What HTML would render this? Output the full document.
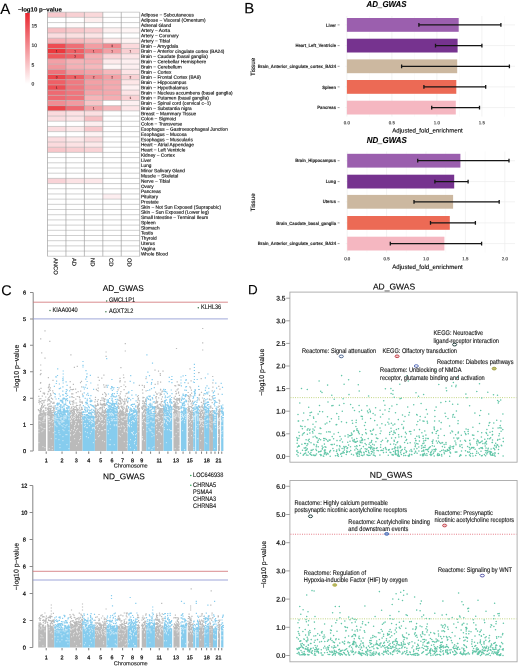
<!DOCTYPE html>
<html><head><meta charset="utf-8"><style>
html,body{margin:0;padding:0;background:#fff;width:520px;height:666px;overflow:hidden}
svg{display:block;font-family:"Liberation Sans", sans-serif;filter:blur(0.3px)}
text{stroke:#000;stroke-opacity:.45;stroke-width:.24px;text-rendering:geometricPrecision}
</style></head><body>
<svg width="520" height="666" viewBox="0 0 520 666">
<rect width="520" height="666" fill="#fff"/>
<text x="0.30" y="14.10" font-size="15" transform="rotate(0.03 0.30 14.10)">A</text>
<text x="17.90" y="11.60" font-size="6.1" font-weight="bold" transform="rotate(0.03 17.90 11.60)">−log10 p−value</text>
<defs><linearGradient id="cb" x1="0" y1="1" x2="0" y2="0"><stop offset="0" stop-color="#ffffff"/><stop offset="1" stop-color="#e8262f"/></linearGradient></defs>
<rect x="25.2" y="13" width="4.6" height="70.8" fill="url(#cb)"/>
<text x="31.60" y="27.50" font-size="5.0" fill="#111" transform="rotate(0.03 31.60 27.50)">15</text>
<text x="31.60" y="47.10" font-size="5.0" fill="#111" transform="rotate(0.03 31.60 47.10)">10</text>
<text x="31.60" y="66.70" font-size="5.0" fill="#111" transform="rotate(0.03 31.60 66.70)">5</text>
<text x="31.60" y="85.60" font-size="5.0" fill="#111" transform="rotate(0.03 31.60 85.60)">0</text>
<g>
<rect x="47.50" y="12.20" width="18.44" height="5.193" fill="#f8c8cc"/>
<rect x="65.94" y="12.20" width="18.44" height="5.193" fill="#f8d0d3"/>
<rect x="84.38" y="12.20" width="18.44" height="5.193" fill="#fad8da"/>
<rect x="102.82" y="12.20" width="18.44" height="5.193" fill="#ffffff"/>
<rect x="121.26" y="12.20" width="18.44" height="5.193" fill="#ffffff"/>
<rect x="47.50" y="17.39" width="18.44" height="5.193" fill="#ffffff"/>
<rect x="65.94" y="17.39" width="18.44" height="5.193" fill="#ffffff"/>
<rect x="84.38" y="17.39" width="18.44" height="5.193" fill="#fdeeee"/>
<rect x="102.82" y="17.39" width="18.44" height="5.193" fill="#ffffff"/>
<rect x="121.26" y="17.39" width="18.44" height="5.193" fill="#ffffff"/>
<rect x="47.50" y="22.59" width="18.44" height="5.193" fill="#ffffff"/>
<rect x="65.94" y="22.59" width="18.44" height="5.193" fill="#fefafa"/>
<rect x="84.38" y="22.59" width="18.44" height="5.193" fill="#ffffff"/>
<rect x="102.82" y="22.59" width="18.44" height="5.193" fill="#ffffff"/>
<rect x="121.26" y="22.59" width="18.44" height="5.193" fill="#ffffff"/>
<rect x="47.50" y="27.78" width="18.44" height="5.193" fill="#f7c0c4"/>
<rect x="65.94" y="27.78" width="18.44" height="5.193" fill="#f8c8cb"/>
<rect x="84.38" y="27.78" width="18.44" height="5.193" fill="#f9cfd2"/>
<rect x="102.82" y="27.78" width="18.44" height="5.193" fill="#fdf0f0"/>
<rect x="121.26" y="27.78" width="18.44" height="5.193" fill="#fef5f5"/>
<rect x="47.50" y="32.97" width="18.44" height="5.193" fill="#fbdcdf"/>
<rect x="65.94" y="32.97" width="18.44" height="5.193" fill="#fbdfe0"/>
<rect x="84.38" y="32.97" width="18.44" height="5.193" fill="#fce4e5"/>
<rect x="102.82" y="32.97" width="18.44" height="5.193" fill="#ffffff"/>
<rect x="121.26" y="32.97" width="18.44" height="5.193" fill="#ffffff"/>
<rect x="47.50" y="38.16" width="18.44" height="5.193" fill="#f5b0b5"/>
<rect x="65.94" y="38.16" width="18.44" height="5.193" fill="#f6b8bc"/>
<rect x="84.38" y="38.16" width="18.44" height="5.193" fill="#f7c0c3"/>
<rect x="102.82" y="38.16" width="18.44" height="5.193" fill="#fde8e9"/>
<rect x="121.26" y="38.16" width="18.44" height="5.193" fill="#fef3f3"/>
<rect x="47.50" y="43.36" width="18.44" height="5.193" fill="#ee4c52"/>
<rect x="65.94" y="43.36" width="18.44" height="5.193" fill="#ee6f76"/>
<rect x="84.38" y="43.36" width="18.44" height="5.193" fill="#f39da2"/>
<rect x="102.82" y="43.36" width="18.44" height="5.193" fill="#f08a90"/>
<rect x="121.26" y="43.36" width="18.44" height="5.193" fill="#fcd9dc"/>
<rect x="47.50" y="48.55" width="18.44" height="5.193" fill="#ec383d"/>
<rect x="65.94" y="48.55" width="18.44" height="5.193" fill="#ef5e63"/>
<rect x="84.38" y="48.55" width="18.44" height="5.193" fill="#f07f86"/>
<rect x="102.82" y="48.55" width="18.44" height="5.193" fill="#f4a0a5"/>
<rect x="121.26" y="48.55" width="18.44" height="5.193" fill="#f9cfd2"/>
<rect x="47.50" y="53.74" width="18.44" height="5.193" fill="#ef565b"/>
<rect x="65.94" y="53.74" width="18.44" height="5.193" fill="#ef6167"/>
<rect x="84.38" y="53.74" width="18.44" height="5.193" fill="#f5aeb3"/>
<rect x="102.82" y="53.74" width="18.44" height="5.193" fill="#fbd5d8"/>
<rect x="121.26" y="53.74" width="18.44" height="5.193" fill="#fde6e8"/>
<rect x="47.50" y="58.94" width="18.44" height="5.193" fill="#f3a0a6"/>
<rect x="65.94" y="58.94" width="18.44" height="5.193" fill="#f5b3b7"/>
<rect x="84.38" y="58.94" width="18.44" height="5.193" fill="#f5b0b5"/>
<rect x="102.82" y="58.94" width="18.44" height="5.193" fill="#fdeaeb"/>
<rect x="121.26" y="58.94" width="18.44" height="5.193" fill="#fdeff0"/>
<rect x="47.50" y="64.13" width="18.44" height="5.193" fill="#f2979d"/>
<rect x="65.94" y="64.13" width="18.44" height="5.193" fill="#f5b0b5"/>
<rect x="84.38" y="64.13" width="18.44" height="5.193" fill="#f6b8bc"/>
<rect x="102.82" y="64.13" width="18.44" height="5.193" fill="#fef6f6"/>
<rect x="121.26" y="64.13" width="18.44" height="5.193" fill="#fdeff0"/>
<rect x="47.50" y="69.32" width="18.44" height="5.193" fill="#ee727a"/>
<rect x="65.94" y="69.32" width="18.44" height="5.193" fill="#f29aa0"/>
<rect x="84.38" y="69.32" width="18.44" height="5.193" fill="#f3a3a8"/>
<rect x="102.82" y="69.32" width="18.44" height="5.193" fill="#f6b8bc"/>
<rect x="121.26" y="69.32" width="18.44" height="5.193" fill="#fde4e6"/>
<rect x="47.50" y="74.52" width="18.44" height="5.193" fill="#ec464b"/>
<rect x="65.94" y="74.52" width="18.44" height="5.193" fill="#ef5f64"/>
<rect x="84.38" y="74.52" width="18.44" height="5.193" fill="#f08a90"/>
<rect x="102.82" y="74.52" width="18.44" height="5.193" fill="#f3a0a5"/>
<rect x="121.26" y="74.52" width="18.44" height="5.193" fill="#f9d0d3"/>
<rect x="47.50" y="79.71" width="18.44" height="5.193" fill="#ef6066"/>
<rect x="65.94" y="79.71" width="18.44" height="5.193" fill="#ef7a81"/>
<rect x="84.38" y="79.71" width="18.44" height="5.193" fill="#f3a0a5"/>
<rect x="102.82" y="79.71" width="18.44" height="5.193" fill="#f4a8ad"/>
<rect x="121.26" y="79.71" width="18.44" height="5.193" fill="#fde6e7"/>
<rect x="47.50" y="84.90" width="18.44" height="5.193" fill="#ee4d53"/>
<rect x="65.94" y="84.90" width="18.44" height="5.193" fill="#ef767d"/>
<rect x="84.38" y="84.90" width="18.44" height="5.193" fill="#f29aa0"/>
<rect x="102.82" y="84.90" width="18.44" height="5.193" fill="#f4aab0"/>
<rect x="121.26" y="84.90" width="18.44" height="5.193" fill="#fef1f2"/>
<rect x="47.50" y="90.09" width="18.44" height="5.193" fill="#ee6a72"/>
<rect x="65.94" y="90.09" width="18.44" height="5.193" fill="#ef777e"/>
<rect x="84.38" y="90.09" width="18.44" height="5.193" fill="#f4a5aa"/>
<rect x="102.82" y="90.09" width="18.44" height="5.193" fill="#f4a8ad"/>
<rect x="121.26" y="90.09" width="18.44" height="5.193" fill="#fde4e6"/>
<rect x="47.50" y="95.29" width="18.44" height="5.193" fill="#ee6870"/>
<rect x="65.94" y="95.29" width="18.44" height="5.193" fill="#ef737a"/>
<rect x="84.38" y="95.29" width="18.44" height="5.193" fill="#f6b5b9"/>
<rect x="102.82" y="95.29" width="18.44" height="5.193" fill="#f5adb2"/>
<rect x="121.26" y="95.29" width="18.44" height="5.193" fill="#fad0d3"/>
<rect x="47.50" y="100.48" width="18.44" height="5.193" fill="#f08c92"/>
<rect x="65.94" y="100.48" width="18.44" height="5.193" fill="#f29aa0"/>
<rect x="84.38" y="100.48" width="18.44" height="5.193" fill="#f8c5c8"/>
<rect x="102.82" y="100.48" width="18.44" height="5.193" fill="#ffffff"/>
<rect x="121.26" y="100.48" width="18.44" height="5.193" fill="#fdf0f1"/>
<rect x="47.50" y="105.67" width="18.44" height="5.193" fill="#ec4449"/>
<rect x="65.94" y="105.67" width="18.44" height="5.193" fill="#ee6c74"/>
<rect x="84.38" y="105.67" width="18.44" height="5.193" fill="#f3a0a5"/>
<rect x="102.82" y="105.67" width="18.44" height="5.193" fill="#f6b8bc"/>
<rect x="121.26" y="105.67" width="18.44" height="5.193" fill="#fde6e8"/>
<rect x="47.50" y="110.87" width="18.44" height="5.193" fill="#fbdadd"/>
<rect x="65.94" y="110.87" width="18.44" height="5.193" fill="#fce2e4"/>
<rect x="84.38" y="110.87" width="18.44" height="5.193" fill="#fcdfe1"/>
<rect x="102.82" y="110.87" width="18.44" height="5.193" fill="#ffffff"/>
<rect x="121.26" y="110.87" width="18.44" height="5.193" fill="#ffffff"/>
<rect x="47.50" y="116.06" width="18.44" height="5.193" fill="#fbdde0"/>
<rect x="65.94" y="116.06" width="18.44" height="5.193" fill="#fce4e6"/>
<rect x="84.38" y="116.06" width="18.44" height="5.193" fill="#f7bfc3"/>
<rect x="102.82" y="116.06" width="18.44" height="5.193" fill="#ffffff"/>
<rect x="121.26" y="116.06" width="18.44" height="5.193" fill="#ffffff"/>
<rect x="47.50" y="121.25" width="18.44" height="5.193" fill="#ffffff"/>
<rect x="65.94" y="121.25" width="18.44" height="5.193" fill="#ffffff"/>
<rect x="84.38" y="121.25" width="18.44" height="5.193" fill="#fdeeef"/>
<rect x="102.82" y="121.25" width="18.44" height="5.193" fill="#ffffff"/>
<rect x="121.26" y="121.25" width="18.44" height="5.193" fill="#ffffff"/>
<rect x="47.50" y="126.45" width="18.44" height="5.193" fill="#fbdcdf"/>
<rect x="65.94" y="126.45" width="18.44" height="5.193" fill="#fde9ea"/>
<rect x="84.38" y="126.45" width="18.44" height="5.193" fill="#f8c8cc"/>
<rect x="102.82" y="126.45" width="18.44" height="5.193" fill="#ffffff"/>
<rect x="121.26" y="126.45" width="18.44" height="5.193" fill="#ffffff"/>
<rect x="47.50" y="131.64" width="18.44" height="5.193" fill="#ffffff"/>
<rect x="65.94" y="131.64" width="18.44" height="5.193" fill="#ffffff"/>
<rect x="84.38" y="131.64" width="18.44" height="5.193" fill="#fef3f4"/>
<rect x="102.82" y="131.64" width="18.44" height="5.193" fill="#ffffff"/>
<rect x="121.26" y="131.64" width="18.44" height="5.193" fill="#ffffff"/>
<rect x="47.50" y="136.83" width="18.44" height="5.193" fill="#fbdde0"/>
<rect x="65.94" y="136.83" width="18.44" height="5.193" fill="#fde9ea"/>
<rect x="84.38" y="136.83" width="18.44" height="5.193" fill="#fadadd"/>
<rect x="102.82" y="136.83" width="18.44" height="5.193" fill="#ffffff"/>
<rect x="121.26" y="136.83" width="18.44" height="5.193" fill="#ffffff"/>
<rect x="47.50" y="142.02" width="18.44" height="5.193" fill="#fbdadd"/>
<rect x="65.94" y="142.02" width="18.44" height="5.193" fill="#fce2e4"/>
<rect x="84.38" y="142.02" width="18.44" height="5.193" fill="#fde9ea"/>
<rect x="102.82" y="142.02" width="18.44" height="5.193" fill="#ffffff"/>
<rect x="121.26" y="142.02" width="18.44" height="5.193" fill="#ffffff"/>
<rect x="47.50" y="147.22" width="18.44" height="5.193" fill="#f8c6ca"/>
<rect x="65.94" y="147.22" width="18.44" height="5.193" fill="#f9ced1"/>
<rect x="84.38" y="147.22" width="18.44" height="5.193" fill="#fad3d6"/>
<rect x="102.82" y="147.22" width="18.44" height="5.193" fill="#ffffff"/>
<rect x="121.26" y="147.22" width="18.44" height="5.193" fill="#ffffff"/>
<rect x="47.50" y="152.41" width="18.44" height="5.193" fill="#ffffff"/>
<rect x="65.94" y="152.41" width="18.44" height="5.193" fill="#ffffff"/>
<rect x="84.38" y="152.41" width="18.44" height="5.193" fill="#ffffff"/>
<rect x="102.82" y="152.41" width="18.44" height="5.193" fill="#ffffff"/>
<rect x="121.26" y="152.41" width="18.44" height="5.193" fill="#ffffff"/>
<rect x="47.50" y="157.60" width="18.44" height="5.193" fill="#ffffff"/>
<rect x="65.94" y="157.60" width="18.44" height="5.193" fill="#ffffff"/>
<rect x="84.38" y="157.60" width="18.44" height="5.193" fill="#ffffff"/>
<rect x="102.82" y="157.60" width="18.44" height="5.193" fill="#ffffff"/>
<rect x="121.26" y="157.60" width="18.44" height="5.193" fill="#ffffff"/>
<rect x="47.50" y="162.80" width="18.44" height="5.193" fill="#ffffff"/>
<rect x="65.94" y="162.80" width="18.44" height="5.193" fill="#ffffff"/>
<rect x="84.38" y="162.80" width="18.44" height="5.193" fill="#ffffff"/>
<rect x="102.82" y="162.80" width="18.44" height="5.193" fill="#ffffff"/>
<rect x="121.26" y="162.80" width="18.44" height="5.193" fill="#ffffff"/>
<rect x="47.50" y="167.99" width="18.44" height="5.193" fill="#ffffff"/>
<rect x="65.94" y="167.99" width="18.44" height="5.193" fill="#ffffff"/>
<rect x="84.38" y="167.99" width="18.44" height="5.193" fill="#ffffff"/>
<rect x="102.82" y="167.99" width="18.44" height="5.193" fill="#ffffff"/>
<rect x="121.26" y="167.99" width="18.44" height="5.193" fill="#ffffff"/>
<rect x="47.50" y="173.18" width="18.44" height="5.193" fill="#ffffff"/>
<rect x="65.94" y="173.18" width="18.44" height="5.193" fill="#ffffff"/>
<rect x="84.38" y="173.18" width="18.44" height="5.193" fill="#ffffff"/>
<rect x="102.82" y="173.18" width="18.44" height="5.193" fill="#ffffff"/>
<rect x="121.26" y="173.18" width="18.44" height="5.193" fill="#ffffff"/>
<rect x="47.50" y="178.38" width="18.44" height="5.193" fill="#f9d3d7"/>
<rect x="65.94" y="178.38" width="18.44" height="5.193" fill="#fce3e5"/>
<rect x="84.38" y="178.38" width="18.44" height="5.193" fill="#fde7e9"/>
<rect x="102.82" y="178.38" width="18.44" height="5.193" fill="#ffffff"/>
<rect x="121.26" y="178.38" width="18.44" height="5.193" fill="#ffffff"/>
<rect x="47.50" y="183.57" width="18.44" height="5.193" fill="#ffffff"/>
<rect x="65.94" y="183.57" width="18.44" height="5.193" fill="#ffffff"/>
<rect x="84.38" y="183.57" width="18.44" height="5.193" fill="#ffffff"/>
<rect x="102.82" y="183.57" width="18.44" height="5.193" fill="#ffffff"/>
<rect x="121.26" y="183.57" width="18.44" height="5.193" fill="#ffffff"/>
<rect x="47.50" y="188.76" width="18.44" height="5.193" fill="#ffffff"/>
<rect x="65.94" y="188.76" width="18.44" height="5.193" fill="#ffffff"/>
<rect x="84.38" y="188.76" width="18.44" height="5.193" fill="#ffffff"/>
<rect x="102.82" y="188.76" width="18.44" height="5.193" fill="#ffffff"/>
<rect x="121.26" y="188.76" width="18.44" height="5.193" fill="#ffffff"/>
<rect x="47.50" y="193.95" width="18.44" height="5.193" fill="#ffffff"/>
<rect x="65.94" y="193.95" width="18.44" height="5.193" fill="#ffffff"/>
<rect x="84.38" y="193.95" width="18.44" height="5.193" fill="#ffffff"/>
<rect x="102.82" y="193.95" width="18.44" height="5.193" fill="#fdeef0"/>
<rect x="121.26" y="193.95" width="18.44" height="5.193" fill="#ffffff"/>
<rect x="47.50" y="199.15" width="18.44" height="5.193" fill="#ffffff"/>
<rect x="65.94" y="199.15" width="18.44" height="5.193" fill="#ffffff"/>
<rect x="84.38" y="199.15" width="18.44" height="5.193" fill="#ffffff"/>
<rect x="102.82" y="199.15" width="18.44" height="5.193" fill="#ffffff"/>
<rect x="121.26" y="199.15" width="18.44" height="5.193" fill="#ffffff"/>
<rect x="47.50" y="204.34" width="18.44" height="5.193" fill="#ffffff"/>
<rect x="65.94" y="204.34" width="18.44" height="5.193" fill="#ffffff"/>
<rect x="84.38" y="204.34" width="18.44" height="5.193" fill="#ffffff"/>
<rect x="102.82" y="204.34" width="18.44" height="5.193" fill="#ffffff"/>
<rect x="121.26" y="204.34" width="18.44" height="5.193" fill="#ffffff"/>
<rect x="47.50" y="209.53" width="18.44" height="5.193" fill="#ffffff"/>
<rect x="65.94" y="209.53" width="18.44" height="5.193" fill="#ffffff"/>
<rect x="84.38" y="209.53" width="18.44" height="5.193" fill="#ffffff"/>
<rect x="102.82" y="209.53" width="18.44" height="5.193" fill="#ffffff"/>
<rect x="121.26" y="209.53" width="18.44" height="5.193" fill="#ffffff"/>
<rect x="47.50" y="214.73" width="18.44" height="5.193" fill="#ffffff"/>
<rect x="65.94" y="214.73" width="18.44" height="5.193" fill="#ffffff"/>
<rect x="84.38" y="214.73" width="18.44" height="5.193" fill="#ffffff"/>
<rect x="102.82" y="214.73" width="18.44" height="5.193" fill="#ffffff"/>
<rect x="121.26" y="214.73" width="18.44" height="5.193" fill="#ffffff"/>
<rect x="47.50" y="219.92" width="18.44" height="5.193" fill="#ffffff"/>
<rect x="65.94" y="219.92" width="18.44" height="5.193" fill="#ffffff"/>
<rect x="84.38" y="219.92" width="18.44" height="5.193" fill="#ffffff"/>
<rect x="102.82" y="219.92" width="18.44" height="5.193" fill="#ffffff"/>
<rect x="121.26" y="219.92" width="18.44" height="5.193" fill="#ffffff"/>
<rect x="47.50" y="225.11" width="18.44" height="5.193" fill="#ffffff"/>
<rect x="65.94" y="225.11" width="18.44" height="5.193" fill="#ffffff"/>
<rect x="84.38" y="225.11" width="18.44" height="5.193" fill="#ffffff"/>
<rect x="102.82" y="225.11" width="18.44" height="5.193" fill="#ffffff"/>
<rect x="121.26" y="225.11" width="18.44" height="5.193" fill="#ffffff"/>
<rect x="47.50" y="230.31" width="18.44" height="5.193" fill="#ffffff"/>
<rect x="65.94" y="230.31" width="18.44" height="5.193" fill="#ffffff"/>
<rect x="84.38" y="230.31" width="18.44" height="5.193" fill="#ffffff"/>
<rect x="102.82" y="230.31" width="18.44" height="5.193" fill="#ffffff"/>
<rect x="121.26" y="230.31" width="18.44" height="5.193" fill="#ffffff"/>
<rect x="47.50" y="235.50" width="18.44" height="5.193" fill="#ffffff"/>
<rect x="65.94" y="235.50" width="18.44" height="5.193" fill="#ffffff"/>
<rect x="84.38" y="235.50" width="18.44" height="5.193" fill="#ffffff"/>
<rect x="102.82" y="235.50" width="18.44" height="5.193" fill="#ffffff"/>
<rect x="121.26" y="235.50" width="18.44" height="5.193" fill="#ffffff"/>
<rect x="47.50" y="240.69" width="18.44" height="5.193" fill="#ffffff"/>
<rect x="65.94" y="240.69" width="18.44" height="5.193" fill="#ffffff"/>
<rect x="84.38" y="240.69" width="18.44" height="5.193" fill="#ffffff"/>
<rect x="102.82" y="240.69" width="18.44" height="5.193" fill="#ffffff"/>
<rect x="121.26" y="240.69" width="18.44" height="5.193" fill="#ffffff"/>
<rect x="47.50" y="245.88" width="18.44" height="5.193" fill="#ffffff"/>
<rect x="65.94" y="245.88" width="18.44" height="5.193" fill="#ffffff"/>
<rect x="84.38" y="245.88" width="18.44" height="5.193" fill="#ffffff"/>
<rect x="102.82" y="245.88" width="18.44" height="5.193" fill="#ffffff"/>
<rect x="121.26" y="245.88" width="18.44" height="5.193" fill="#ffffff"/>
<rect x="47.50" y="251.08" width="18.44" height="5.193" fill="#ffffff"/>
<rect x="65.94" y="251.08" width="18.44" height="5.193" fill="#ffffff"/>
<rect x="84.38" y="251.08" width="18.44" height="5.193" fill="#ffffff"/>
<rect x="102.82" y="251.08" width="18.44" height="5.193" fill="#ffffff"/>
<rect x="121.26" y="251.08" width="18.44" height="5.193" fill="#ffffff"/>
</g>
<path d="M47.50 12.20H139.70M47.50 17.39H139.70M47.50 22.59H139.70M47.50 27.78H139.70M47.50 32.97H139.70M47.50 38.16H139.70M47.50 43.36H139.70M47.50 48.55H139.70M47.50 53.74H139.70M47.50 58.94H139.70M47.50 64.13H139.70M47.50 69.32H139.70M47.50 74.52H139.70M47.50 79.71H139.70M47.50 84.90H139.70M47.50 90.09H139.70M47.50 95.29H139.70M47.50 100.48H139.70M47.50 105.67H139.70M47.50 110.87H139.70M47.50 116.06H139.70M47.50 121.25H139.70M47.50 126.45H139.70M47.50 131.64H139.70M47.50 136.83H139.70M47.50 142.02H139.70M47.50 147.22H139.70M47.50 152.41H139.70M47.50 157.60H139.70M47.50 162.80H139.70M47.50 167.99H139.70M47.50 173.18H139.70M47.50 178.38H139.70M47.50 183.57H139.70M47.50 188.76H139.70M47.50 193.95H139.70M47.50 199.15H139.70M47.50 204.34H139.70M47.50 209.53H139.70M47.50 214.73H139.70M47.50 219.92H139.70M47.50 225.11H139.70M47.50 230.31H139.70M47.50 235.50H139.70M47.50 240.69H139.70M47.50 245.88H139.70M47.50 251.08H139.70M47.50 256.27H139.70" stroke="#b0b0b0" stroke-width="0.6" fill="none"/>
<path d="M47.50 12.20V256.27M65.94 12.20V256.27M84.38 12.20V256.27M102.82 12.20V256.27M121.26 12.20V256.27M139.70 12.20V256.27" stroke="#999999" stroke-width="0.65" fill="none"/>
<text x="112.04" y="47.11" font-size="3.2" text-anchor="middle" fill="#9a4a50" transform="rotate(0.03 112.04 47.11)">3</text>
<text x="56.72" y="52.30" font-size="3.2" text-anchor="middle" fill="#9a4a50" transform="rotate(0.03 56.72 52.30)">1</text>
<text x="75.16" y="52.30" font-size="3.2" text-anchor="middle" fill="#9a4a50" transform="rotate(0.03 75.16 52.30)">1</text>
<text x="93.60" y="52.30" font-size="3.2" text-anchor="middle" fill="#9a4a50" transform="rotate(0.03 93.60 52.30)">1</text>
<text x="112.04" y="52.30" font-size="3.2" text-anchor="middle" fill="#9a4a50" transform="rotate(0.03 112.04 52.30)">1</text>
<text x="130.48" y="52.30" font-size="3.2" text-anchor="middle" fill="#9a4a50" transform="rotate(0.03 130.48 52.30)">1</text>
<text x="75.16" y="57.49" font-size="3.2" text-anchor="middle" fill="#9a4a50" transform="rotate(0.03 75.16 57.49)">2</text>
<text x="56.72" y="78.26" font-size="3.2" text-anchor="middle" fill="#9a4a50" transform="rotate(0.03 56.72 78.26)">3</text>
<text x="75.16" y="78.26" font-size="3.2" text-anchor="middle" fill="#9a4a50" transform="rotate(0.03 75.16 78.26)">3</text>
<text x="93.60" y="78.26" font-size="3.2" text-anchor="middle" fill="#9a4a50" transform="rotate(0.03 93.60 78.26)">2</text>
<text x="112.04" y="78.26" font-size="3.2" text-anchor="middle" fill="#9a4a50" transform="rotate(0.03 112.04 78.26)">2</text>
<text x="130.48" y="78.26" font-size="3.2" text-anchor="middle" fill="#9a4a50" transform="rotate(0.03 130.48 78.26)">2</text>
<text x="56.72" y="88.65" font-size="3.2" text-anchor="middle" fill="#9a4a50" transform="rotate(0.03 56.72 88.65)">1</text>
<text x="130.48" y="99.04" font-size="3.2" text-anchor="middle" fill="#9a4a50" transform="rotate(0.03 130.48 99.04)">1</text>
<text x="93.60" y="109.42" font-size="3.2" text-anchor="middle" fill="#9a4a50" transform="rotate(0.03 93.60 109.42)">1</text>
<text x="140.90" y="16.51" font-size="4.75" transform="rotate(0.03 140.90 16.51)">Adipose − Subcutaneous</text>
<text x="140.90" y="21.70" font-size="4.75" transform="rotate(0.03 140.90 21.70)">Adipose − Visceral (Omentum)</text>
<text x="140.90" y="26.89" font-size="4.75" transform="rotate(0.03 140.90 26.89)">Adrenal Gland</text>
<text x="140.90" y="32.09" font-size="4.75" transform="rotate(0.03 140.90 32.09)">Artery − Aorta</text>
<text x="140.90" y="37.28" font-size="4.75" transform="rotate(0.03 140.90 37.28)">Artery − Coronary</text>
<text x="140.90" y="42.47" font-size="4.75" transform="rotate(0.03 140.90 42.47)">Artery − Tibial</text>
<text x="140.90" y="47.66" font-size="4.75" transform="rotate(0.03 140.90 47.66)">Brain − Amygdala</text>
<text x="140.90" y="52.86" font-size="4.75" transform="rotate(0.03 140.90 52.86)">Brain − Anterior cingulate cortex (BA24)</text>
<text x="140.90" y="58.05" font-size="4.75" transform="rotate(0.03 140.90 58.05)">Brain − Caudate (basal ganglia)</text>
<text x="140.90" y="63.24" font-size="4.75" transform="rotate(0.03 140.90 63.24)">Brain − Cerebellar Hemisphere</text>
<text x="140.90" y="68.44" font-size="4.75" transform="rotate(0.03 140.90 68.44)">Brain − Cerebellum</text>
<text x="140.90" y="73.63" font-size="4.75" transform="rotate(0.03 140.90 73.63)">Brain − Cortex</text>
<text x="140.90" y="78.82" font-size="4.75" transform="rotate(0.03 140.90 78.82)">Brain − Frontal Cortex (BA9)</text>
<text x="140.90" y="84.02" font-size="4.75" transform="rotate(0.03 140.90 84.02)">Brain − Hippocampus</text>
<text x="140.90" y="89.21" font-size="4.75" transform="rotate(0.03 140.90 89.21)">Brain − Hypothalamus</text>
<text x="140.90" y="94.40" font-size="4.75" transform="rotate(0.03 140.90 94.40)">Brain − Nucleus accumbens (basal ganglia)</text>
<text x="140.90" y="99.59" font-size="4.75" transform="rotate(0.03 140.90 99.59)">Brain − Putamen (basal ganglia)</text>
<text x="140.90" y="104.79" font-size="4.75" transform="rotate(0.03 140.90 104.79)">Brain − Spinal cord (cervical c−1)</text>
<text x="140.90" y="109.98" font-size="4.75" transform="rotate(0.03 140.90 109.98)">Brain − Substantia nigra</text>
<text x="140.90" y="115.17" font-size="4.75" transform="rotate(0.03 140.90 115.17)">Breast − Mammary Tissue</text>
<text x="140.90" y="120.37" font-size="4.75" transform="rotate(0.03 140.90 120.37)">Colon − Sigmoid</text>
<text x="140.90" y="125.56" font-size="4.75" transform="rotate(0.03 140.90 125.56)">Colon − Transverse</text>
<text x="140.90" y="130.75" font-size="4.75" transform="rotate(0.03 140.90 130.75)">Esophagus − Gastroesophageal Junction</text>
<text x="140.90" y="135.95" font-size="4.75" transform="rotate(0.03 140.90 135.95)">Esophagus − Mucosa</text>
<text x="140.90" y="141.14" font-size="4.75" transform="rotate(0.03 140.90 141.14)">Esophagus − Muscularis</text>
<text x="140.90" y="146.33" font-size="4.75" transform="rotate(0.03 140.90 146.33)">Heart − Atrial Appendage</text>
<text x="140.90" y="151.52" font-size="4.75" transform="rotate(0.03 140.90 151.52)">Heart − Left Ventricle</text>
<text x="140.90" y="156.72" font-size="4.75" transform="rotate(0.03 140.90 156.72)">Kidney − Cortex</text>
<text x="140.90" y="161.91" font-size="4.75" transform="rotate(0.03 140.90 161.91)">Liver</text>
<text x="140.90" y="167.10" font-size="4.75" transform="rotate(0.03 140.90 167.10)">Lung</text>
<text x="140.90" y="172.30" font-size="4.75" transform="rotate(0.03 140.90 172.30)">Minor Salivary Gland</text>
<text x="140.90" y="177.49" font-size="4.75" transform="rotate(0.03 140.90 177.49)">Muscle − Skeletal</text>
<text x="140.90" y="182.68" font-size="4.75" transform="rotate(0.03 140.90 182.68)">Nerve − Tibial</text>
<text x="140.90" y="187.88" font-size="4.75" transform="rotate(0.03 140.90 187.88)">Ovary</text>
<text x="140.90" y="193.07" font-size="4.75" transform="rotate(0.03 140.90 193.07)">Pancreas</text>
<text x="140.90" y="198.26" font-size="4.75" transform="rotate(0.03 140.90 198.26)">Pituitary</text>
<text x="140.90" y="203.45" font-size="4.75" transform="rotate(0.03 140.90 203.45)">Prostate</text>
<text x="140.90" y="208.65" font-size="4.75" transform="rotate(0.03 140.90 208.65)">Skin − Not Sun Exposed (Suprapubic)</text>
<text x="140.90" y="213.84" font-size="4.75" transform="rotate(0.03 140.90 213.84)">Skin − Sun Exposed (Lower leg)</text>
<text x="140.90" y="219.03" font-size="4.75" transform="rotate(0.03 140.90 219.03)">Small Intestine − Terminal Ileum</text>
<text x="140.90" y="224.23" font-size="4.75" transform="rotate(0.03 140.90 224.23)">Spleen</text>
<text x="140.90" y="229.42" font-size="4.75" transform="rotate(0.03 140.90 229.42)">Stomach</text>
<text x="140.90" y="234.61" font-size="4.75" transform="rotate(0.03 140.90 234.61)">Testis</text>
<text x="140.90" y="239.81" font-size="4.75" transform="rotate(0.03 140.90 239.81)">Thyroid</text>
<text x="140.90" y="245.00" font-size="4.75" transform="rotate(0.03 140.90 245.00)">Uterus</text>
<text x="140.90" y="250.19" font-size="4.75" transform="rotate(0.03 140.90 250.19)">Vagina</text>
<text x="140.90" y="255.38" font-size="4.75" transform="rotate(0.03 140.90 255.38)">Whole Blood</text>
<text x="53.82" y="258.00" font-size="5.8" transform="rotate(90.03 53.82 258.00)">ANCO</text>
<text x="72.26" y="258.00" font-size="5.8" transform="rotate(90.03 72.26 258.00)">AD</text>
<text x="90.70" y="258.00" font-size="5.8" transform="rotate(90.03 90.70 258.00)">ND</text>
<text x="109.14" y="258.00" font-size="5.8" transform="rotate(90.03 109.14 258.00)">CD</text>
<text x="127.58" y="258.00" font-size="5.8" transform="rotate(90.03 127.58 258.00)">OD</text>
<text x="244.30" y="13.20" font-size="15" transform="rotate(0.03 244.30 13.20)">B</text>
<text x="366.60" y="7.30" font-size="8.6" font-weight="bold" font-style="italic" transform="rotate(0.03 366.60 7.30)" textLength="40.00" lengthAdjust="spacingAndGlyphs">AD_GWAS</text>
<path d="M369.40 16.00V116.50M414.40 16.00V116.50M459.40 16.00V116.50M504.40 16.00V116.50" stroke="#f4f4f4" stroke-width="0.5" fill="none"/>
<path d="M346.90 16.00V116.50M391.90 16.00V116.50M436.90 16.00V116.50M481.90 16.00V116.50M345.40 24.90H515.00M345.40 45.60H515.00M345.40 66.30H515.00M345.40 86.90H515.00M345.40 107.60H515.00" stroke="#ececec" stroke-width="0.7" fill="none"/>
<rect x="346.90" y="18.00" width="111.80" height="13.8" fill="#9b5fae"/>
<rect x="346.90" y="38.70" width="110.70" height="13.8" fill="#76338f"/>
<rect x="346.90" y="59.40" width="110.30" height="13.8" fill="#ccb8a0"/>
<rect x="346.90" y="80.00" width="109.40" height="13.8" fill="#ec6a55"/>
<rect x="346.90" y="100.70" width="108.90" height="13.8" fill="#f5b7c1"/>
<path d="M418.90 24.90H500.90M418.90 23.00V26.80M500.90 23.00V26.80M435.50 45.60H481.90M435.50 43.70V47.50M481.90 43.70V47.50M401.60 66.30H509.40M401.60 64.40V68.20M509.40 64.40V68.20M423.90 86.90H485.70M423.90 85.00V88.80M485.70 85.00V88.80M431.70 107.60H479.50M431.70 105.70V109.50M479.50 105.70V109.50" stroke="#151515" stroke-width="1.3" fill="none"/>
<text x="336.00" y="26.56" font-size="4.6" font-weight="bold" text-anchor="end" fill="#333" transform="rotate(0.03 336.00 26.56)" textLength="10.04" lengthAdjust="spacingAndGlyphs">Liver</text>
<text x="336.00" y="47.26" font-size="4.6" font-weight="bold" text-anchor="end" fill="#333" transform="rotate(0.03 336.00 47.26)" textLength="40.62" lengthAdjust="spacingAndGlyphs">Heart_Left_Ventricle</text>
<text x="336.00" y="67.96" font-size="4.6" font-weight="bold" text-anchor="end" fill="#333" transform="rotate(0.03 336.00 67.96)" textLength="78.19" lengthAdjust="spacingAndGlyphs">Brain_Anterior_cingulate_cortex_BA24</text>
<text x="336.00" y="88.56" font-size="4.6" font-weight="bold" text-anchor="end" fill="#333" transform="rotate(0.03 336.00 88.56)" textLength="13.77" lengthAdjust="spacingAndGlyphs">Spleen</text>
<text x="336.00" y="109.26" font-size="4.6" font-weight="bold" text-anchor="end" fill="#333" transform="rotate(0.03 336.00 109.26)" textLength="18.68" lengthAdjust="spacingAndGlyphs">Pancreas</text>
<path d="M337.6 24.90H339.6M337.6 45.60H339.6M337.6 66.30H339.6M337.6 86.90H339.6M337.6 107.60H339.6" stroke="#555" stroke-width="0.6"/>
<text x="346.90" y="124.28" font-size="4.4" text-anchor="middle" fill="#333" transform="rotate(0.03 346.90 124.28)">0.0</text>
<text x="391.90" y="124.28" font-size="4.4" text-anchor="middle" fill="#333" transform="rotate(0.03 391.90 124.28)">0.5</text>
<text x="436.90" y="124.28" font-size="4.4" text-anchor="middle" fill="#333" transform="rotate(0.03 436.90 124.28)">1.0</text>
<text x="481.90" y="124.28" font-size="4.4" text-anchor="middle" fill="#333" transform="rotate(0.03 481.90 124.28)">1.5</text>
<text x="427.50" y="132.50" font-size="6.1" text-anchor="middle" transform="rotate(0.03 427.50 132.50)">Adjusted_fold_enrichment</text>
<text x="255.00" y="66.90" font-size="6.2" text-anchor="middle" transform="rotate(-89.97 255.00 66.90)">Tissue</text>
<text x="366.70" y="142.80" font-size="8.6" font-weight="bold" font-style="italic" transform="rotate(0.03 366.70 142.80)" textLength="40.00" lengthAdjust="spacingAndGlyphs">ND_GWAS</text>
<path d="M366.90 151.50V252.50M406.30 151.50V252.50M445.70 151.50V252.50M485.10 151.50V252.50" stroke="#f4f4f4" stroke-width="0.5" fill="none"/>
<path d="M347.20 151.50V252.50M386.60 151.50V252.50M426.00 151.50V252.50M465.40 151.50V252.50M504.80 151.50V252.50M345.70 160.70H515.00M345.70 181.60H515.00M345.70 201.80H515.00M345.70 222.90H515.00M345.70 243.60H515.00" stroke="#ececec" stroke-width="0.7" fill="none"/>
<rect x="347.20" y="153.80" width="113.20" height="13.8" fill="#9b5fae"/>
<rect x="347.20" y="174.70" width="107.00" height="13.8" fill="#76338f"/>
<rect x="347.20" y="194.90" width="105.90" height="13.8" fill="#ccb8a0"/>
<rect x="347.20" y="216.00" width="102.60" height="13.8" fill="#ec6a55"/>
<rect x="347.20" y="236.70" width="97.20" height="13.8" fill="#f5b7c1"/>
<path d="M417.70 160.70H509.00M417.70 158.80V162.60M509.00 158.80V162.60M434.90 181.60H468.10M434.90 179.70V183.50M468.10 179.70V183.50M414.00 201.80H499.20M414.00 199.90V203.70M499.20 199.90V203.70M430.50 222.90H475.40M430.50 221.00V224.80M475.40 221.00V224.80M390.30 243.60H481.60M390.30 241.70V245.50M481.60 241.70V245.50" stroke="#151515" stroke-width="1.3" fill="none"/>
<text x="336.00" y="162.36" font-size="4.6" font-weight="bold" text-anchor="end" fill="#333" transform="rotate(0.03 336.00 162.36)" textLength="40.84" lengthAdjust="spacingAndGlyphs">Brain_Hippocampus</text>
<text x="336.00" y="183.26" font-size="4.6" font-weight="bold" text-anchor="end" fill="#333" transform="rotate(0.03 336.00 183.26)" textLength="10.26" lengthAdjust="spacingAndGlyphs">Lung</text>
<text x="336.00" y="203.46" font-size="4.6" font-weight="bold" text-anchor="end" fill="#333" transform="rotate(0.03 336.00 203.46)" textLength="13.30" lengthAdjust="spacingAndGlyphs">Uterus</text>
<text x="336.00" y="224.56" font-size="4.6" font-weight="bold" text-anchor="end" fill="#333" transform="rotate(0.03 336.00 224.56)" textLength="59.75" lengthAdjust="spacingAndGlyphs">Brain_Caudate_basal_ganglia</text>
<text x="336.00" y="245.26" font-size="4.6" font-weight="bold" text-anchor="end" fill="#333" transform="rotate(0.03 336.00 245.26)" textLength="78.19" lengthAdjust="spacingAndGlyphs">Brain_Anterior_cingulate_cortex_BA24</text>
<path d="M337.6 160.70H339.6M337.6 181.60H339.6M337.6 201.80H339.6M337.6 222.90H339.6M337.6 243.60H339.6" stroke="#555" stroke-width="0.6"/>
<text x="347.20" y="260.28" font-size="4.4" text-anchor="middle" fill="#333" transform="rotate(0.03 347.20 260.28)">0.0</text>
<text x="386.60" y="260.28" font-size="4.4" text-anchor="middle" fill="#333" transform="rotate(0.03 386.60 260.28)">0.5</text>
<text x="426.00" y="260.28" font-size="4.4" text-anchor="middle" fill="#333" transform="rotate(0.03 426.00 260.28)">1.0</text>
<text x="465.40" y="260.28" font-size="4.4" text-anchor="middle" fill="#333" transform="rotate(0.03 465.40 260.28)">1.5</text>
<text x="504.80" y="260.28" font-size="4.4" text-anchor="middle" fill="#333" transform="rotate(0.03 504.80 260.28)">2.0</text>
<text x="427.50" y="268.90" font-size="6.1" text-anchor="middle" transform="rotate(0.03 427.50 268.90)">Adjusted_fold_enrichment</text>
<text x="255.00" y="202.40" font-size="6.2" text-anchor="middle" transform="rotate(-89.97 255.00 202.40)">Tissue</text>
<text x="1.30" y="295.30" font-size="14.4" transform="rotate(0.03 1.30 295.30)">C</text>
<text x="102.70" y="290.90" font-size="8.3" transform="rotate(0.03 102.70 290.90)">AD_GWAS</text>
<path d="M38.20 451.00V414.84H46.01V451.00ZM47.49 451.00V414.84H54.22V451.00ZM69.86 451.00V415.43H82.59V451.00ZM94.88 451.00V415.59H106.50V451.00ZM117.50 451.00V414.76H127.73V451.00ZM137.14 451.00V411.97H139.62V451.00ZM141.71 451.00V411.97H146.22V451.00ZM154.93 451.00V415.00H163.61V451.00ZM173.44 451.00V411.81H179.62V451.00ZM187.81 451.00V414.57H193.11V451.00ZM198.92 451.00V416.26H204.14V451.00ZM209.16 451.00V415.61H212.96V451.00ZM217.94 451.00V413.93H220.10V451.00Z" fill="#bababa"/>
<path d="M54.22 451.00V414.67H69.86V451.00ZM82.59 451.00V417.57H94.88V451.00ZM106.50 451.00V412.11H117.50V451.00ZM127.73 451.00V417.14H137.14V451.00ZM146.22 451.00V413.49H154.93V451.00ZM163.61 451.00V413.01H172.22V451.00ZM180.87 451.00V412.76H186.52V451.00ZM193.11 451.00V412.58H195.38V451.00ZM196.10 451.00V412.58H198.92V451.00ZM204.14 451.00V411.71H209.16V451.00ZM212.96 451.00V415.35H217.01V451.00ZM221.13 451.00V417.52H223.40V451.00Z" fill="#86ccee"/>
<path d="M44.5 447.7h0.9M42.5 446.7h0.9M38.5 442.7h0.9M38.5 432.7h0.9M41.5 431.7h0.9M42.5 430.7h0.9M38.5 429.7h0.9M43.5 428.7h0.9M44.5 428.7h0.9M41.5 427.7h0.9M40.5 426.7h0.9M39.5 423.7h0.9M42.5 422.7h0.9M44.5 422.7h0.9M40.5 421.7h0.9M38.5 420.7h0.9M39.5 420.7h0.9M42.5 420.7h0.9M43.5 420.7h0.9M43.5 419.7h0.9M43.5 418.7h0.9M44.5 418.7h0.9M43.5 417.7h0.9M44.5 417.7h0.9M39.5 416.7h0.9M40.5 416.7h0.9M44.5 416.7h0.9M41.5 415.7h0.9M42.5 415.7h0.9M44.5 415.7h0.9M51.8 449.7h0.9M48.8 448.7h0.9M51.8 446.7h0.9M50.8 438.7h0.9M52.8 432.7h0.9M48.8 430.7h0.9M48.8 427.7h0.9M49.8 426.7h0.9M51.8 426.7h0.9M48.8 424.7h0.9M51.8 422.7h0.9M48.8 421.7h0.9M49.8 421.7h0.9M52.8 421.7h0.9M50.8 420.7h0.9M47.8 419.7h0.9M48.8 419.7h0.9M52.8 419.7h0.9M51.8 418.7h0.9M52.8 418.7h0.9M47.8 417.7h0.9M48.8 417.7h0.9M52.8 417.7h0.9M47.8 416.7h0.9M48.8 416.7h0.9M52.8 416.7h0.9M47.8 415.7h0.9M51.8 415.7h0.9M68.5 448.7h0.9M59.5 447.7h0.9M59.5 444.7h0.9M66.5 444.7h0.9M62.5 440.7h0.9M58.5 439.7h0.9M55.5 438.7h0.9M62.5 436.7h0.9M55.5 434.7h0.9M59.5 434.7h0.9M65.5 434.7h0.9M66.5 434.7h0.9M58.5 432.7h0.9M54.5 431.7h0.9M58.5 430.7h0.9M63.5 430.7h0.9M68.5 430.7h0.9M62.5 429.7h0.9M64.5 427.7h0.9M56.5 426.7h0.9M62.5 426.7h0.9M68.5 426.7h0.9M55.5 425.7h0.9M61.5 425.7h0.9M65.5 425.7h0.9M54.5 424.7h0.9M59.5 424.7h0.9M63.5 424.7h0.9M66.5 424.7h0.9M54.5 423.7h0.9M58.5 423.7h0.9M59.5 423.7h0.9M58.5 422.7h0.9M61.5 422.7h0.9M57.5 421.7h0.9M59.5 421.7h0.9M61.5 421.7h0.9M62.5 421.7h0.9M63.5 421.7h0.9M55.5 420.7h0.9M57.5 420.7h0.9M61.5 420.7h0.9M62.5 420.7h0.9M54.5 419.7h0.9M60.5 419.7h0.9M63.5 419.7h0.9M68.5 419.7h0.9M55.5 418.7h0.9M56.5 418.7h0.9M57.5 418.7h0.9M59.5 418.7h0.9M60.5 418.7h0.9M63.5 418.7h0.9M65.5 418.7h0.9M68.5 418.7h0.9M54.5 417.7h0.9M55.5 417.7h0.9M60.5 417.7h0.9M61.5 417.7h0.9M63.5 417.7h0.9M64.5 417.7h0.9M65.5 417.7h0.9M55.5 416.7h0.9M58.5 416.7h0.9M63.5 416.7h0.9M65.5 416.7h0.9M68.5 416.7h0.9M54.5 415.7h0.9M55.5 415.7h0.9M57.5 415.7h0.9M58.5 415.7h0.9M61.5 415.7h0.9M63.5 415.7h0.9M64.5 415.7h0.9M65.5 415.7h0.9M67.5 415.7h0.9M57.5 414.7h0.9M58.5 414.7h0.9M59.5 414.7h0.9M60.5 414.7h0.9M61.5 414.7h0.9M62.5 414.7h0.9M66.5 414.7h0.9M67.5 414.7h0.9M68.5 414.7h0.9M76.2 445.7h0.9M78.2 442.7h0.9M70.2 441.7h0.9M79.2 439.7h0.9M74.2 438.7h0.9M80.2 438.7h0.9M80.2 436.7h0.9M70.2 435.7h0.9M70.2 434.7h0.9M73.2 434.7h0.9M74.2 433.7h0.9M80.2 432.7h0.9M70.2 431.7h0.9M75.2 431.7h0.9M79.2 431.7h0.9M73.2 430.7h0.9M71.2 429.7h0.9M76.2 429.7h0.9M74.2 428.7h0.9M77.2 428.7h0.9M74.2 427.7h0.9M74.2 425.7h0.9M75.2 424.7h0.9M78.2 424.7h0.9M71.2 423.7h0.9M75.2 423.7h0.9M78.2 423.7h0.9M81.2 423.7h0.9M70.2 421.7h0.9M71.2 421.7h0.9M75.2 421.7h0.9M76.2 421.7h0.9M71.2 420.7h0.9M81.2 420.7h0.9M70.2 419.7h0.9M74.2 419.7h0.9M70.2 418.7h0.9M72.2 418.7h0.9M75.2 418.7h0.9M77.2 418.7h0.9M79.2 418.7h0.9M81.2 418.7h0.9M71.2 417.7h0.9M73.2 417.7h0.9M74.2 417.7h0.9M81.2 417.7h0.9M71.2 416.7h0.9M73.2 416.7h0.9M75.2 416.7h0.9M79.2 416.7h0.9M72.2 415.7h0.9M73.2 415.7h0.9M74.2 415.7h0.9M92.9 442.7h0.9M87.9 437.7h0.9M85.9 436.7h0.9M89.9 433.7h0.9M86.9 432.7h0.9M84.9 431.7h0.9M90.9 431.7h0.9M91.9 428.7h0.9M93.9 428.7h0.9M85.9 427.7h0.9M86.9 427.7h0.9M91.9 427.7h0.9M92.9 427.7h0.9M93.9 427.7h0.9M83.9 426.7h0.9M84.9 425.7h0.9M88.9 425.7h0.9M83.9 423.7h0.9M84.9 423.7h0.9M86.9 423.7h0.9M90.9 423.7h0.9M91.9 422.7h0.9M92.9 422.7h0.9M88.9 421.7h0.9M90.9 421.7h0.9M91.9 421.7h0.9M82.9 420.7h0.9M89.9 420.7h0.9M93.9 420.7h0.9M84.9 419.7h0.9M87.9 419.7h0.9M88.9 419.7h0.9M90.9 419.7h0.9M91.9 419.7h0.9M93.9 419.7h0.9M84.9 418.7h0.9M86.9 418.7h0.9M90.9 418.7h0.9M91.9 418.7h0.9M93.9 418.7h0.9M82.9 417.7h0.9M83.9 417.7h0.9M84.9 417.7h0.9M87.9 417.7h0.9M88.9 417.7h0.9M90.9 417.7h0.9M104.2 441.7h0.9M102.2 440.7h0.9M95.2 439.7h0.9M98.2 436.7h0.9M99.2 435.7h0.9M97.2 433.7h0.9M98.2 430.7h0.9M101.2 430.7h0.9M102.2 430.7h0.9M95.2 429.7h0.9M104.2 429.7h0.9M105.2 429.7h0.9M99.2 428.7h0.9M97.2 426.7h0.9M95.2 425.7h0.9M102.2 425.7h0.9M96.2 424.7h0.9M97.2 424.7h0.9M103.2 424.7h0.9M98.2 423.7h0.9M101.2 423.7h0.9M102.2 423.7h0.9M104.2 423.7h0.9M98.2 422.7h0.9M99.2 422.7h0.9M95.2 420.7h0.9M100.2 420.7h0.9M104.2 420.7h0.9M95.2 419.7h0.9M99.2 419.7h0.9M101.2 419.7h0.9M102.2 419.7h0.9M95.2 418.7h0.9M96.2 418.7h0.9M99.2 418.7h0.9M102.2 418.7h0.9M105.2 418.7h0.9M97.2 417.7h0.9M99.2 417.7h0.9M101.2 417.7h0.9M102.2 417.7h0.9M100.2 416.7h0.9M101.2 416.7h0.9M105.2 416.7h0.9M96.2 415.7h0.9M97.2 415.7h0.9M98.2 415.7h0.9M99.2 415.7h0.9M102.2 415.7h0.9M103.2 415.7h0.9M104.2 415.7h0.9M108.8 444.7h0.9M109.8 444.7h0.9M113.8 444.7h0.9M109.8 439.7h0.9M107.8 433.7h0.9M107.8 430.7h0.9M109.8 428.7h0.9M113.8 425.7h0.9M115.8 425.7h0.9M106.8 424.7h0.9M109.8 424.7h0.9M113.8 424.7h0.9M115.8 424.7h0.9M106.8 423.7h0.9M108.8 422.7h0.9M106.8 421.7h0.9M108.8 421.7h0.9M110.8 420.7h0.9M111.8 420.7h0.9M113.8 420.7h0.9M114.8 420.7h0.9M115.8 420.7h0.9M107.8 419.7h0.9M111.8 419.7h0.9M110.8 418.7h0.9M112.8 418.7h0.9M113.8 418.7h0.9M115.8 418.7h0.9M106.8 416.7h0.9M115.8 416.7h0.9M108.8 415.7h0.9M110.8 415.7h0.9M112.8 415.7h0.9M109.8 414.7h0.9M111.8 414.7h0.9M112.8 414.7h0.9M106.8 413.7h0.9M108.8 413.7h0.9M109.8 413.7h0.9M110.8 413.7h0.9M111.8 413.7h0.9M114.8 413.7h0.9M115.8 413.7h0.9M108.8 412.7h0.9M110.8 412.7h0.9M111.8 412.7h0.9M114.8 412.7h0.9M125.8 447.7h0.9M126.8 444.7h0.9M123.8 441.7h0.9M126.8 441.7h0.9M119.8 436.7h0.9M118.8 435.7h0.9M121.8 433.7h0.9M126.8 432.7h0.9M123.8 431.7h0.9M125.8 431.7h0.9M123.8 430.7h0.9M119.8 429.7h0.9M123.8 429.7h0.9M124.8 428.7h0.9M117.8 426.7h0.9M118.8 426.7h0.9M120.8 426.7h0.9M123.8 426.7h0.9M126.8 426.7h0.9M120.8 425.7h0.9M122.8 425.7h0.9M126.8 424.7h0.9M118.8 423.7h0.9M126.8 422.7h0.9M121.8 421.7h0.9M122.8 421.7h0.9M117.8 420.7h0.9M120.8 420.7h0.9M123.8 419.7h0.9M124.8 419.7h0.9M125.8 419.7h0.9M118.8 418.7h0.9M125.8 418.7h0.9M117.8 417.7h0.9M120.8 417.7h0.9M121.8 417.7h0.9M125.8 417.7h0.9M120.8 416.7h0.9M121.8 416.7h0.9M122.8 416.7h0.9M123.8 416.7h0.9M125.8 416.7h0.9M126.8 416.7h0.9M117.8 415.7h0.9M120.8 415.7h0.9M123.8 415.7h0.9M126.8 415.7h0.9M134.0 449.7h0.9M130.0 447.7h0.9M136.0 445.7h0.9M129.0 444.7h0.9M134.0 443.7h0.9M134.0 441.7h0.9M135.0 440.7h0.9M130.0 439.7h0.9M135.0 437.7h0.9M133.0 434.7h0.9M135.0 434.7h0.9M132.0 433.7h0.9M136.0 433.7h0.9M131.0 432.7h0.9M132.0 432.7h0.9M133.0 431.7h0.9M129.0 426.7h0.9M131.0 426.7h0.9M128.0 425.7h0.9M129.0 425.7h0.9M128.0 424.7h0.9M129.0 423.7h0.9M131.0 423.7h0.9M129.0 422.7h0.9M131.0 421.7h0.9M133.0 421.7h0.9M134.0 421.7h0.9M132.0 420.7h0.9M133.0 420.7h0.9M135.0 419.7h0.9M129.0 418.7h0.9M129.0 417.7h0.9M132.0 417.7h0.9M134.0 417.7h0.9M136.0 417.7h0.9M138.4 431.7h0.9M137.4 426.7h0.9M138.4 423.7h0.9M137.4 420.7h0.9M137.4 419.7h0.9M137.4 417.7h0.9M137.4 416.7h0.9M137.4 414.7h0.9M138.4 414.7h0.9M138.4 413.7h0.9M137.4 412.7h0.9M144.0 440.7h0.9M142.0 439.7h0.9M142.0 438.7h0.9M142.0 436.7h0.9M143.0 429.7h0.9M142.0 425.7h0.9M145.0 422.7h0.9M142.0 421.7h0.9M144.0 421.7h0.9M142.0 419.7h0.9M143.0 418.7h0.9M143.0 417.7h0.9M144.0 417.7h0.9M143.0 414.7h0.9M145.0 414.7h0.9M143.0 413.7h0.9M144.0 413.7h0.9M142.0 412.7h0.9M144.0 412.7h0.9M151.5 449.7h0.9M148.5 448.7h0.9M148.5 447.7h0.9M152.5 447.7h0.9M153.5 446.7h0.9M151.5 436.7h0.9M153.5 435.7h0.9M152.5 433.7h0.9M151.5 432.7h0.9M146.5 431.7h0.9M149.5 430.7h0.9M150.5 430.7h0.9M149.5 429.7h0.9M148.5 428.7h0.9M151.5 427.7h0.9M153.5 427.7h0.9M146.5 426.7h0.9M151.5 426.7h0.9M146.5 423.7h0.9M147.5 423.7h0.9M146.5 422.7h0.9M148.5 422.7h0.9M152.5 422.7h0.9M150.5 421.7h0.9M152.5 421.7h0.9M153.5 421.7h0.9M147.5 420.7h0.9M150.5 420.7h0.9M147.5 418.7h0.9M148.5 417.7h0.9M152.5 417.7h0.9M146.5 416.7h0.9M150.5 416.7h0.9M151.5 416.7h0.9M152.5 416.7h0.9M147.5 415.7h0.9M148.5 415.7h0.9M146.5 414.7h0.9M150.5 414.7h0.9M151.5 414.7h0.9M152.5 414.7h0.9M153.5 414.7h0.9M147.5 413.7h0.9M148.5 413.7h0.9M149.5 413.7h0.9M150.5 413.7h0.9M157.2 447.7h0.9M160.2 443.7h0.9M157.2 439.7h0.9M156.2 434.7h0.9M161.2 434.7h0.9M161.2 433.7h0.9M160.2 432.7h0.9M158.2 431.7h0.9M159.2 431.7h0.9M156.2 429.7h0.9M159.2 429.7h0.9M156.2 426.7h0.9M162.2 426.7h0.9M160.2 425.7h0.9M155.2 424.7h0.9M161.2 424.7h0.9M156.2 423.7h0.9M161.2 423.7h0.9M162.2 423.7h0.9M156.2 422.7h0.9M158.2 421.7h0.9M159.2 421.7h0.9M162.2 421.7h0.9M160.2 420.7h0.9M158.2 419.7h0.9M155.2 418.7h0.9M156.2 418.7h0.9M157.2 418.7h0.9M155.2 417.7h0.9M156.2 417.7h0.9M158.2 417.7h0.9M159.2 417.7h0.9M157.2 416.7h0.9M158.2 416.7h0.9M162.2 416.7h0.9M156.2 415.7h0.9M158.2 415.7h0.9M165.9 442.7h0.9M170.9 438.7h0.9M169.9 430.7h0.9M170.9 430.7h0.9M163.9 429.7h0.9M166.9 429.7h0.9M168.9 429.7h0.9M163.9 427.7h0.9M166.9 424.7h0.9M165.9 423.7h0.9M163.9 422.7h0.9M165.9 422.7h0.9M163.9 421.7h0.9M168.9 421.7h0.9M163.9 420.7h0.9M166.9 420.7h0.9M167.9 420.7h0.9M169.9 420.7h0.9M166.9 419.7h0.9M169.9 419.7h0.9M164.9 418.7h0.9M165.9 418.7h0.9M169.9 418.7h0.9M170.9 418.7h0.9M163.9 417.7h0.9M164.9 417.7h0.9M168.9 417.7h0.9M163.9 416.7h0.9M164.9 416.7h0.9M165.9 416.7h0.9M166.9 416.7h0.9M167.9 416.7h0.9M169.9 415.7h0.9M164.9 414.7h0.9M168.9 414.7h0.9M163.9 413.7h0.9M165.9 413.7h0.9M168.9 413.7h0.9M174.7 448.7h0.9M178.7 448.7h0.9M178.7 445.7h0.9M173.7 436.7h0.9M178.7 436.7h0.9M175.7 433.7h0.9M177.7 431.7h0.9M177.7 428.7h0.9M175.7 424.7h0.9M176.7 422.7h0.9M177.7 422.7h0.9M178.7 422.7h0.9M175.7 421.7h0.9M178.7 421.7h0.9M174.7 418.7h0.9M173.7 417.7h0.9M174.7 417.7h0.9M178.7 417.7h0.9M174.7 416.7h0.9M175.7 416.7h0.9M177.7 416.7h0.9M173.7 415.7h0.9M175.7 415.7h0.9M177.7 415.7h0.9M173.7 414.7h0.9M175.7 414.7h0.9M177.7 414.7h0.9M174.7 413.7h0.9M177.7 413.7h0.9M176.7 412.7h0.9M177.7 412.7h0.9M184.2 449.7h0.9M182.2 430.7h0.9M184.2 422.7h0.9M181.2 420.7h0.9M184.2 420.7h0.9M182.2 419.7h0.9M185.2 418.7h0.9M181.2 417.7h0.9M183.2 417.7h0.9M182.2 416.7h0.9M183.2 416.7h0.9M185.2 416.7h0.9M181.2 415.7h0.9M182.2 415.7h0.9M184.2 415.7h0.9M182.2 414.7h0.9M185.2 414.7h0.9M181.2 413.7h0.9M182.2 413.7h0.9M184.2 413.7h0.9M189.1 444.7h0.9M188.1 441.7h0.9M188.1 437.7h0.9M191.1 435.7h0.9M188.1 431.7h0.9M192.1 430.7h0.9M188.1 427.7h0.9M191.1 427.7h0.9M189.1 426.7h0.9M191.1 423.7h0.9M189.1 422.7h0.9M190.1 421.7h0.9M189.1 419.7h0.9M191.1 419.7h0.9M192.1 419.7h0.9M188.1 418.7h0.9M192.1 418.7h0.9M189.1 417.7h0.9M188.1 416.7h0.9M192.1 416.7h0.9M189.1 415.7h0.9M192.1 415.7h0.9M188.1 414.7h0.9M191.1 414.7h0.9M193.4 449.7h0.9M193.4 447.7h0.9M193.4 437.7h0.9M194.4 434.7h0.9M193.4 431.7h0.9M193.4 421.7h0.9M193.4 419.7h0.9M193.4 418.7h0.9M193.4 417.7h0.9M193.4 416.7h0.9M194.4 416.7h0.9M194.4 415.7h0.9M194.4 413.7h0.9M194.4 412.7h0.9M197.4 438.7h0.9M197.4 428.7h0.9M196.4 426.7h0.9M197.4 424.7h0.9M197.4 420.7h0.9M197.4 419.7h0.9M197.4 418.7h0.9M197.4 417.7h0.9M197.4 416.7h0.9M196.4 415.7h0.9M196.4 414.7h0.9M197.4 414.7h0.9M196.4 413.7h0.9M200.2 449.7h0.9M200.2 440.7h0.9M201.2 433.7h0.9M202.2 431.7h0.9M202.2 430.7h0.9M200.2 426.7h0.9M202.2 426.7h0.9M203.2 426.7h0.9M201.2 425.7h0.9M199.2 424.7h0.9M203.2 424.7h0.9M200.2 423.7h0.9M202.2 423.7h0.9M200.2 422.7h0.9M200.2 421.7h0.9M201.2 421.7h0.9M202.2 421.7h0.9M199.2 420.7h0.9M200.2 420.7h0.9M201.2 420.7h0.9M202.2 420.7h0.9M203.2 420.7h0.9M199.2 419.7h0.9M202.2 419.7h0.9M199.2 418.7h0.9M200.2 418.7h0.9M201.2 418.7h0.9M201.2 416.7h0.9M206.4 443.7h0.9M205.4 442.7h0.9M204.4 437.7h0.9M206.4 427.7h0.9M206.4 426.7h0.9M205.4 424.7h0.9M206.4 424.7h0.9M207.4 423.7h0.9M205.4 422.7h0.9M204.4 420.7h0.9M206.4 419.7h0.9M207.4 419.7h0.9M207.4 418.7h0.9M204.4 417.7h0.9M204.4 415.7h0.9M205.4 415.7h0.9M204.4 414.7h0.9M206.4 414.7h0.9M207.4 414.7h0.9M205.4 413.7h0.9M206.4 413.7h0.9M207.4 413.7h0.9M204.4 412.7h0.9M207.4 412.7h0.9M211.5 431.7h0.9M211.5 430.7h0.9M210.5 429.7h0.9M210.5 428.7h0.9M209.5 427.7h0.9M210.5 424.7h0.9M209.5 423.7h0.9M211.5 422.7h0.9M210.5 420.7h0.9M209.5 419.7h0.9M209.5 418.7h0.9M209.5 416.7h0.9M210.5 416.7h0.9M211.5 415.7h0.9M214.3 448.7h0.9M213.3 437.7h0.9M215.3 427.7h0.9M214.3 424.7h0.9M215.3 424.7h0.9M213.3 422.7h0.9M214.3 422.7h0.9M215.3 422.7h0.9M213.3 421.7h0.9M214.3 421.7h0.9M214.3 420.7h0.9M215.3 420.7h0.9M214.3 419.7h0.9M215.3 419.7h0.9M214.3 417.7h0.9M215.3 417.7h0.9M214.3 415.7h0.9M215.3 415.7h0.9M218.2 444.7h0.9M218.2 436.7h0.9M218.2 434.7h0.9M218.2 428.7h0.9M219.2 428.7h0.9M219.2 427.7h0.9M218.2 426.7h0.9M219.2 425.7h0.9M218.2 420.7h0.9M219.2 420.7h0.9M218.2 419.7h0.9M218.2 418.7h0.9M219.2 418.7h0.9M219.2 417.7h0.9M222.4 437.7h0.9M221.4 433.7h0.9M221.4 431.7h0.9M222.4 430.7h0.9M221.4 425.7h0.9M222.4 425.7h0.9M221.4 421.7h0.9M221.4 420.7h0.9M222.4 419.7h0.9M222.4 418.7h0.9M222.4 417.7h0.9" stroke="#fff" stroke-opacity="0.85" stroke-width="0.9" fill="none"/>
<path d="M47.8 410.3h1.2M49.3 415.2h1.2M40.2 398.6h1.2M49.8 409.9h1.2M40.4 410.7h1.2M45.1 413.7h1.2M52.1 415.2h1.2M49.3 400.8h1.2M48.2 397.6h1.2M47.8 410.7h1.2M53.4 409.0h1.2M41.4 400.6h1.2M49.9 393.5h1.2M50.9 401.8h1.2M52.1 410.7h1.2M49.2 396.3h1.2M50.2 402.2h1.2M49.6 410.7h1.2M42.6 414.7h1.2M37.8 409.6h1.2M48.4 411.4h1.2M41.0 406.5h1.2M48.8 389.3h1.2M48.7 411.6h1.2M45.4 407.8h1.2M53.6 410.9h1.2M49.3 406.1h1.2M53.3 402.4h1.2M48.0 415.1h1.2M41.3 403.3h1.2M38.3 410.7h1.2M43.1 413.4h1.2M41.2 414.4h1.2M47.1 394.1h1.2M53.1 409.0h1.2M53.6 407.8h1.2M50.9 406.2h1.2M47.8 414.6h1.2M38.3 402.5h1.2M39.9 391.4h1.2M40.1 409.6h1.2M48.0 409.2h1.2M52.8 414.8h1.2M45.3 410.4h1.2M42.9 407.1h1.2M48.6 412.3h1.2M41.7 407.9h1.2M41.9 404.0h1.2M41.2 415.2h1.2M39.9 414.9h1.2M43.3 402.7h1.2M50.0 394.8h1.2M53.5 414.9h1.2M38.7 389.3h1.2M43.8 394.1h1.2M53.2 409.5h1.2M45.2 412.8h1.2M49.6 390.4h1.2M53.3 409.7h1.2M47.9 400.1h1.2M48.2 414.2h1.2M40.6 409.9h1.2M45.3 414.9h1.2M44.0 414.1h1.2M44.2 405.4h1.2M47.5 412.6h1.2M50.4 410.4h1.2M53.6 408.5h1.2M49.8 387.9h1.2M39.3 412.9h1.2M50.5 395.3h1.2M42.8 406.5h1.2M49.0 412.5h1.2M47.7 407.9h1.2M50.0 406.3h1.2M41.2 413.4h1.2M52.4 380.3h1.2M38.2 396.4h1.2M41.5 414.8h1.2M48.1 410.4h1.2M47.0 414.4h1.2M38.9 414.7h1.2M47.1 405.2h1.2M43.0 406.4h1.2M40.7 409.5h1.2M49.9 411.6h1.2M38.7 398.9h1.2M50.8 414.2h1.2M50.3 406.5h1.2M43.8 413.2h1.2M50.9 412.7h1.2M48.6 411.2h1.2M47.1 411.8h1.2M52.5 403.0h1.2M43.0 410.3h1.2M51.8 414.4h1.2M38.8 414.6h1.2M44.7 407.9h1.2M41.9 404.9h1.2M38.7 401.9h1.2M48.7 413.2h1.2M42.0 414.6h1.2M49.2 403.7h1.2M39.7 412.3h1.2M49.6 411.4h1.2M39.3 411.2h1.2M47.4 404.2h1.2M52.7 392.8h1.2M44.0 393.3h1.2M42.0 400.7h1.2M43.4 411.9h1.2M52.1 390.8h1.2M42.9 412.8h1.2M42.9 411.2h1.2M43.2 410.8h1.2M47.3 413.4h1.2M46.9 401.0h1.2M47.3 399.1h1.2M50.1 413.6h1.2M41.7 396.2h1.2M45.1 415.1h1.2M47.3 408.3h1.2M48.6 384.8h1.2M38.5 400.7h1.2M50.5 408.2h1.2M38.8 414.6h1.2M52.2 403.3h1.2M48.3 414.5h1.2M49.9 413.9h1.2M41.2 405.9h1.2M50.2 413.1h1.2M50.2 408.7h1.2M42.5 410.8h1.2M48.9 384.3h1.2M46.9 409.2h1.2M49.4 403.9h1.2M43.6 393.2h1.2M48.8 399.6h1.2M50.8 398.1h1.2M52.0 399.2h1.2M48.4 386.9h1.2M49.4 408.7h1.2M43.7 400.8h1.2M39.7 410.4h1.2M53.5 403.2h1.2M40.0 411.1h1.2M43.8 413.3h1.2M53.2 412.2h1.2M42.1 414.8h1.2M48.5 414.2h1.2M40.2 401.9h1.2M44.3 414.8h1.2M52.3 407.4h1.2M39.2 415.0h1.2M40.8 413.5h1.2M49.5 412.9h1.2M40.9 407.2h1.2M41.7 413.5h1.2M50.1 413.6h1.2M47.1 412.0h1.2M44.6 400.1h1.2M52.0 412.6h1.2M42.6 393.2h1.2M53.0 408.2h1.2M40.8 409.4h1.2M52.9 414.9h1.2M43.2 400.8h1.2M45.1 408.6h1.2M53.5 412.5h1.2M41.1 405.7h1.2M44.5 415.2h1.2M50.7 411.2h1.2M47.9 404.1h1.2M39.9 413.8h1.2M41.4 411.8h1.2M45.1 397.0h1.2M53.5 406.2h1.2M45.4 412.6h1.2M50.3 413.9h1.2M51.0 415.3h1.2M51.0 398.5h1.2M41.5 414.6h1.2M39.0 404.0h1.2M76.8 409.9h1.2M77.1 405.5h1.2M81.1 407.4h1.2M75.9 415.1h1.2M69.7 387.1h1.2M80.3 414.9h1.2M69.6 387.6h1.2M79.8 415.6h1.2M75.9 405.4h1.2M78.9 408.1h1.2M69.3 401.1h1.2M79.4 415.3h1.2M79.9 382.6h1.2M73.5 411.2h1.2M69.4 412.1h1.2M72.6 402.7h1.2M76.0 408.0h1.2M77.8 412.2h1.2M72.2 410.5h1.2M71.5 396.7h1.2M72.5 414.5h1.2M79.2 410.1h1.2M72.3 412.3h1.2M72.6 406.4h1.2M72.5 409.3h1.2M71.6 397.1h1.2M73.1 413.5h1.2M78.5 412.3h1.2M79.3 405.8h1.2M70.3 408.9h1.2M72.4 403.0h1.2M74.5 413.7h1.2M73.8 411.8h1.2M81.9 394.2h1.2M71.0 411.5h1.2M79.2 401.9h1.2M79.3 412.2h1.2M72.9 411.6h1.2M78.7 407.8h1.2M79.7 410.1h1.2M75.6 415.8h1.2M70.1 411.6h1.2M71.1 393.8h1.2M80.4 413.9h1.2M81.1 386.8h1.2M81.1 412.2h1.2M78.4 414.6h1.2M71.7 389.7h1.2M77.9 414.6h1.2M78.5 396.7h1.2M75.0 389.1h1.2M70.8 411.7h1.2M81.2 413.1h1.2M71.6 415.3h1.2M69.9 412.1h1.2M71.6 412.6h1.2M76.0 414.7h1.2M76.5 408.9h1.2M76.0 403.0h1.2M70.3 389.5h1.2M70.2 413.7h1.2M78.9 412.6h1.2M75.7 392.7h1.2M73.5 414.4h1.2M73.0 408.4h1.2M81.6 401.8h1.2M76.9 410.4h1.2M75.2 399.1h1.2M81.3 414.0h1.2M69.6 381.6h1.2M74.4 403.0h1.2M71.3 415.4h1.2M78.6 414.2h1.2M69.5 413.8h1.2M79.4 413.7h1.2M77.6 409.7h1.2M71.6 410.3h1.2M73.1 415.8h1.2M72.6 415.5h1.2M74.0 407.2h1.2M77.2 410.2h1.2M73.8 412.5h1.2M76.7 396.5h1.2M76.1 411.1h1.2M73.5 410.4h1.2M72.2 393.9h1.2M80.1 391.2h1.2M71.3 396.7h1.2M81.8 409.5h1.2M71.4 412.9h1.2M72.3 404.4h1.2M71.3 408.0h1.2M72.9 389.4h1.2M78.0 415.0h1.2M76.4 412.1h1.2M81.0 409.7h1.2M74.1 409.4h1.2M75.6 415.9h1.2M76.6 413.1h1.2M75.1 406.9h1.2M75.6 415.1h1.2M77.4 410.0h1.2M72.8 384.3h1.2M70.3 410.7h1.2M72.2 401.4h1.2M79.4 400.0h1.2M80.7 413.3h1.2M74.7 409.6h1.2M81.3 408.6h1.2M75.4 409.9h1.2M80.0 412.8h1.2M73.6 409.6h1.2M72.0 414.0h1.2M79.5 399.8h1.2M80.9 381.3h1.2M79.4 405.5h1.2M79.6 404.7h1.2M71.5 401.4h1.2M73.1 400.8h1.2M81.0 413.4h1.2M75.8 415.7h1.2M79.3 412.1h1.2M80.9 407.4h1.2M77.5 391.7h1.2M77.8 415.3h1.2M81.8 414.9h1.2M73.2 397.5h1.2M78.1 414.1h1.2M81.8 403.2h1.2M70.9 407.1h1.2M70.0 404.3h1.2M79.0 397.7h1.2M80.4 402.1h1.2M81.3 408.3h1.2M75.5 406.8h1.2M73.8 411.6h1.2M95.5 413.3h1.2M105.6 385.4h1.2M99.8 404.7h1.2M103.2 403.7h1.2M97.4 409.7h1.2M102.0 409.4h1.2M101.7 412.6h1.2M105.6 414.7h1.2M96.9 413.9h1.2M105.3 387.0h1.2M104.1 392.7h1.2M103.8 399.1h1.2M95.1 408.6h1.2M104.0 404.2h1.2M94.8 399.7h1.2M102.8 415.5h1.2M104.7 410.1h1.2M102.1 410.8h1.2M102.3 406.2h1.2M101.7 412.0h1.2M104.7 415.5h1.2M103.6 404.5h1.2M96.7 410.5h1.2M102.2 410.7h1.2M95.5 408.9h1.2M98.9 416.1h1.2M96.9 413.6h1.2M99.1 413.8h1.2M104.9 405.4h1.2M94.5 405.9h1.2M101.4 397.9h1.2M101.4 404.2h1.2M98.2 412.1h1.2M102.0 415.4h1.2M102.2 415.6h1.2M102.0 394.3h1.2M103.7 407.7h1.2M103.7 387.2h1.2M94.4 410.5h1.2M101.7 407.5h1.2M101.4 398.2h1.2M94.3 412.0h1.2M101.5 400.1h1.2M101.2 378.1h1.2M103.3 398.8h1.2M104.7 410.5h1.2M94.4 411.5h1.2M98.4 412.5h1.2M97.5 411.6h1.2M95.4 405.5h1.2M98.9 412.8h1.2M101.2 414.9h1.2M103.6 411.1h1.2M105.6 412.4h1.2M100.4 414.1h1.2M94.4 413.8h1.2M104.7 412.9h1.2M100.0 413.0h1.2M97.4 409.4h1.2M95.0 409.2h1.2M97.6 412.2h1.2M103.2 400.9h1.2M101.2 405.2h1.2M102.9 398.0h1.2M95.8 415.6h1.2M104.0 403.7h1.2M103.3 375.2h1.2M100.9 414.5h1.2M101.3 407.3h1.2M105.5 414.8h1.2M97.4 409.7h1.2M98.7 380.4h1.2M102.1 415.4h1.2M96.8 413.4h1.2M101.3 412.8h1.2M102.0 412.6h1.2M105.8 394.9h1.2M105.0 396.3h1.2M103.9 413.5h1.2M101.0 415.2h1.2M95.4 415.4h1.2M95.8 389.3h1.2M100.4 404.7h1.2M103.5 416.1h1.2M104.6 415.5h1.2M100.0 400.7h1.2M94.6 410.8h1.2M94.7 405.2h1.2M105.0 409.4h1.2M95.6 405.9h1.2M102.4 404.6h1.2M103.2 412.5h1.2M99.1 408.3h1.2M97.5 409.4h1.2M104.6 413.0h1.2M103.2 412.2h1.2M96.5 412.0h1.2M105.5 416.1h1.2M105.7 403.6h1.2M95.0 408.1h1.2M94.8 414.5h1.2M101.5 407.6h1.2M97.7 388.1h1.2M96.8 413.7h1.2M94.6 414.7h1.2M99.2 410.0h1.2M105.3 412.0h1.2M103.9 412.7h1.2M95.5 409.2h1.2M101.4 415.8h1.2M94.9 397.4h1.2M97.0 405.2h1.2M104.0 405.6h1.2M97.1 404.4h1.2M105.5 414.6h1.2M105.0 393.8h1.2M94.9 409.1h1.2M104.9 411.9h1.2M97.7 415.5h1.2M104.5 415.7h1.2M95.2 412.2h1.2M96.6 412.1h1.2M101.4 411.0h1.2M95.4 406.4h1.2M94.9 409.2h1.2M103.7 410.8h1.2M103.8 413.3h1.2M98.8 413.6h1.2M94.3 401.9h1.2M100.5 408.8h1.2M105.3 404.8h1.2M96.9 405.4h1.2M99.9 414.1h1.2M100.7 413.1h1.2M102.3 415.2h1.2M94.9 411.2h1.2M105.2 414.9h1.2M104.5 399.1h1.2M105.7 411.6h1.2M102.7 414.4h1.2M96.7 390.5h1.2M95.7 416.0h1.2M103.6 415.3h1.2M99.8 407.7h1.2M101.7 415.0h1.2M95.8 414.8h1.2M101.8 408.0h1.2M103.9 401.6h1.2M97.8 414.8h1.2M100.0 414.7h1.2M104.4 415.8h1.2M103.7 405.8h1.2M104.9 410.1h1.2M103.9 399.9h1.2M96.8 401.3h1.2M94.9 412.3h1.2M99.8 403.1h1.2M97.6 377.4h1.2M104.4 411.0h1.2M103.1 384.9h1.2M124.4 401.9h1.2M121.9 411.5h1.2M117.5 389.9h1.2M123.5 414.5h1.2M118.4 387.8h1.2M121.6 413.4h1.2M122.7 401.3h1.2M117.4 405.6h1.2M122.9 413.3h1.2M117.8 403.7h1.2M120.1 414.4h1.2M120.3 410.4h1.2M117.7 413.6h1.2M126.7 405.9h1.2M126.3 406.2h1.2M123.2 414.0h1.2M125.6 411.2h1.2M123.2 407.0h1.2M126.7 393.1h1.2M121.4 413.9h1.2M122.6 414.5h1.2M124.0 413.0h1.2M117.0 411.3h1.2M118.2 395.5h1.2M122.2 412.4h1.2M124.8 414.7h1.2M118.1 403.9h1.2M118.2 406.5h1.2M117.9 408.5h1.2M121.5 412.3h1.2M123.6 408.2h1.2M120.3 391.7h1.2M119.0 411.4h1.2M120.7 403.2h1.2M118.9 413.1h1.2M125.5 410.3h1.2M125.2 410.1h1.2M122.9 409.5h1.2M121.1 412.6h1.2M117.8 403.7h1.2M119.5 409.8h1.2M120.4 412.2h1.2M122.8 413.3h1.2M119.3 414.9h1.2M118.8 412.5h1.2M123.9 399.1h1.2M118.3 395.6h1.2M120.1 413.4h1.2M125.4 408.9h1.2M125.7 399.1h1.2M117.2 415.1h1.2M121.3 411.6h1.2M120.5 415.2h1.2M125.8 414.0h1.2M120.2 413.1h1.2M125.6 413.5h1.2M121.4 414.2h1.2M119.4 413.0h1.2M124.4 404.0h1.2M126.9 411.3h1.2M123.4 385.0h1.2M117.4 412.9h1.2M121.9 408.2h1.2M127.1 397.4h1.2M119.4 400.0h1.2M123.2 377.7h1.2M119.0 414.9h1.2M125.0 386.6h1.2M123.7 403.1h1.2M126.5 415.0h1.2M124.8 412.1h1.2M121.9 408.3h1.2M126.3 408.5h1.2M120.9 399.0h1.2M118.7 398.0h1.2M120.2 411.4h1.2M121.0 414.8h1.2M126.8 415.2h1.2M121.8 399.9h1.2M119.6 414.7h1.2M119.9 401.9h1.2M121.3 414.4h1.2M118.2 407.5h1.2M122.6 411.0h1.2M121.1 403.0h1.2M124.6 412.6h1.2M126.3 414.5h1.2M118.7 408.2h1.2M125.9 400.1h1.2M125.9 414.0h1.2M120.5 386.5h1.2M124.3 401.2h1.2M120.9 407.7h1.2M125.2 411.9h1.2M126.6 401.5h1.2M122.7 414.6h1.2M119.1 404.2h1.2M126.0 415.1h1.2M124.2 401.6h1.2M121.4 411.6h1.2M117.9 400.2h1.2M124.1 403.7h1.2M126.6 409.7h1.2M125.9 406.3h1.2M121.1 413.3h1.2M122.0 412.1h1.2M127.0 402.6h1.2M125.6 393.6h1.2M124.4 381.9h1.2M117.8 403.2h1.2M121.9 410.5h1.2M126.1 414.3h1.2M119.4 411.1h1.2M122.4 414.5h1.2M126.6 411.6h1.2M121.3 406.2h1.2M117.4 413.7h1.2M123.2 404.8h1.2M122.1 409.1h1.2M126.2 410.5h1.2M119.3 414.7h1.2M120.1 401.0h1.2M121.3 411.6h1.2M124.7 412.1h1.2M122.6 414.4h1.2M120.4 404.0h1.2M120.5 403.5h1.2M118.0 406.5h1.2M122.6 411.8h1.2M121.6 406.7h1.2M122.4 414.9h1.2M119.7 397.2h1.2M123.3 413.2h1.2M117.9 412.9h1.2M123.3 414.6h1.2M124.8 396.0h1.2M125.9 407.2h1.2M119.7 398.3h1.2M126.9 410.9h1.2M123.5 389.6h1.2M120.4 406.3h1.2M138.5 412.0h1.2M144.0 409.1h1.2M145.2 399.2h1.2M138.0 410.8h1.2M138.8 408.3h1.2M143.9 410.4h1.2M142.4 412.4h1.2M138.7 411.2h1.2M141.9 409.4h1.2M143.8 387.3h1.2M145.5 407.4h1.2M137.9 409.8h1.2M144.0 403.4h1.2M142.2 400.9h1.2M138.9 400.9h1.2M143.8 385.8h1.2M142.4 397.9h1.2M141.9 389.9h1.2M141.7 385.3h1.2M138.8 385.3h1.2M142.5 405.9h1.2M144.5 405.3h1.2M137.8 395.5h1.2M142.3 401.5h1.2M137.4 407.8h1.2M145.5 390.9h1.2M142.6 400.9h1.2M138.8 411.7h1.2M137.1 408.9h1.2M141.2 408.2h1.2M137.0 407.7h1.2M145.3 411.2h1.2M138.2 405.2h1.2M141.2 407.1h1.2M137.8 406.5h1.2M145.2 400.2h1.2M145.3 403.6h1.2M142.4 397.3h1.2M143.5 405.8h1.2M137.1 408.4h1.2M144.3 407.1h1.2M136.8 402.4h1.2M136.9 396.7h1.2M137.8 405.9h1.2M138.2 409.3h1.2M143.6 403.9h1.2M142.2 393.1h1.2M136.8 411.9h1.2M137.4 411.7h1.2M138.6 410.7h1.2M144.6 411.0h1.2M142.0 408.5h1.2M137.8 398.7h1.2M136.8 406.2h1.2M145.1 406.5h1.2M138.7 404.9h1.2M142.1 403.4h1.2M143.1 406.3h1.2M144.9 401.3h1.2M145.4 378.6h1.2M143.4 397.5h1.2M137.9 398.0h1.2M144.5 410.5h1.2M136.7 407.3h1.2M137.5 400.2h1.2M145.1 409.6h1.2M144.4 410.6h1.2M144.2 409.7h1.2M142.6 408.2h1.2M143.6 402.1h1.2M143.3 410.4h1.2M138.3 410.8h1.2M137.6 398.9h1.2M137.3 407.7h1.2M137.8 404.6h1.2M145.5 408.4h1.2M142.1 407.2h1.2M138.4 412.2h1.2M143.0 411.5h1.2M137.8 411.0h1.2M143.8 411.1h1.2M138.6 403.0h1.2M138.5 409.1h1.2M142.6 405.3h1.2M137.6 411.2h1.2M138.5 403.6h1.2M159.9 412.3h1.2M158.6 408.5h1.2M158.2 407.4h1.2M161.0 411.2h1.2M162.8 406.1h1.2M161.3 392.0h1.2M158.7 414.4h1.2M161.2 409.3h1.2M156.0 393.8h1.2M161.9 415.4h1.2M157.3 381.9h1.2M157.7 407.2h1.2M159.9 411.1h1.2M162.2 404.9h1.2M158.6 411.4h1.2M162.9 410.1h1.2M162.3 408.9h1.2M154.6 384.3h1.2M155.3 402.2h1.2M159.8 409.3h1.2M159.4 414.8h1.2M157.4 404.9h1.2M157.8 408.5h1.2M156.5 414.0h1.2M159.9 390.0h1.2M161.3 408.5h1.2M160.9 399.2h1.2M159.0 410.9h1.2M154.9 412.0h1.2M155.0 392.2h1.2M161.7 411.3h1.2M162.2 412.2h1.2M155.6 415.3h1.2M159.8 410.2h1.2M162.1 401.3h1.2M155.9 400.1h1.2M158.4 415.1h1.2M154.5 411.6h1.2M163.0 413.5h1.2M157.3 383.9h1.2M154.6 403.4h1.2M156.1 407.2h1.2M160.6 412.6h1.2M157.4 413.4h1.2M157.1 415.4h1.2M155.3 412.2h1.2M157.9 414.6h1.2M162.5 414.7h1.2M157.5 412.8h1.2M161.4 414.9h1.2M155.0 413.6h1.2M162.3 411.3h1.2M158.4 393.0h1.2M155.0 407.7h1.2M160.9 394.5h1.2M161.6 413.0h1.2M158.5 413.9h1.2M159.3 412.5h1.2M159.0 412.9h1.2M154.5 412.8h1.2M161.2 414.4h1.2M158.8 410.2h1.2M156.5 405.8h1.2M157.9 413.6h1.2M160.7 403.0h1.2M159.6 410.0h1.2M162.6 412.9h1.2M161.3 406.3h1.2M159.4 411.4h1.2M159.0 404.3h1.2M156.7 402.6h1.2M157.1 401.7h1.2M155.6 409.0h1.2M162.0 410.8h1.2M156.0 415.2h1.2M160.0 408.5h1.2M160.3 405.0h1.2M159.6 404.0h1.2M159.1 414.0h1.2M154.4 412.5h1.2M162.8 409.1h1.2M160.9 409.8h1.2M154.7 406.7h1.2M162.9 408.3h1.2M156.9 406.0h1.2M160.1 394.3h1.2M161.7 391.2h1.2M158.4 407.6h1.2M157.1 408.7h1.2M155.4 398.2h1.2M158.1 411.8h1.2M157.0 407.1h1.2M154.8 407.1h1.2M155.2 397.2h1.2M161.8 396.9h1.2M160.8 401.6h1.2M159.3 413.6h1.2M160.8 414.9h1.2M156.2 401.5h1.2M155.1 410.2h1.2M160.4 405.6h1.2M159.6 414.9h1.2M155.9 396.5h1.2M156.7 394.1h1.2M155.1 415.3h1.2M156.0 402.8h1.2M158.1 397.8h1.2M161.4 414.7h1.2M155.5 411.9h1.2M157.0 415.5h1.2M158.6 409.9h1.2M155.0 407.6h1.2M162.0 415.5h1.2M160.6 410.5h1.2M159.5 395.2h1.2M173.5 402.1h1.2M177.8 399.8h1.2M176.8 406.7h1.2M175.5 393.8h1.2M176.4 398.3h1.2M178.1 398.5h1.2M174.0 410.9h1.2M175.0 404.4h1.2M172.8 409.1h1.2M179.0 407.0h1.2M174.2 407.6h1.2M176.6 408.1h1.2M173.9 412.1h1.2M175.1 405.6h1.2M173.6 401.6h1.2M178.5 411.7h1.2M176.8 399.8h1.2M174.0 404.0h1.2M175.6 410.9h1.2M175.7 402.0h1.2M173.3 406.1h1.2M174.3 385.6h1.2M177.8 407.9h1.2M175.1 385.9h1.2M178.0 406.9h1.2M173.6 406.3h1.2M174.9 410.1h1.2M173.2 412.3h1.2M178.0 392.1h1.2M174.7 396.4h1.2M178.6 408.5h1.2M175.5 411.8h1.2M177.4 408.2h1.2M179.0 401.9h1.2M176.6 381.8h1.2M176.5 389.8h1.2M176.0 410.2h1.2M178.5 409.5h1.2M173.5 397.8h1.2M176.8 402.9h1.2M173.7 399.0h1.2M173.5 404.5h1.2M175.1 407.3h1.2M175.4 408.4h1.2M173.5 405.8h1.2M173.3 405.6h1.2M173.1 401.5h1.2M172.9 406.3h1.2M178.7 398.6h1.2M175.7 400.0h1.2M177.5 406.7h1.2M175.0 411.6h1.2M173.9 406.4h1.2M175.0 406.8h1.2M176.5 411.0h1.2M173.6 407.2h1.2M174.2 405.4h1.2M174.8 404.7h1.2M176.5 400.9h1.2M174.9 412.3h1.2M174.9 399.5h1.2M178.2 399.1h1.2M177.5 388.9h1.2M175.8 407.3h1.2M174.7 411.5h1.2M177.8 409.6h1.2M176.7 398.5h1.2M175.5 399.3h1.2M175.0 403.1h1.2M176.1 412.2h1.2M175.9 393.4h1.2M175.2 391.3h1.2M173.8 409.7h1.2M174.8 407.2h1.2M174.8 411.3h1.2M177.7 384.8h1.2M174.3 407.4h1.2M174.9 406.1h1.2M174.6 403.6h1.2M177.6 403.6h1.2M174.2 409.3h1.2M176.4 404.8h1.2M177.9 393.1h1.2M175.9 406.7h1.2M176.4 398.4h1.2M175.2 411.1h1.2M177.0 411.2h1.2M192.1 405.2h1.2M188.1 396.1h1.2M191.9 414.3h1.2M191.9 412.5h1.2M189.3 386.9h1.2M188.3 402.0h1.2M187.9 408.6h1.2M188.0 406.2h1.2M187.3 410.1h1.2M190.5 380.8h1.2M188.4 411.4h1.2M189.8 401.3h1.2M187.4 407.6h1.2M189.7 411.0h1.2M188.3 398.6h1.2M190.1 414.6h1.2M187.4 412.9h1.2M189.8 414.0h1.2M188.6 410.1h1.2M187.5 404.1h1.2M189.8 411.9h1.2M192.3 412.6h1.2M189.6 411.4h1.2M190.0 388.0h1.2M189.7 412.7h1.2M188.9 399.1h1.2M192.1 414.4h1.2M187.6 411.9h1.2M191.3 410.2h1.2M191.5 410.9h1.2M190.8 390.1h1.2M190.3 395.8h1.2M190.8 414.3h1.2M191.5 412.4h1.2M189.7 394.6h1.2M187.5 404.1h1.2M190.7 407.4h1.2M187.6 392.5h1.2M191.2 413.1h1.2M189.6 406.5h1.2M187.6 383.1h1.2M187.8 396.7h1.2M190.7 412.6h1.2M191.3 414.6h1.2M191.4 411.8h1.2M188.6 406.8h1.2M192.1 401.0h1.2M187.7 401.0h1.2M187.6 409.8h1.2M188.7 409.7h1.2M191.8 408.3h1.2M191.4 402.8h1.2M189.8 414.6h1.2M191.1 410.2h1.2M187.2 395.5h1.2M189.0 397.2h1.2M190.5 414.8h1.2M192.3 408.2h1.2M189.7 400.4h1.2M191.9 401.5h1.2M188.9 408.5h1.2M191.7 405.5h1.2M190.5 403.9h1.2M191.1 413.5h1.2M191.0 406.8h1.2M187.4 409.5h1.2M190.3 412.4h1.2M188.9 413.6h1.2M188.0 410.3h1.2M189.6 412.1h1.2M191.0 393.1h1.2M189.3 414.1h1.2M203.3 413.2h1.2M198.9 413.7h1.2M200.6 378.6h1.2M200.2 409.1h1.2M200.0 414.1h1.2M200.9 392.4h1.2M201.5 405.6h1.2M203.1 414.2h1.2M199.0 394.3h1.2M202.1 416.3h1.2M202.8 415.3h1.2M201.0 410.8h1.2M201.2 413.9h1.2M198.4 413.4h1.2M202.9 409.9h1.2M200.8 406.9h1.2M198.6 399.8h1.2M200.2 414.6h1.2M198.8 416.6h1.2M200.8 402.3h1.2M199.3 407.2h1.2M203.1 395.1h1.2M199.4 413.0h1.2M199.8 412.9h1.2M201.9 412.4h1.2M203.0 403.7h1.2M202.6 408.2h1.2M198.7 407.4h1.2M199.6 415.1h1.2M199.7 415.7h1.2M202.2 406.8h1.2M201.2 411.4h1.2M201.9 407.5h1.2M200.2 411.7h1.2M201.4 410.1h1.2M200.7 415.4h1.2M202.3 410.5h1.2M203.3 413.7h1.2M201.6 405.2h1.2M199.2 410.5h1.2M199.9 413.0h1.2M198.7 410.9h1.2M203.5 416.6h1.2M199.9 416.7h1.2M203.5 412.1h1.2M199.8 413.0h1.2M201.6 410.8h1.2M201.9 398.0h1.2M203.0 416.1h1.2M198.9 395.3h1.2M203.1 401.3h1.2M203.2 400.2h1.2M201.6 413.5h1.2M202.7 403.2h1.2M202.9 408.4h1.2M200.3 407.0h1.2M210.2 406.0h1.2M212.2 382.8h1.2M212.3 387.1h1.2M211.6 396.6h1.2M211.6 415.6h1.2M209.2 399.6h1.2M212.0 415.0h1.2M208.7 414.4h1.2M209.9 412.1h1.2M209.3 412.9h1.2M211.8 410.6h1.2M210.4 415.8h1.2M211.6 390.9h1.2M210.7 415.9h1.2M209.1 414.2h1.2M212.0 398.0h1.2M208.6 416.0h1.2M210.0 412.4h1.2M212.0 415.1h1.2M212.3 410.5h1.2M210.3 415.7h1.2M212.3 415.1h1.2M209.0 395.6h1.2M212.3 412.2h1.2M210.1 408.0h1.2M210.3 407.6h1.2M208.9 399.4h1.2M212.0 408.4h1.2M209.7 415.8h1.2M210.8 411.2h1.2M210.6 400.0h1.2M212.2 415.3h1.2M211.6 414.3h1.2M209.0 415.0h1.2M210.1 406.3h1.2M208.8 399.2h1.2M208.9 415.1h1.2M209.2 410.8h1.2M210.3 414.5h1.2M211.6 402.6h1.2M209.9 411.5h1.2M211.2 413.4h1.2M219.4 410.4h1.2M217.5 407.5h1.2M219.0 412.7h1.2M217.6 414.2h1.2M219.2 401.0h1.2M218.2 413.0h1.2M218.6 406.3h1.2M218.6 409.7h1.2M219.3 389.1h1.2M219.5 411.3h1.2M218.0 411.4h1.2M219.2 409.2h1.2M219.3 414.0h1.2M218.4 400.1h1.2M219.0 409.2h1.2M218.6 400.1h1.2M218.3 414.0h1.2M218.3 411.1h1.2M217.7 394.2h1.2M218.2 386.3h1.2M218.8 403.1h1.2M219.0 401.2h1.2M218.7 411.9h1.2M219.4 410.4h1.2M217.5 413.2h1.2M217.4 413.2h1.2M218.2 413.4h1.2M218.3 406.2h1.2M217.6 413.9h1.2M44.4 330.8h1.2M40.1 338.8h1.2M49.2 341.3h1.2M41.1 352.9h1.2M44.4 358.1h1.2M40.1 365.0h1.2M70.3 354.8h1.2M73.8 367.3h1.2M76.7 366.3h1.2M105.5 352.0h1.2M105.5 356.3h1.2M124.7 343.7h1.2M124.7 351.0h1.2M120.3 367.7h1.2M122.9 375.0h1.2M202.1 328.5h1.2M202.1 342.9h1.2M202.1 350.0h1.2M175.9 348.5h1.2M154.4 370.2h1.2M157.9 371.2h1.2M162.4 371.2h1.2M189.4 368.8h1.2M212.1 376.5h1.2M40.0 401.6h1.2M40.2 408.2h1.2M40.4 373.6h1.2M39.9 383.1h1.2M40.2 370.4h1.2M39.8 374.7h1.2M39.8 408.7h1.2M40.1 410.1h1.2M40.4 388.3h1.2M40.1 382.7h1.2M48.5 408.2h1.2M47.8 391.7h1.2M48.5 386.4h1.2M48.3 406.5h1.2M47.8 387.7h1.2M47.9 399.3h1.2M48.2 391.3h1.2M48.4 397.5h1.2M47.8 377.7h1.2M178.5 385.4h1.2M178.8 395.3h1.2M179.1 399.3h1.2M178.8 400.5h1.2M179.1 398.4h1.2M179.1 385.1h1.2M160.0 389.3h1.2M159.8 375.3h1.2M159.7 373.7h1.2M160.2 393.4h1.2M159.9 405.4h1.2M160.0 382.1h1.2M119.6 380.7h1.2M119.1 400.6h1.2M119.4 378.4h1.2M119.3 397.0h1.2M119.7 393.8h1.2M119.3 381.9h1.2M198.5 372.5h1.2M198.6 406.7h1.2M198.3 398.2h1.2M198.1 372.7h1.2M198.7 395.2h1.2M198.5 389.5h1.2M97.8 405.1h1.2M97.7 391.0h1.2M97.1 403.4h1.2M97.6 399.7h1.2M97.7 404.8h1.2M97.3 385.0h1.2" stroke="#bababa" stroke-width="1.2" fill="none"/>
<path d="M62.5 395.2h1.2M64.1 412.4h1.2M61.0 413.3h1.2M68.5 406.6h1.2M62.6 411.1h1.2M65.7 389.5h1.2M63.3 406.3h1.2M60.1 410.4h1.2M66.6 412.3h1.2M59.6 396.1h1.2M54.2 393.5h1.2M61.6 413.9h1.2M59.3 411.8h1.2M56.0 381.2h1.2M57.2 413.2h1.2M57.3 404.9h1.2M62.1 415.2h1.2M57.4 410.7h1.2M63.8 409.0h1.2M63.4 408.0h1.2M66.6 407.8h1.2M58.8 384.0h1.2M67.5 411.3h1.2M64.8 411.8h1.2M64.4 404.5h1.2M66.5 385.3h1.2M63.3 413.6h1.2M62.4 409.1h1.2M58.1 411.0h1.2M62.0 402.7h1.2M57.5 412.7h1.2M56.4 411.6h1.2M55.6 408.7h1.2M54.7 414.6h1.2M64.6 414.2h1.2M60.7 414.1h1.2M61.1 401.9h1.2M67.2 413.6h1.2M54.5 396.8h1.2M61.6 412.5h1.2M59.8 400.8h1.2M57.6 403.8h1.2M58.7 403.8h1.2M65.5 411.5h1.2M66.6 398.5h1.2M60.2 407.6h1.2M63.4 404.1h1.2M66.2 399.2h1.2M59.5 414.0h1.2M57.2 405.2h1.2M53.8 413.3h1.2M68.3 407.2h1.2M55.7 383.5h1.2M60.2 404.7h1.2M59.8 406.2h1.2M69.1 390.8h1.2M64.8 414.7h1.2M54.3 414.0h1.2M65.1 412.1h1.2M58.8 414.0h1.2M62.1 414.9h1.2M59.5 409.2h1.2M66.1 411.8h1.2M58.1 398.7h1.2M63.3 410.7h1.2M69.0 402.1h1.2M64.5 410.7h1.2M66.1 408.1h1.2M56.4 413.7h1.2M68.2 414.1h1.2M61.3 412.6h1.2M58.7 414.0h1.2M62.5 415.0h1.2M63.4 413.8h1.2M57.2 412.3h1.2M59.3 409.2h1.2M54.4 412.5h1.2M67.6 414.6h1.2M54.8 411.8h1.2M61.2 413.4h1.2M67.2 413.1h1.2M60.1 409.2h1.2M59.8 400.4h1.2M62.2 414.6h1.2M63.4 405.5h1.2M68.3 412.2h1.2M69.2 397.2h1.2M66.7 409.9h1.2M56.4 403.5h1.2M56.3 414.9h1.2M54.8 414.0h1.2M65.4 411.2h1.2M61.7 411.8h1.2M56.9 415.1h1.2M53.8 386.4h1.2M66.3 408.4h1.2M65.1 401.0h1.2M66.2 410.6h1.2M65.6 399.3h1.2M55.2 376.8h1.2M59.9 388.1h1.2M57.5 404.2h1.2M54.0 393.5h1.2M57.2 407.4h1.2M59.4 410.7h1.2M66.3 405.5h1.2M63.6 411.1h1.2M58.0 411.2h1.2M58.7 394.0h1.2M58.9 414.3h1.2M56.9 403.0h1.2M62.2 402.9h1.2M56.4 404.9h1.2M55.9 414.2h1.2M60.4 411.3h1.2M61.5 415.1h1.2M58.6 410.5h1.2M68.5 408.2h1.2M67.4 413.1h1.2M65.4 411.7h1.2M69.1 414.1h1.2M68.7 410.1h1.2M60.0 412.9h1.2M56.4 404.1h1.2M64.2 412.3h1.2M58.7 388.6h1.2M59.2 413.3h1.2M63.5 413.7h1.2M63.7 410.9h1.2M63.3 413.0h1.2M67.0 395.5h1.2M61.5 406.3h1.2M55.4 407.6h1.2M64.4 398.8h1.2M64.0 409.7h1.2M59.6 410.3h1.2M63.0 412.8h1.2M61.7 407.5h1.2M63.4 414.9h1.2M62.9 409.8h1.2M68.2 407.0h1.2M61.0 413.7h1.2M58.5 403.1h1.2M69.1 403.2h1.2M67.2 410.5h1.2M69.1 413.9h1.2M57.3 409.1h1.2M63.8 398.7h1.2M66.6 390.2h1.2M61.6 400.8h1.2M67.2 414.6h1.2M57.5 404.0h1.2M60.7 400.4h1.2M67.2 408.2h1.2M58.0 413.2h1.2M54.8 405.9h1.2M65.9 407.9h1.2M57.4 409.1h1.2M67.0 400.7h1.2M62.2 401.9h1.2M66.1 393.9h1.2M59.3 413.7h1.2M54.2 414.2h1.2M67.1 411.3h1.2M55.5 399.0h1.2M59.7 413.4h1.2M63.3 398.1h1.2M54.7 394.3h1.2M56.9 375.5h1.2M67.3 406.2h1.2M56.7 403.5h1.2M60.4 405.2h1.2M58.9 415.0h1.2M63.5 411.8h1.2M63.1 412.2h1.2M56.4 404.5h1.2M64.5 413.9h1.2M55.6 409.5h1.2M68.3 414.1h1.2M59.2 406.7h1.2M69.2 413.2h1.2M65.1 404.6h1.2M86.7 410.6h1.2M85.1 402.4h1.2M84.3 406.8h1.2M93.9 411.9h1.2M85.4 415.6h1.2M90.3 395.6h1.2M84.3 417.5h1.2M85.5 415.6h1.2M90.6 401.3h1.2M90.2 383.0h1.2M86.7 409.2h1.2M88.1 406.7h1.2M88.0 417.5h1.2M88.5 413.7h1.2M82.3 417.6h1.2M86.5 381.5h1.2M83.8 414.5h1.2M93.2 410.0h1.2M88.1 416.3h1.2M91.4 411.8h1.2M84.9 410.6h1.2M90.9 416.2h1.2M92.6 417.3h1.2M84.3 417.8h1.2M92.4 412.4h1.2M91.2 409.4h1.2M90.9 405.2h1.2M92.1 417.6h1.2M84.0 416.6h1.2M82.3 417.7h1.2M86.7 399.2h1.2M82.6 417.3h1.2M89.4 401.2h1.2M82.4 395.7h1.2M85.5 417.0h1.2M83.4 416.2h1.2M89.9 416.1h1.2M84.1 416.4h1.2M86.6 411.2h1.2M89.0 416.6h1.2M86.8 411.7h1.2M82.5 412.3h1.2M84.4 409.5h1.2M82.1 414.4h1.2M89.2 398.4h1.2M88.6 413.6h1.2M83.6 392.8h1.2M90.7 413.7h1.2M90.7 413.9h1.2M82.5 396.6h1.2M85.6 415.1h1.2M91.6 405.6h1.2M93.4 407.2h1.2M86.8 416.2h1.2M91.4 400.8h1.2M94.0 417.0h1.2M92.6 405.9h1.2M89.4 414.0h1.2M93.0 389.4h1.2M92.9 410.3h1.2M90.0 401.6h1.2M83.8 389.0h1.2M88.9 413.4h1.2M91.6 416.8h1.2M89.7 417.5h1.2M86.0 415.1h1.2M84.3 409.7h1.2M92.5 412.7h1.2M85.2 379.1h1.2M90.5 414.0h1.2M92.4 416.2h1.2M88.8 416.1h1.2M82.0 414.3h1.2M82.0 418.1h1.2M85.4 414.5h1.2M89.8 375.3h1.2M90.8 417.5h1.2M87.9 415.7h1.2M92.5 406.5h1.2M87.2 393.4h1.2M86.9 414.6h1.2M91.1 414.7h1.2M90.4 412.5h1.2M91.6 416.6h1.2M84.5 387.4h1.2M84.0 409.4h1.2M87.1 417.7h1.2M91.0 416.2h1.2M90.3 410.4h1.2M82.7 387.1h1.2M82.4 417.1h1.2M92.1 412.5h1.2M88.7 407.7h1.2M86.6 400.6h1.2M89.9 417.0h1.2M84.8 417.8h1.2M84.0 417.8h1.2M88.5 417.5h1.2M89.4 416.8h1.2M86.2 402.4h1.2M90.2 416.9h1.2M92.8 406.3h1.2M89.1 410.8h1.2M90.3 400.2h1.2M85.5 384.9h1.2M89.8 404.7h1.2M82.1 412.4h1.2M85.2 412.2h1.2M88.2 409.8h1.2M82.7 411.6h1.2M89.4 416.8h1.2M94.2 407.8h1.2M85.6 403.9h1.2M88.2 412.6h1.2M86.8 403.4h1.2M87.9 395.3h1.2M87.9 413.5h1.2M94.3 414.1h1.2M86.9 417.6h1.2M90.3 417.3h1.2M83.8 416.6h1.2M89.4 413.1h1.2M87.4 405.1h1.2M86.5 414.9h1.2M84.6 398.3h1.2M92.9 418.0h1.2M83.6 412.1h1.2M92.9 416.7h1.2M82.8 405.6h1.2M84.6 407.9h1.2M89.4 412.8h1.2M93.5 417.6h1.2M111.7 404.3h1.2M106.7 410.8h1.2M111.7 410.7h1.2M111.0 404.5h1.2M112.1 403.5h1.2M110.4 403.3h1.2M111.8 396.0h1.2M116.7 393.5h1.2M114.4 396.8h1.2M112.0 402.1h1.2M107.0 410.1h1.2M108.6 402.9h1.2M111.9 404.1h1.2M110.6 404.2h1.2M109.2 410.2h1.2M115.6 401.9h1.2M109.4 409.2h1.2M110.6 407.3h1.2M114.2 403.6h1.2M114.8 399.5h1.2M116.6 401.0h1.2M110.8 407.3h1.2M109.4 403.1h1.2M110.5 396.7h1.2M111.6 405.3h1.2M106.0 408.5h1.2M111.1 409.7h1.2M107.4 385.4h1.2M116.6 391.6h1.2M109.0 398.5h1.2M115.6 412.4h1.2M109.2 412.0h1.2M113.3 387.5h1.2M115.1 397.0h1.2M111.5 410.8h1.2M110.1 411.7h1.2M114.9 406.5h1.2M113.2 409.5h1.2M108.7 411.2h1.2M112.3 412.1h1.2M113.7 404.7h1.2M116.2 407.7h1.2M112.2 401.1h1.2M107.9 394.0h1.2M112.0 409.5h1.2M116.4 404.4h1.2M106.4 402.4h1.2M111.0 386.6h1.2M114.3 410.5h1.2M115.3 403.7h1.2M108.7 405.4h1.2M111.0 406.9h1.2M112.3 408.7h1.2M108.7 411.2h1.2M106.2 411.5h1.2M114.0 405.9h1.2M115.8 408.0h1.2M113.1 404.2h1.2M115.8 409.6h1.2M115.2 408.8h1.2M116.4 410.1h1.2M107.9 402.3h1.2M107.6 400.8h1.2M110.1 408.2h1.2M109.9 408.9h1.2M110.3 411.0h1.2M114.7 411.7h1.2M113.7 408.7h1.2M116.6 407.6h1.2M113.7 393.6h1.2M116.0 396.1h1.2M110.4 388.6h1.2M106.7 404.5h1.2M109.5 408.5h1.2M106.0 403.9h1.2M106.7 400.0h1.2M111.2 407.7h1.2M112.9 396.0h1.2M113.2 411.2h1.2M112.7 410.2h1.2M116.4 407.8h1.2M108.9 407.2h1.2M116.4 409.3h1.2M108.6 408.8h1.2M113.3 405.7h1.2M106.8 387.2h1.2M113.9 409.0h1.2M113.5 406.5h1.2M106.9 402.5h1.2M107.9 412.2h1.2M107.9 409.4h1.2M107.2 409.6h1.2M111.7 412.4h1.2M107.7 399.9h1.2M113.9 411.7h1.2M107.4 411.9h1.2M109.2 406.5h1.2M111.5 398.8h1.2M110.0 405.9h1.2M114.9 412.4h1.2M115.0 408.2h1.2M110.7 411.6h1.2M107.6 405.6h1.2M116.2 411.9h1.2M116.9 387.5h1.2M114.0 405.5h1.2M111.2 404.3h1.2M113.0 410.9h1.2M113.4 407.3h1.2M109.1 412.2h1.2M114.3 411.5h1.2M109.1 406.7h1.2M111.6 398.9h1.2M110.2 409.5h1.2M106.6 412.6h1.2M116.5 412.3h1.2M111.9 393.7h1.2M111.8 387.1h1.2M107.1 402.3h1.2M112.6 407.5h1.2M113.1 407.9h1.2M113.1 408.8h1.2M111.3 410.5h1.2M111.7 407.6h1.2M108.6 412.1h1.2M107.7 401.3h1.2M116.8 406.8h1.2M114.0 404.1h1.2M116.6 399.4h1.2M110.3 408.2h1.2M106.2 400.0h1.2M108.9 406.9h1.2M114.0 405.3h1.2M111.5 394.8h1.2M106.8 402.0h1.2M116.1 402.9h1.2M111.3 404.0h1.2M110.4 406.2h1.2M108.1 410.8h1.2M111.6 398.4h1.2M112.7 412.3h1.2M113.1 396.6h1.2M116.4 410.8h1.2M111.5 410.8h1.2M107.7 407.1h1.2M108.0 409.8h1.2M106.4 411.0h1.2M113.2 403.3h1.2M116.4 410.0h1.2M110.9 407.7h1.2M113.0 389.0h1.2M129.8 415.0h1.2M135.3 410.1h1.2M133.2 408.4h1.2M130.8 404.7h1.2M133.3 412.6h1.2M134.2 415.6h1.2M135.4 394.8h1.2M135.7 417.0h1.2M128.4 415.4h1.2M130.4 409.0h1.2M132.9 415.9h1.2M132.2 410.7h1.2M132.9 411.2h1.2M133.9 404.1h1.2M134.9 406.6h1.2M133.2 411.9h1.2M127.9 416.6h1.2M133.5 412.2h1.2M136.2 415.2h1.2M131.8 414.6h1.2M136.3 411.9h1.2M129.5 416.1h1.2M130.5 408.6h1.2M128.4 413.9h1.2M131.3 395.2h1.2M129.4 409.9h1.2M128.1 392.9h1.2M127.8 406.9h1.2M130.2 410.8h1.2M131.3 390.5h1.2M127.4 401.2h1.2M136.4 415.2h1.2M127.5 413.5h1.2M130.5 414.9h1.2M130.7 410.9h1.2M131.6 414.4h1.2M128.9 411.9h1.2M132.6 411.1h1.2M134.1 410.0h1.2M129.1 412.2h1.2M128.2 391.9h1.2M131.1 414.4h1.2M129.1 412.8h1.2M130.0 399.9h1.2M132.9 410.5h1.2M131.2 416.4h1.2M132.2 416.4h1.2M135.2 405.8h1.2M128.2 392.4h1.2M133.4 412.1h1.2M136.0 413.4h1.2M135.3 411.5h1.2M130.8 417.0h1.2M135.0 406.9h1.2M135.2 411.5h1.2M131.0 404.8h1.2M132.0 406.5h1.2M135.6 416.6h1.2M135.5 400.9h1.2M134.4 415.2h1.2M131.8 417.3h1.2M131.9 414.4h1.2M132.3 413.3h1.2M134.3 412.5h1.2M129.7 408.0h1.2M129.4 415.6h1.2M131.1 414.1h1.2M134.3 411.3h1.2M129.6 381.3h1.2M132.0 414.5h1.2M133.1 417.6h1.2M132.7 417.3h1.2M130.7 409.7h1.2M130.1 375.6h1.2M128.1 417.5h1.2M134.1 415.2h1.2M130.5 405.5h1.2M128.7 398.3h1.2M132.5 415.3h1.2M134.6 410.8h1.2M135.6 414.3h1.2M133.6 408.6h1.2M129.1 409.9h1.2M136.0 410.2h1.2M130.2 417.5h1.2M129.5 414.3h1.2M133.2 404.4h1.2M133.8 416.3h1.2M127.7 398.7h1.2M132.8 417.5h1.2M132.3 398.5h1.2M131.0 411.3h1.2M135.7 410.1h1.2M134.2 409.4h1.2M135.4 412.0h1.2M131.9 404.4h1.2M130.0 414.4h1.2M133.2 382.9h1.2M132.0 417.0h1.2M132.8 412.6h1.2M135.6 414.6h1.2M134.9 411.7h1.2M135.5 414.9h1.2M132.3 410.5h1.2M136.0 412.5h1.2M132.2 410.2h1.2M131.4 413.6h1.2M131.3 414.8h1.2M127.9 414.9h1.2M127.4 413.5h1.2M128.0 407.8h1.2M145.7 376.9h1.2M146.0 400.2h1.2M149.9 410.9h1.2M151.8 408.5h1.2M151.7 406.4h1.2M148.2 413.4h1.2M149.8 411.1h1.2M146.6 409.1h1.2M146.2 412.8h1.2M151.3 413.5h1.2M150.8 384.1h1.2M150.9 412.0h1.2M148.1 407.8h1.2M147.9 399.3h1.2M146.0 410.7h1.2M153.7 411.5h1.2M152.0 408.1h1.2M147.9 407.9h1.2M150.1 410.0h1.2M150.1 410.7h1.2M149.0 413.8h1.2M149.8 412.9h1.2M153.6 407.2h1.2M153.4 395.4h1.2M148.2 408.7h1.2M146.7 397.1h1.2M146.2 409.7h1.2M152.1 398.9h1.2M147.2 390.5h1.2M151.7 397.7h1.2M149.5 406.9h1.2M149.7 399.3h1.2M153.7 387.7h1.2M150.3 409.9h1.2M153.5 408.9h1.2M149.1 396.7h1.2M148.4 409.9h1.2M151.4 404.2h1.2M150.2 405.3h1.2M145.7 404.0h1.2M151.7 408.1h1.2M152.7 402.2h1.2M153.7 411.7h1.2M151.0 382.7h1.2M147.3 398.5h1.2M147.5 412.1h1.2M153.4 407.1h1.2M153.8 410.1h1.2M146.0 398.0h1.2M154.3 413.7h1.2M152.4 407.8h1.2M148.3 396.2h1.2M153.2 413.9h1.2M149.1 389.9h1.2M145.7 404.3h1.2M150.9 388.7h1.2M151.6 379.7h1.2M147.2 410.0h1.2M153.2 407.5h1.2M150.3 407.1h1.2M146.9 411.8h1.2M148.3 411.5h1.2M153.8 408.2h1.2M147.6 411.1h1.2M153.8 401.8h1.2M148.2 411.6h1.2M146.2 409.2h1.2M150.4 413.1h1.2M147.7 411.4h1.2M149.8 399.3h1.2M151.3 406.5h1.2M153.6 401.8h1.2M146.6 382.4h1.2M145.8 401.9h1.2M147.9 412.8h1.2M146.9 412.7h1.2M152.7 411.6h1.2M150.0 400.1h1.2M152.1 406.8h1.2M146.3 405.9h1.2M147.4 408.4h1.2M154.1 408.3h1.2M148.4 412.0h1.2M151.4 406.1h1.2M149.1 410.7h1.2M153.7 407.8h1.2M153.4 413.5h1.2M153.6 406.7h1.2M151.3 409.5h1.2M147.6 413.8h1.2M148.5 404.6h1.2M154.2 407.4h1.2M151.4 406.6h1.2M147.8 406.5h1.2M148.9 375.6h1.2M149.3 413.8h1.2M147.4 409.2h1.2M165.9 410.1h1.2M166.9 405.6h1.2M167.9 407.8h1.2M164.2 400.7h1.2M164.1 411.4h1.2M164.8 406.9h1.2M164.8 389.5h1.2M169.6 408.2h1.2M163.7 410.5h1.2M169.1 411.1h1.2M171.1 409.6h1.2M165.6 412.0h1.2M165.9 407.4h1.2M163.9 410.4h1.2M169.5 407.2h1.2M171.5 409.4h1.2M166.1 404.8h1.2M165.4 409.4h1.2M167.1 412.6h1.2M169.9 406.6h1.2M163.3 412.8h1.2M166.1 392.1h1.2M170.6 401.9h1.2M164.5 410.6h1.2M165.6 399.9h1.2M163.0 407.2h1.2M166.8 405.6h1.2M164.7 411.4h1.2M170.7 390.0h1.2M165.7 410.2h1.2M166.0 409.8h1.2M171.3 409.2h1.2M166.1 413.4h1.2M168.3 406.4h1.2M169.2 409.9h1.2M164.3 408.5h1.2M164.8 391.7h1.2M171.0 402.5h1.2M169.5 411.8h1.2M166.0 400.0h1.2M164.2 391.2h1.2M171.4 406.9h1.2M170.5 406.8h1.2M168.6 408.9h1.2M169.1 407.5h1.2M169.2 401.6h1.2M164.8 400.7h1.2M169.8 404.0h1.2M164.5 401.2h1.2M163.1 406.3h1.2M168.6 381.7h1.2M168.2 411.0h1.2M167.8 410.1h1.2M170.4 399.6h1.2M168.7 377.3h1.2M167.4 406.6h1.2M163.3 412.0h1.2M171.4 393.7h1.2M164.6 397.6h1.2M164.7 404.7h1.2M169.8 410.0h1.2M163.1 389.4h1.2M169.1 399.9h1.2M164.3 402.7h1.2M169.4 409.6h1.2M164.5 411.5h1.2M164.5 407.7h1.2M164.4 410.8h1.2M163.9 411.4h1.2M165.9 408.7h1.2M164.5 412.2h1.2M163.6 408.9h1.2M163.4 410.3h1.2M164.1 401.4h1.2M164.2 407.8h1.2M171.4 403.2h1.2M163.7 402.5h1.2M164.4 411.6h1.2M163.7 394.0h1.2M169.6 400.6h1.2M166.7 397.4h1.2M166.0 408.6h1.2M167.2 404.0h1.2M166.8 402.5h1.2M168.2 396.9h1.2M166.6 410.7h1.2M170.9 411.1h1.2M166.5 413.1h1.2M168.2 408.5h1.2M168.8 412.5h1.2M165.4 412.2h1.2M163.6 410.1h1.2M170.8 412.9h1.2M171.0 403.1h1.2M167.7 405.4h1.2M167.7 408.2h1.2M164.5 409.9h1.2M169.8 405.6h1.2M170.8 379.5h1.2M164.8 405.2h1.2M164.4 406.1h1.2M169.5 395.8h1.2M165.8 409.3h1.2M166.8 393.7h1.2M168.8 412.8h1.2M164.0 408.6h1.2M164.8 396.1h1.2M167.6 411.6h1.2M165.9 410.9h1.2M171.0 408.1h1.2M166.7 405.5h1.2M171.0 397.5h1.2M163.2 391.1h1.2M169.7 398.8h1.2M169.3 402.3h1.2M164.8 403.8h1.2M182.8 403.6h1.2M182.9 407.9h1.2M180.8 400.5h1.2M183.1 410.4h1.2M183.7 408.4h1.2M185.7 408.8h1.2M185.5 411.1h1.2M184.9 413.1h1.2M181.9 412.3h1.2M185.4 408.3h1.2M183.2 412.0h1.2M183.0 399.2h1.2M185.9 401.7h1.2M181.7 398.7h1.2M183.4 409.7h1.2M185.8 400.8h1.2M184.7 396.3h1.2M184.3 404.8h1.2M184.8 394.8h1.2M181.6 411.6h1.2M185.7 408.6h1.2M184.9 409.9h1.2M184.3 410.1h1.2M185.9 394.8h1.2M183.6 405.6h1.2M185.1 411.6h1.2M181.0 411.1h1.2M183.2 395.5h1.2M181.4 407.7h1.2M184.2 390.2h1.2M182.5 395.3h1.2M183.2 407.4h1.2M180.4 412.4h1.2M182.3 405.1h1.2M184.6 396.7h1.2M183.5 403.3h1.2M183.6 410.8h1.2M181.7 403.4h1.2M180.7 407.6h1.2M182.7 403.2h1.2M184.3 411.0h1.2M181.5 398.8h1.2M183.6 413.2h1.2M180.8 385.9h1.2M183.7 398.7h1.2M180.3 402.3h1.2M180.5 408.7h1.2M185.9 386.7h1.2M183.6 402.1h1.2M181.0 399.9h1.2M182.5 375.8h1.2M180.3 408.2h1.2M185.5 412.5h1.2M183.1 411.3h1.2M184.4 401.6h1.2M184.2 408.0h1.2M181.4 397.1h1.2M183.5 408.9h1.2M183.5 402.7h1.2M181.7 413.0h1.2M185.2 409.3h1.2M181.8 404.6h1.2M181.9 405.7h1.2M184.2 382.6h1.2M182.5 394.2h1.2M184.7 412.0h1.2M185.1 411.5h1.2M185.2 400.1h1.2M183.9 405.6h1.2M181.9 413.0h1.2M180.6 412.1h1.2M180.6 406.4h1.2M198.2 405.6h1.2M193.1 408.9h1.2M195.5 412.7h1.2M198.0 386.3h1.2M193.7 402.4h1.2M193.6 408.8h1.2M197.2 407.9h1.2M195.9 412.8h1.2M196.4 410.9h1.2M197.1 399.1h1.2M197.8 409.2h1.2M194.0 413.0h1.2M196.7 411.6h1.2M196.3 407.1h1.2M193.0 412.6h1.2M196.5 400.6h1.2M194.7 390.4h1.2M194.7 404.9h1.2M194.0 394.2h1.2M197.2 407.0h1.2M194.7 408.9h1.2M198.1 412.1h1.2M195.6 406.8h1.2M194.6 411.5h1.2M193.5 409.2h1.2M194.3 409.0h1.2M192.9 403.8h1.2M192.6 396.4h1.2M197.0 407.6h1.2M197.8 412.7h1.2M192.9 382.0h1.2M198.2 409.6h1.2M197.0 410.1h1.2M192.5 398.5h1.2M194.2 407.2h1.2M192.9 397.4h1.2M192.6 403.1h1.2M195.6 404.7h1.2M198.3 389.5h1.2M196.8 397.5h1.2M196.2 408.8h1.2M197.0 408.1h1.2M196.6 379.5h1.2M196.0 411.6h1.2M197.8 406.3h1.2M194.5 409.6h1.2M196.3 402.4h1.2M196.3 407.0h1.2M193.0 410.7h1.2M195.9 407.9h1.2M194.5 401.3h1.2M198.1 409.4h1.2M193.6 391.6h1.2M194.2 395.7h1.2M197.3 412.6h1.2M198.0 406.3h1.2M192.7 407.9h1.2M196.8 408.6h1.2M196.6 410.7h1.2M206.3 407.4h1.2M206.1 392.8h1.2M205.2 411.2h1.2M208.0 410.7h1.2M203.9 409.8h1.2M205.2 406.8h1.2M203.7 398.5h1.2M205.1 409.9h1.2M206.1 411.2h1.2M208.2 392.0h1.2M203.6 404.3h1.2M204.3 403.1h1.2M206.7 405.3h1.2M206.4 385.9h1.2M204.0 409.6h1.2M205.3 399.7h1.2M206.3 408.8h1.2M206.6 402.2h1.2M207.7 412.1h1.2M207.9 402.5h1.2M206.8 402.3h1.2M205.3 409.4h1.2M205.1 387.8h1.2M204.8 390.4h1.2M208.4 406.7h1.2M206.2 403.0h1.2M205.5 412.1h1.2M206.4 410.9h1.2M204.8 377.8h1.2M208.2 388.3h1.2M208.0 410.5h1.2M204.4 401.0h1.2M206.6 410.8h1.2M205.1 393.8h1.2M206.8 399.0h1.2M207.1 411.0h1.2M204.4 409.1h1.2M203.7 406.7h1.2M203.7 393.6h1.2M206.5 392.3h1.2M205.4 411.8h1.2M204.4 406.4h1.2M207.6 401.8h1.2M203.8 406.9h1.2M207.8 408.6h1.2M203.6 407.8h1.2M207.1 393.9h1.2M206.1 411.8h1.2M208.5 408.1h1.2M208.2 404.6h1.2M205.3 407.3h1.2M204.0 405.4h1.2M205.1 407.5h1.2M207.7 410.5h1.2M207.2 404.5h1.2M204.7 403.8h1.2M204.5 409.3h1.2M205.1 403.3h1.2M207.7 411.0h1.2M208.4 411.0h1.2M206.9 408.6h1.2M208.0 409.7h1.2M216.0 388.1h1.2M215.4 408.3h1.2M214.2 412.6h1.2M214.8 413.7h1.2M214.6 402.1h1.2M213.3 398.3h1.2M215.2 401.8h1.2M214.6 397.8h1.2M213.9 412.6h1.2M213.5 404.4h1.2M215.2 383.1h1.2M214.4 411.0h1.2M216.3 402.5h1.2M215.9 414.9h1.2M213.9 391.2h1.2M212.8 411.8h1.2M214.1 405.8h1.2M213.2 411.7h1.2M212.5 399.2h1.2M212.9 392.4h1.2M213.4 410.6h1.2M212.6 415.3h1.2M212.4 414.8h1.2M213.6 413.3h1.2M216.0 408.5h1.2M215.9 409.4h1.2M215.8 411.1h1.2M213.9 413.4h1.2M213.9 413.5h1.2M216.3 409.8h1.2M214.0 403.2h1.2M215.3 412.9h1.2M216.3 406.8h1.2M212.7 392.9h1.2M212.7 395.7h1.2M213.6 412.4h1.2M213.9 413.4h1.2M214.3 413.7h1.2M214.5 413.0h1.2M212.6 380.1h1.2M213.0 414.9h1.2M216.3 413.7h1.2M214.3 400.6h1.2M212.5 415.4h1.2M215.6 414.1h1.2M213.7 400.6h1.2M214.0 395.5h1.2M221.6 394.4h1.2M222.6 412.3h1.2M220.6 383.3h1.2M220.7 408.2h1.2M221.4 410.4h1.2M222.2 405.0h1.2M222.4 408.6h1.2M221.2 412.7h1.2M221.5 417.4h1.2M220.6 405.9h1.2M222.8 415.0h1.2M222.7 414.0h1.2M221.0 406.8h1.2M222.4 415.3h1.2M221.2 407.2h1.2M222.1 411.6h1.2M222.4 408.1h1.2M222.6 413.3h1.2M221.8 409.0h1.2M221.9 387.4h1.2M220.6 411.4h1.2M222.6 417.5h1.2M221.4 411.5h1.2M220.9 416.4h1.2M221.6 413.6h1.2M220.8 408.5h1.2M82.4 361.5h1.2M82.4 365.4h1.2M82.4 367.0h1.2M85.4 370.6h1.2M57.1 368.8h1.2M62.6 371.0h1.2M62.6 374.0h1.2M62.6 377.0h1.2M62.6 380.0h1.2M62.6 383.0h1.2M55.9 377.0h1.2M106.1 358.7h1.2M146.3 354.8h1.2M151.9 363.1h1.2M147.3 372.1h1.2M193.8 364.4h1.2M193.8 367.5h1.2M193.8 370.5h1.2M193.8 373.5h1.2M193.8 376.5h1.2M193.8 379.5h1.2M193.8 382.5h1.2M207.3 374.0h1.2M171.3 376.5h1.2M171.3 379.5h1.2M171.3 382.7h1.2M180.4 377.0h1.2M180.4 380.0h1.2M180.4 383.0h1.2M62.2 391.2h1.2M62.3 386.8h1.2M62.3 380.7h1.2M62.6 398.4h1.2M62.3 394.7h1.2M62.3 378.7h1.2M62.3 398.9h1.2M62.4 399.7h1.2M65.1 403.1h1.2M65.5 381.9h1.2M65.7 391.6h1.2M65.2 400.3h1.2M65.6 396.4h1.2M65.0 393.3h1.2M111.0 394.8h1.2M111.3 400.3h1.2M111.3 379.5h1.2M111.4 387.7h1.2M111.7 390.3h1.2M194.1 393.8h1.2M194.3 392.8h1.2M194.2 391.4h1.2M194.5 393.4h1.2M194.5 389.6h1.2M194.3 393.9h1.2M194.7 393.5h1.2M194.2 391.7h1.2M149.5 407.7h1.2M149.5 403.4h1.2M149.5 399.9h1.2M149.7 396.1h1.2M149.7 404.2h1.2M149.4 405.9h1.2M86.3 407.6h1.2M86.4 373.8h1.2M86.2 394.9h1.2M86.0 377.1h1.2M86.2 376.6h1.2M86.7 388.3h1.2M185.6 379.7h1.2M185.2 394.7h1.2M185.0 387.0h1.2M185.3 380.4h1.2M185.7 390.3h1.2M185.1 396.2h1.2M185.0 375.5h1.2" stroke="#86ccee" stroke-width="1.2" fill="none"/>
<path d="M33.2 292.5V451M30 451H33.2M30 424.58H33.2M30 398.16H33.2M30 371.74H33.2M30 345.32H33.2M30 318.90H33.2M30 292.48H33.2" stroke="#8a8a8a" stroke-width="1.05" fill="none"/>
<text x="24.50" y="453.02" font-size="5.6" text-anchor="middle" transform="rotate(0.03 24.50 453.02)" style="stroke-opacity:.7;stroke-width:.3px">0</text>
<text x="24.50" y="426.60" font-size="5.6" text-anchor="middle" transform="rotate(0.03 24.50 426.60)" style="stroke-opacity:.7;stroke-width:.3px">1</text>
<text x="24.50" y="400.18" font-size="5.6" text-anchor="middle" transform="rotate(0.03 24.50 400.18)" style="stroke-opacity:.7;stroke-width:.3px">2</text>
<text x="24.50" y="373.76" font-size="5.6" text-anchor="middle" transform="rotate(0.03 24.50 373.76)" style="stroke-opacity:.7;stroke-width:.3px">3</text>
<text x="24.50" y="347.34" font-size="5.6" text-anchor="middle" transform="rotate(0.03 24.50 347.34)" style="stroke-opacity:.7;stroke-width:.3px">4</text>
<text x="24.50" y="320.92" font-size="5.6" text-anchor="middle" transform="rotate(0.03 24.50 320.92)" style="stroke-opacity:.7;stroke-width:.3px">5</text>
<text x="24.50" y="294.50" font-size="5.6" text-anchor="middle" transform="rotate(0.03 24.50 294.50)" style="stroke-opacity:.7;stroke-width:.3px">6</text>
<text x="18.80" y="368.30" font-size="6.9" text-anchor="middle" transform="rotate(-89.97 18.80 368.30)">−log10 p−value</text>
<path d="M33.2 302.2H227.9" stroke="#cf6f72" stroke-width="0.8"/>
<path d="M33.2 318.9H227.9" stroke="#8790cf" stroke-width="0.8"/>
<circle cx="50.0" cy="310.5" r="0.7" fill="#2f6a3e"/>
<text x="52.50" y="311.68" font-size="6.6" fill="#111" transform="rotate(0.03 52.50 311.68)" textLength="25.22" lengthAdjust="spacingAndGlyphs">KIAA0040</text>
<circle cx="106.7" cy="301.0" r="0.7" fill="#2f6a3e"/>
<text x="108.90" y="301.78" font-size="6.6" fill="#111" transform="rotate(0.03 108.90 301.78)" textLength="26.14" lengthAdjust="spacingAndGlyphs">GMCL1P1</text>
<circle cx="105.9" cy="311.8" r="0.7" fill="#2f6a3e"/>
<text x="108.90" y="312.58" font-size="6.6" fill="#111" transform="rotate(0.03 108.90 312.58)" textLength="24.59" lengthAdjust="spacingAndGlyphs">AGXT2L2</text>
<circle cx="198.3" cy="307.7" r="0.7" fill="#2f6a3e"/>
<text x="201.00" y="309.38" font-size="6.6" fill="#111" transform="rotate(0.03 201.00 309.38)" textLength="20.24" lengthAdjust="spacingAndGlyphs">KLHL36</text>
<text x="46.21" y="462.34" font-size="5.4" text-anchor="middle" transform="rotate(0.03 46.21 462.34)" style="stroke-opacity:.7;stroke-width:.3px">1</text>
<text x="62.04" y="462.34" font-size="5.4" text-anchor="middle" transform="rotate(0.03 62.04 462.34)" style="stroke-opacity:.7;stroke-width:.3px">2</text>
<text x="76.22" y="462.34" font-size="5.4" text-anchor="middle" transform="rotate(0.03 76.22 462.34)" style="stroke-opacity:.7;stroke-width:.3px">3</text>
<text x="88.73" y="462.34" font-size="5.4" text-anchor="middle" transform="rotate(0.03 88.73 462.34)" style="stroke-opacity:.7;stroke-width:.3px">4</text>
<text x="100.69" y="462.34" font-size="5.4" text-anchor="middle" transform="rotate(0.03 100.69 462.34)" style="stroke-opacity:.7;stroke-width:.3px">5</text>
<text x="112.00" y="462.34" font-size="5.4" text-anchor="middle" transform="rotate(0.03 112.00 462.34)" style="stroke-opacity:.7;stroke-width:.3px">6</text>
<text x="122.62" y="462.34" font-size="5.4" text-anchor="middle" transform="rotate(0.03 122.62 462.34)" style="stroke-opacity:.7;stroke-width:.3px">7</text>
<text x="132.44" y="462.34" font-size="5.4" text-anchor="middle" transform="rotate(0.03 132.44 462.34)" style="stroke-opacity:.7;stroke-width:.3px">8</text>
<text x="141.68" y="462.34" font-size="5.4" text-anchor="middle" transform="rotate(0.03 141.68 462.34)" style="stroke-opacity:.7;stroke-width:.3px">9</text>
<text x="159.27" y="462.34" font-size="5.4" text-anchor="middle" transform="rotate(0.03 159.27 462.34)" style="stroke-opacity:.7;stroke-width:.3px">11</text>
<text x="175.92" y="462.34" font-size="5.4" text-anchor="middle" transform="rotate(0.03 175.92 462.34)" style="stroke-opacity:.7;stroke-width:.3px">13</text>
<text x="189.82" y="462.34" font-size="5.4" text-anchor="middle" transform="rotate(0.03 189.82 462.34)" style="stroke-opacity:.7;stroke-width:.3px">15</text>
<text x="206.65" y="462.34" font-size="5.4" text-anchor="middle" transform="rotate(0.03 206.65 462.34)" style="stroke-opacity:.7;stroke-width:.3px">18</text>
<text x="218.56" y="462.34" font-size="5.4" text-anchor="middle" transform="rotate(0.03 218.56 462.34)" style="stroke-opacity:.7;stroke-width:.3px">21</text>
<path d="M46.21 451.50v2.3M62.04 451.50v2.3M76.22 451.50v2.3M88.73 451.50v2.3M100.69 451.50v2.3M112.00 451.50v2.3M122.62 451.50v2.3M132.44 451.50v2.3M141.68 451.50v2.3M150.58 451.50v2.3M159.27 451.50v2.3M167.91 451.50v2.3M175.92 451.50v2.3M183.07 451.50v2.3M189.82 451.50v2.3M196.02 451.50v2.3M201.53 451.50v2.3M206.65 451.50v2.3M211.06 451.50v2.3M214.98 451.50v2.3M218.56 451.50v2.3M221.75 451.50v2.3" stroke="#444" stroke-width="0.7"/>
<text x="130.80" y="467.43" font-size="5.65" text-anchor="middle" fill="#222" transform="rotate(0.03 130.80 467.43)">Chromosome</text>
<text x="103.10" y="479.20" font-size="8.3" transform="rotate(0.03 103.10 479.20)">ND_GWAS</text>
<path d="M38.20 647.50V626.55H46.01V647.50ZM47.49 647.50V626.55H54.22V647.50ZM69.86 647.50V626.38H82.59V647.50ZM94.88 647.50V629.45H106.50V647.50ZM117.50 647.50V628.08H127.73V647.50ZM137.14 647.50V628.08H139.62V647.50ZM141.71 647.50V628.08H146.22V647.50ZM154.93 647.50V626.65H163.61V647.50ZM173.44 647.50V628.19H179.62V647.50ZM187.81 647.50V627.05H193.11V647.50ZM198.92 647.50V628.95H204.14V647.50ZM209.16 647.50V628.24H212.96V647.50ZM217.94 647.50V627.39H220.10V647.50Z" fill="#bababa"/>
<path d="M54.22 647.50V629.38H69.86V647.50ZM82.59 647.50V627.19H94.88V647.50ZM106.50 647.50V629.13H117.50V647.50ZM127.73 647.50V626.70H137.14V647.50ZM146.22 647.50V626.44H154.93V647.50ZM163.61 647.50V628.39H172.22V647.50ZM180.87 647.50V626.54H186.52V647.50ZM193.11 647.50V629.39H195.38V647.50ZM196.10 647.50V629.39H198.92V647.50ZM204.14 647.50V627.49H209.16V647.50ZM212.96 647.50V628.85H217.01V647.50ZM221.13 647.50V628.88H223.40V647.50Z" fill="#86ccee"/>
<path d="M42.5 645.8h0.9M39.5 640.8h0.9M40.5 637.8h0.9M42.5 637.8h0.9M41.5 635.8h0.9M40.5 634.8h0.9M44.5 631.8h0.9M44.5 630.8h0.9M40.5 629.8h0.9M38.5 628.8h0.9M41.5 628.8h0.9M43.5 628.8h0.9M38.5 627.8h0.9M41.5 627.8h0.9M41.5 626.8h0.9M43.5 626.8h0.9M51.8 638.8h0.9M51.8 633.8h0.9M49.8 632.8h0.9M50.8 631.8h0.9M48.8 629.8h0.9M48.8 627.8h0.9M52.8 627.8h0.9M47.8 626.8h0.9M48.8 626.8h0.9M67.5 643.8h0.9M56.5 641.8h0.9M59.5 641.8h0.9M65.5 640.8h0.9M66.5 640.8h0.9M68.5 640.8h0.9M57.5 639.8h0.9M61.5 639.8h0.9M67.5 638.8h0.9M66.5 637.8h0.9M54.5 636.8h0.9M57.5 636.8h0.9M61.5 636.8h0.9M61.5 635.8h0.9M63.5 634.8h0.9M60.5 633.8h0.9M66.5 633.8h0.9M67.5 633.8h0.9M56.5 632.8h0.9M58.5 632.8h0.9M67.5 632.8h0.9M54.5 631.8h0.9M58.5 631.8h0.9M64.5 631.8h0.9M56.5 630.8h0.9M57.5 630.8h0.9M58.5 630.8h0.9M60.5 630.8h0.9M62.5 630.8h0.9M63.5 630.8h0.9M65.5 630.8h0.9M54.5 629.8h0.9M58.5 629.8h0.9M59.5 629.8h0.9M63.5 629.8h0.9M65.5 629.8h0.9M66.5 629.8h0.9M67.5 629.8h0.9M76.2 645.8h0.9M80.2 643.8h0.9M74.2 641.8h0.9M79.2 638.8h0.9M71.2 636.8h0.9M73.2 635.8h0.9M76.2 635.8h0.9M78.2 635.8h0.9M79.2 634.8h0.9M73.2 633.8h0.9M70.2 632.8h0.9M74.2 632.8h0.9M77.2 632.8h0.9M76.2 631.8h0.9M77.2 631.8h0.9M79.2 631.8h0.9M76.2 630.8h0.9M81.2 630.8h0.9M70.2 629.8h0.9M71.2 629.8h0.9M80.2 629.8h0.9M70.2 628.8h0.9M72.2 628.8h0.9M73.2 628.8h0.9M76.2 628.8h0.9M80.2 628.8h0.9M74.2 627.8h0.9M76.2 627.8h0.9M77.2 627.8h0.9M70.2 626.8h0.9M73.2 626.8h0.9M74.2 626.8h0.9M75.2 626.8h0.9M76.2 626.8h0.9M77.2 626.8h0.9M88.9 645.8h0.9M83.9 644.8h0.9M84.9 642.8h0.9M90.9 642.8h0.9M89.9 639.8h0.9M92.9 637.8h0.9M83.9 636.8h0.9M88.9 635.8h0.9M83.9 634.8h0.9M86.9 633.8h0.9M89.9 633.8h0.9M88.9 631.8h0.9M91.9 631.8h0.9M84.9 630.8h0.9M89.9 630.8h0.9M85.9 629.8h0.9M91.9 629.8h0.9M93.9 629.8h0.9M83.9 628.8h0.9M84.9 628.8h0.9M88.9 628.8h0.9M90.9 628.8h0.9M82.9 627.8h0.9M83.9 627.8h0.9M84.9 627.8h0.9M87.9 627.8h0.9M103.2 643.8h0.9M103.2 641.8h0.9M99.2 638.8h0.9M95.2 637.8h0.9M101.2 636.8h0.9M105.2 635.8h0.9M95.2 634.8h0.9M97.2 634.8h0.9M102.2 634.8h0.9M104.2 634.8h0.9M99.2 633.8h0.9M101.2 633.8h0.9M105.2 633.8h0.9M96.2 632.8h0.9M98.2 632.8h0.9M101.2 632.8h0.9M104.2 632.8h0.9M105.2 632.8h0.9M98.2 631.8h0.9M101.2 631.8h0.9M103.2 631.8h0.9M95.2 630.8h0.9M96.2 630.8h0.9M97.2 630.8h0.9M100.2 630.8h0.9M104.2 630.8h0.9M105.2 630.8h0.9M95.2 629.8h0.9M98.2 629.8h0.9M101.2 629.8h0.9M104.2 629.8h0.9M105.2 629.8h0.9M106.8 645.8h0.9M115.8 644.8h0.9M114.8 643.8h0.9M107.8 639.8h0.9M114.8 639.8h0.9M107.8 638.8h0.9M109.8 634.8h0.9M110.8 633.8h0.9M112.8 633.8h0.9M113.8 633.8h0.9M115.8 633.8h0.9M106.8 632.8h0.9M108.8 632.8h0.9M111.8 632.8h0.9M114.8 632.8h0.9M115.8 632.8h0.9M110.8 631.8h0.9M112.8 631.8h0.9M109.8 630.8h0.9M109.8 629.8h0.9M110.8 629.8h0.9M122.8 646.8h0.9M124.8 644.8h0.9M125.8 643.8h0.9M118.8 641.8h0.9M120.8 640.8h0.9M124.8 640.8h0.9M126.8 640.8h0.9M121.8 638.8h0.9M125.8 638.8h0.9M118.8 636.8h0.9M122.8 635.8h0.9M118.8 633.8h0.9M119.8 633.8h0.9M121.8 633.8h0.9M123.8 633.8h0.9M117.8 632.8h0.9M124.8 632.8h0.9M118.8 630.8h0.9M123.8 630.8h0.9M124.8 630.8h0.9M117.8 629.8h0.9M121.8 629.8h0.9M122.8 629.8h0.9M118.8 628.8h0.9M119.8 628.8h0.9M120.8 628.8h0.9M124.8 628.8h0.9M125.8 628.8h0.9M126.8 628.8h0.9M134.0 645.8h0.9M135.0 645.8h0.9M128.0 643.8h0.9M133.0 643.8h0.9M129.0 639.8h0.9M131.0 638.8h0.9M131.0 637.8h0.9M131.0 635.8h0.9M135.0 635.8h0.9M136.0 635.8h0.9M129.0 634.8h0.9M130.0 634.8h0.9M133.0 634.8h0.9M133.0 633.8h0.9M130.0 632.8h0.9M131.0 632.8h0.9M129.0 631.8h0.9M130.0 631.8h0.9M134.0 631.8h0.9M130.0 630.8h0.9M135.0 630.8h0.9M132.0 629.8h0.9M134.0 629.8h0.9M136.0 629.8h0.9M132.0 628.8h0.9M128.0 627.8h0.9M136.0 627.8h0.9M128.0 626.8h0.9M129.0 626.8h0.9M131.0 626.8h0.9M133.0 626.8h0.9M134.0 626.8h0.9M137.4 638.8h0.9M138.4 638.8h0.9M137.4 633.8h0.9M138.4 632.8h0.9M138.4 630.8h0.9M138.4 629.8h0.9M144.0 637.8h0.9M144.0 632.8h0.9M144.0 631.8h0.9M142.0 629.8h0.9M145.0 629.8h0.9M145.0 628.8h0.9M149.5 642.8h0.9M148.5 637.8h0.9M147.5 632.8h0.9M150.5 632.8h0.9M150.5 631.8h0.9M149.5 630.8h0.9M146.5 629.8h0.9M147.5 629.8h0.9M149.5 629.8h0.9M153.5 629.8h0.9M147.5 628.8h0.9M149.5 628.8h0.9M147.5 627.8h0.9M146.5 626.8h0.9M153.5 626.8h0.9M158.2 638.8h0.9M157.2 637.8h0.9M155.2 636.8h0.9M161.2 635.8h0.9M156.2 634.8h0.9M159.2 634.8h0.9M160.2 634.8h0.9M159.2 633.8h0.9M155.2 632.8h0.9M157.2 631.8h0.9M160.2 631.8h0.9M160.2 630.8h0.9M160.2 629.8h0.9M162.2 629.8h0.9M157.2 628.8h0.9M159.2 628.8h0.9M161.2 628.8h0.9M162.2 628.8h0.9M159.2 627.8h0.9M160.2 627.8h0.9M155.2 626.8h0.9M158.2 626.8h0.9M159.2 626.8h0.9M162.2 626.8h0.9M169.9 644.8h0.9M163.9 640.8h0.9M165.9 640.8h0.9M167.9 634.8h0.9M165.9 633.8h0.9M163.9 632.8h0.9M165.9 632.8h0.9M164.9 631.8h0.9M164.9 630.8h0.9M166.9 630.8h0.9M169.9 630.8h0.9M163.9 629.8h0.9M166.9 629.8h0.9M163.9 628.8h0.9M164.9 628.8h0.9M167.9 628.8h0.9M169.9 628.8h0.9M175.7 646.8h0.9M173.7 636.8h0.9M177.7 635.8h0.9M176.7 632.8h0.9M177.7 631.8h0.9M175.7 630.8h0.9M177.7 630.8h0.9M178.7 630.8h0.9M173.7 629.8h0.9M176.7 629.8h0.9M173.7 628.8h0.9M174.7 628.8h0.9M175.7 628.8h0.9M176.7 628.8h0.9M177.7 628.8h0.9M185.2 643.8h0.9M182.2 638.8h0.9M181.2 635.8h0.9M181.2 634.8h0.9M183.2 632.8h0.9M181.2 631.8h0.9M183.2 631.8h0.9M181.2 629.8h0.9M183.2 629.8h0.9M182.2 628.8h0.9M184.2 628.8h0.9M185.2 628.8h0.9M181.2 627.8h0.9M182.2 627.8h0.9M183.2 627.8h0.9M181.2 626.8h0.9M183.2 626.8h0.9M185.2 626.8h0.9M188.1 642.8h0.9M192.1 642.8h0.9M188.1 641.8h0.9M190.1 633.8h0.9M192.1 633.8h0.9M188.1 631.8h0.9M189.1 631.8h0.9M191.1 631.8h0.9M188.1 630.8h0.9M190.1 630.8h0.9M191.1 630.8h0.9M192.1 629.8h0.9M192.1 628.8h0.9M188.1 627.8h0.9M190.1 627.8h0.9M193.4 634.8h0.9M194.4 632.8h0.9M193.4 631.8h0.9M196.4 636.8h0.9M197.4 636.8h0.9M196.4 634.8h0.9M197.4 633.8h0.9M196.4 632.8h0.9M197.4 632.8h0.9M196.4 630.8h0.9M197.4 629.8h0.9M200.2 639.8h0.9M202.2 634.8h0.9M203.2 633.8h0.9M199.2 630.8h0.9M202.2 630.8h0.9M199.2 629.8h0.9M202.2 629.8h0.9M206.4 646.8h0.9M205.4 643.8h0.9M204.4 636.8h0.9M204.4 633.8h0.9M206.4 633.8h0.9M204.4 632.8h0.9M207.4 632.8h0.9M204.4 630.8h0.9M204.4 628.8h0.9M205.4 628.8h0.9M206.4 628.8h0.9M206.4 627.8h0.9M207.4 627.8h0.9M209.5 645.8h0.9M209.5 643.8h0.9M210.5 633.8h0.9M211.5 631.8h0.9M209.5 629.8h0.9M211.5 629.8h0.9M210.5 628.8h0.9M214.3 639.8h0.9M215.3 639.8h0.9M213.3 638.8h0.9M215.3 634.8h0.9M213.3 633.8h0.9M214.3 629.8h0.9M215.3 629.8h0.9M218.2 638.8h0.9M219.2 632.8h0.9M219.2 631.8h0.9M218.2 630.8h0.9M218.2 628.8h0.9M218.2 627.8h0.9M221.4 639.8h0.9M221.4 635.8h0.9M222.4 635.8h0.9M221.4 630.8h0.9M222.4 630.8h0.9" stroke="#fff" stroke-opacity="0.85" stroke-width="0.9" fill="none"/>
<path d="M47.8 625.8h1.2M47.6 626.6h1.2M47.0 622.4h1.2M38.6 626.2h1.2M39.7 622.9h1.2M42.1 620.4h1.2M50.0 620.7h1.2M45.3 621.0h1.2M42.6 625.6h1.2M41.7 625.0h1.2M47.0 622.6h1.2M41.9 616.9h1.2M50.6 626.9h1.2M52.2 621.6h1.2M49.1 626.0h1.2M39.2 619.9h1.2M51.1 626.3h1.2M38.8 626.5h1.2M49.5 616.7h1.2M45.0 620.6h1.2M47.4 625.0h1.2M51.8 620.3h1.2M49.8 625.6h1.2M38.6 618.5h1.2M40.2 615.9h1.2M38.5 625.5h1.2M39.7 620.0h1.2M50.9 627.0h1.2M47.4 617.8h1.2M50.7 621.5h1.2M39.6 620.5h1.2M42.7 616.7h1.2M45.1 621.4h1.2M51.5 623.6h1.2M42.3 626.5h1.2M48.0 619.8h1.2M40.6 615.4h1.2M50.7 616.4h1.2M39.6 626.0h1.2M53.3 621.4h1.2M43.8 620.9h1.2M50.9 622.5h1.2M45.4 622.2h1.2M52.6 621.2h1.2M51.3 616.6h1.2M47.8 625.0h1.2M49.5 615.8h1.2M45.0 626.2h1.2M40.6 624.2h1.2M53.4 622.5h1.2M39.0 617.5h1.2M43.0 625.2h1.2M44.3 613.0h1.2M47.1 625.9h1.2M38.2 625.2h1.2M53.5 621.2h1.2M49.8 617.3h1.2M47.2 626.0h1.2M50.1 620.5h1.2M38.4 623.2h1.2M49.8 625.0h1.2M50.4 623.0h1.2M38.9 624.4h1.2M44.6 623.4h1.2M43.5 616.8h1.2M43.1 619.9h1.2M40.1 618.5h1.2M52.8 613.3h1.2M51.6 626.9h1.2M49.2 617.3h1.2M49.7 626.3h1.2M48.2 617.4h1.2M52.5 620.5h1.2M41.9 626.0h1.2M45.2 622.1h1.2M48.1 620.5h1.2M52.8 620.7h1.2M49.8 623.7h1.2M43.5 621.1h1.2M39.8 624.4h1.2M42.5 627.0h1.2M38.8 624.7h1.2M42.7 622.7h1.2M48.8 617.2h1.2M41.6 614.8h1.2M47.9 626.2h1.2M53.4 625.4h1.2M52.0 623.5h1.2M39.0 625.2h1.2M49.2 620.6h1.2M52.6 625.1h1.2M53.4 619.5h1.2M49.7 626.0h1.2M49.7 618.1h1.2M47.0 624.4h1.2M51.4 621.3h1.2M81.6 615.6h1.2M75.6 618.9h1.2M73.0 626.5h1.2M81.5 625.5h1.2M70.9 618.4h1.2M74.6 624.2h1.2M81.7 620.4h1.2M78.2 624.2h1.2M80.8 623.4h1.2M79.0 622.4h1.2M78.4 621.2h1.2M74.2 617.7h1.2M77.2 623.0h1.2M76.8 618.7h1.2M75.5 624.0h1.2M74.1 622.2h1.2M70.1 624.4h1.2M71.2 626.4h1.2M74.0 626.3h1.2M80.9 623.6h1.2M81.1 619.3h1.2M81.4 620.0h1.2M70.3 616.3h1.2M81.5 626.9h1.2M77.6 624.2h1.2M73.4 622.0h1.2M78.1 621.1h1.2M79.5 626.2h1.2M74.2 626.9h1.2M80.6 614.8h1.2M80.3 614.0h1.2M74.7 622.9h1.2M75.8 622.6h1.2M74.0 625.3h1.2M69.5 622.6h1.2M70.1 621.4h1.2M70.0 621.6h1.2M75.1 625.5h1.2M81.8 617.6h1.2M79.7 617.4h1.2M75.8 623.2h1.2M81.6 621.7h1.2M69.4 614.6h1.2M78.4 619.3h1.2M74.5 623.6h1.2M71.7 625.1h1.2M78.7 613.2h1.2M73.4 615.4h1.2M69.5 617.5h1.2M73.2 622.4h1.2M81.8 624.6h1.2M81.4 626.9h1.2M81.9 619.7h1.2M80.7 623.5h1.2M76.6 621.7h1.2M72.6 620.5h1.2M71.5 620.8h1.2M78.4 626.7h1.2M81.0 626.7h1.2M80.9 625.2h1.2M78.4 624.5h1.2M78.1 624.2h1.2M72.2 625.6h1.2M81.8 624.9h1.2M81.4 623.7h1.2M77.1 625.9h1.2M73.6 625.3h1.2M72.1 624.5h1.2M72.0 621.1h1.2M71.1 624.3h1.2M79.1 624.9h1.2M81.6 624.7h1.2M69.6 626.1h1.2M75.8 625.0h1.2M74.4 624.5h1.2M77.7 617.9h1.2M80.5 625.1h1.2M76.5 624.0h1.2M78.9 624.0h1.2M75.6 621.3h1.2M70.2 625.6h1.2M80.1 624.9h1.2M70.2 623.5h1.2M81.2 625.4h1.2M74.6 626.0h1.2M75.6 626.4h1.2M81.8 624.1h1.2M79.9 622.3h1.2M75.1 619.6h1.2M69.7 617.3h1.2M79.8 625.7h1.2M78.0 622.1h1.2M80.0 620.8h1.2M71.5 625.0h1.2M80.3 624.7h1.2M79.0 622.3h1.2M73.6 617.3h1.2M79.3 618.2h1.2M76.0 622.2h1.2M75.0 622.7h1.2M76.6 625.3h1.2M72.5 614.3h1.2M74.0 623.4h1.2M81.0 624.6h1.2M94.6 627.7h1.2M102.2 629.8h1.2M96.3 622.5h1.2M98.4 614.5h1.2M97.1 628.1h1.2M103.2 623.1h1.2M95.1 617.3h1.2M98.0 623.5h1.2M101.9 629.4h1.2M95.3 628.7h1.2M99.9 629.6h1.2M96.3 626.7h1.2M95.0 629.5h1.2M101.1 627.4h1.2M102.5 624.6h1.2M99.7 624.4h1.2M99.7 629.2h1.2M105.7 627.4h1.2M100.1 625.5h1.2M105.8 619.9h1.2M94.7 622.8h1.2M95.8 628.9h1.2M94.7 629.6h1.2M103.0 626.5h1.2M96.7 628.0h1.2M104.3 629.4h1.2M99.8 629.6h1.2M100.9 626.2h1.2M95.7 623.9h1.2M96.6 616.8h1.2M94.9 628.0h1.2M101.1 628.3h1.2M105.4 625.8h1.2M98.4 618.8h1.2M100.1 627.5h1.2M98.4 627.9h1.2M96.9 623.1h1.2M102.1 616.0h1.2M105.9 621.7h1.2M99.1 625.7h1.2M103.3 623.1h1.2M96.8 626.2h1.2M102.1 621.8h1.2M99.0 629.4h1.2M104.4 623.7h1.2M95.3 627.6h1.2M104.3 621.6h1.2M102.6 624.8h1.2M98.0 627.3h1.2M95.5 629.1h1.2M103.8 619.7h1.2M100.6 624.4h1.2M103.6 625.2h1.2M96.8 629.4h1.2M105.7 628.9h1.2M102.5 625.5h1.2M103.7 627.6h1.2M98.9 620.1h1.2M98.2 620.7h1.2M98.5 624.5h1.2M98.0 623.6h1.2M97.8 629.1h1.2M99.9 626.8h1.2M105.1 624.9h1.2M99.5 623.2h1.2M103.5 625.6h1.2M99.1 623.4h1.2M102.9 626.9h1.2M98.3 623.1h1.2M96.2 628.9h1.2M102.6 629.8h1.2M100.9 618.0h1.2M98.4 629.8h1.2M95.4 628.3h1.2M104.2 623.8h1.2M103.7 618.0h1.2M102.8 628.1h1.2M98.3 627.7h1.2M94.5 620.4h1.2M98.0 623.7h1.2M96.9 625.8h1.2M105.5 628.5h1.2M96.7 625.9h1.2M104.5 623.2h1.2M101.1 625.5h1.2M104.6 618.8h1.2M100.8 625.9h1.2M96.1 628.9h1.2M100.6 628.2h1.2M95.5 628.4h1.2M99.2 627.9h1.2M105.0 628.1h1.2M104.9 627.7h1.2M104.8 623.0h1.2M94.5 625.9h1.2M95.2 628.9h1.2M121.5 623.6h1.2M121.3 624.1h1.2M118.3 615.9h1.2M117.5 626.3h1.2M120.2 615.2h1.2M117.2 619.3h1.2M118.0 619.6h1.2M120.7 625.9h1.2M125.2 623.5h1.2M123.6 619.8h1.2M120.5 625.5h1.2M122.1 628.1h1.2M117.6 618.2h1.2M123.8 623.7h1.2M119.5 624.7h1.2M117.4 618.9h1.2M121.9 626.5h1.2M123.7 625.2h1.2M119.4 626.0h1.2M121.1 627.0h1.2M122.3 615.9h1.2M121.7 627.0h1.2M119.0 627.4h1.2M126.0 623.3h1.2M126.5 617.0h1.2M117.2 626.4h1.2M126.1 614.0h1.2M119.0 627.9h1.2M125.1 626.5h1.2M118.3 626.6h1.2M125.2 627.5h1.2M120.6 625.2h1.2M120.8 627.9h1.2M119.3 619.3h1.2M124.0 627.7h1.2M119.1 618.6h1.2M121.2 620.7h1.2M120.6 625.1h1.2M126.9 626.9h1.2M123.5 622.4h1.2M123.7 613.0h1.2M119.2 628.2h1.2M117.3 627.9h1.2M123.8 627.9h1.2M120.4 621.9h1.2M122.0 628.3h1.2M125.6 613.0h1.2M123.9 621.3h1.2M117.9 616.3h1.2M121.1 624.6h1.2M126.8 613.0h1.2M119.1 619.4h1.2M122.6 627.0h1.2M117.2 628.4h1.2M122.1 626.4h1.2M124.3 627.3h1.2M124.1 623.3h1.2M125.2 619.0h1.2M119.4 620.3h1.2M121.4 627.4h1.2M120.4 615.2h1.2M118.6 627.3h1.2M125.7 615.9h1.2M124.7 625.7h1.2M122.4 624.4h1.2M123.6 627.8h1.2M126.2 626.8h1.2M124.7 626.5h1.2M124.9 628.5h1.2M126.1 622.2h1.2M121.9 624.5h1.2M117.9 627.3h1.2M118.8 618.2h1.2M141.8 625.9h1.2M142.2 625.8h1.2M143.7 622.3h1.2M138.1 617.6h1.2M142.1 628.4h1.2M137.7 624.8h1.2M141.7 624.2h1.2M138.9 622.7h1.2M136.9 625.4h1.2M142.2 627.6h1.2M145.3 627.5h1.2M145.5 627.6h1.2M141.8 617.8h1.2M141.9 624.6h1.2M138.3 625.9h1.2M141.1 625.6h1.2M143.2 618.0h1.2M145.5 613.8h1.2M142.4 626.4h1.2M137.4 625.6h1.2M136.9 617.6h1.2M144.7 626.4h1.2M145.1 625.0h1.2M144.8 621.5h1.2M144.0 623.9h1.2M142.9 619.3h1.2M141.9 627.0h1.2M136.7 627.6h1.2M143.8 624.3h1.2M142.9 622.6h1.2M144.1 618.2h1.2M137.1 627.8h1.2M138.8 627.4h1.2M141.4 620.2h1.2M137.3 621.6h1.2M137.9 625.0h1.2M138.0 620.7h1.2M144.7 622.8h1.2M145.4 626.1h1.2M145.2 615.2h1.2M144.4 621.2h1.2M143.2 625.3h1.2M137.9 627.2h1.2M145.2 627.0h1.2M137.4 615.9h1.2M142.4 616.0h1.2M141.2 625.4h1.2M143.9 627.9h1.2M137.1 614.9h1.2M160.4 626.0h1.2M159.6 625.8h1.2M161.0 616.7h1.2M158.6 619.3h1.2M158.9 621.2h1.2M159.4 615.6h1.2M156.9 617.9h1.2M157.0 623.4h1.2M159.7 624.2h1.2M158.9 626.3h1.2M157.0 615.5h1.2M161.9 626.2h1.2M155.6 619.8h1.2M162.1 626.4h1.2M156.5 624.0h1.2M156.4 622.7h1.2M157.6 626.7h1.2M159.9 625.9h1.2M156.1 614.1h1.2M161.5 622.4h1.2M157.1 625.1h1.2M158.2 621.4h1.2M162.6 620.1h1.2M162.3 620.7h1.2M155.4 624.4h1.2M155.9 617.1h1.2M161.7 613.9h1.2M158.3 619.9h1.2M161.4 623.4h1.2M159.9 625.8h1.2M155.3 618.8h1.2M157.8 623.6h1.2M157.2 627.1h1.2M156.6 625.0h1.2M159.9 622.0h1.2M158.9 622.2h1.2M162.4 618.4h1.2M161.4 619.1h1.2M158.1 620.2h1.2M158.9 613.1h1.2M158.6 621.2h1.2M158.2 626.2h1.2M156.0 615.7h1.2M155.7 623.2h1.2M159.3 614.9h1.2M159.1 625.0h1.2M157.0 626.7h1.2M156.1 623.9h1.2M154.8 623.8h1.2M159.9 625.8h1.2M156.6 620.5h1.2M156.8 619.5h1.2M156.2 622.6h1.2M160.1 625.5h1.2M154.7 619.6h1.2M156.1 616.5h1.2M155.8 626.6h1.2M158.0 619.9h1.2M176.5 626.5h1.2M176.7 620.2h1.2M174.0 623.8h1.2M178.0 622.4h1.2M177.7 621.8h1.2M175.4 622.1h1.2M176.4 627.9h1.2M177.0 621.4h1.2M177.6 619.0h1.2M178.0 622.9h1.2M176.2 623.7h1.2M177.6 619.3h1.2M176.7 620.5h1.2M176.9 627.7h1.2M174.8 627.3h1.2M176.8 624.4h1.2M176.7 625.5h1.2M174.2 624.9h1.2M174.1 627.9h1.2M176.5 625.7h1.2M175.4 626.3h1.2M175.1 617.8h1.2M175.6 627.5h1.2M173.3 617.9h1.2M178.6 627.1h1.2M177.1 624.7h1.2M175.6 627.6h1.2M178.2 626.4h1.2M176.5 617.7h1.2M178.1 626.3h1.2M177.8 625.1h1.2M173.8 624.1h1.2M174.6 617.5h1.2M173.5 627.7h1.2M174.6 624.6h1.2M174.0 628.4h1.2M176.1 628.5h1.2M178.4 626.3h1.2M174.8 615.2h1.2M178.1 628.5h1.2M175.2 628.5h1.2M176.0 628.2h1.2M175.9 625.0h1.2M177.9 618.2h1.2M175.0 625.3h1.2M178.6 624.2h1.2M175.1 626.8h1.2M173.1 626.4h1.2M176.7 624.1h1.2M189.4 619.6h1.2M192.5 623.9h1.2M190.4 622.7h1.2M189.8 625.1h1.2M189.4 624.3h1.2M188.5 614.2h1.2M191.3 616.4h1.2M187.4 621.3h1.2M190.8 624.7h1.2M190.3 618.1h1.2M188.7 627.4h1.2M190.2 619.4h1.2M192.2 624.0h1.2M188.0 616.5h1.2M188.1 625.8h1.2M189.1 622.9h1.2M191.4 626.1h1.2M187.9 623.4h1.2M188.8 626.6h1.2M187.7 618.5h1.2M188.9 616.8h1.2M188.8 618.2h1.2M189.1 624.1h1.2M189.7 626.3h1.2M189.6 622.9h1.2M190.4 620.1h1.2M188.4 623.8h1.2M187.7 625.8h1.2M189.1 623.2h1.2M189.8 620.6h1.2M188.0 626.7h1.2M188.3 623.2h1.2M192.0 624.6h1.2M189.0 622.0h1.2M190.8 620.8h1.2M187.3 624.2h1.2M200.1 628.7h1.2M202.8 625.4h1.2M199.1 624.2h1.2M199.4 626.3h1.2M202.4 620.6h1.2M202.6 628.6h1.2M199.0 628.7h1.2M198.9 620.2h1.2M201.8 613.9h1.2M199.9 622.8h1.2M199.2 629.4h1.2M201.7 623.6h1.2M199.8 622.0h1.2M201.4 628.0h1.2M203.2 628.4h1.2M203.1 628.4h1.2M200.5 621.0h1.2M202.7 622.1h1.2M203.2 618.7h1.2M201.2 615.9h1.2M201.0 620.0h1.2M199.1 628.6h1.2M203.3 628.6h1.2M203.4 616.5h1.2M199.5 627.4h1.2M200.1 624.4h1.2M202.9 622.1h1.2M199.2 627.1h1.2M201.4 625.2h1.2M198.6 629.4h1.2M200.9 614.0h1.2M203.4 625.8h1.2M200.9 628.3h1.2M198.7 621.6h1.2M201.5 627.9h1.2M202.8 629.3h1.2M200.4 624.7h1.2M202.1 624.9h1.2M201.2 626.9h1.2M202.2 621.7h1.2M200.2 628.7h1.2M202.4 626.6h1.2M199.5 623.3h1.2M199.5 616.4h1.2M211.7 627.6h1.2M211.5 613.1h1.2M211.1 620.3h1.2M210.4 619.0h1.2M209.6 628.3h1.2M209.1 626.1h1.2M211.3 626.8h1.2M211.4 615.0h1.2M208.8 627.9h1.2M211.9 618.0h1.2M211.8 626.6h1.2M211.2 626.7h1.2M208.7 616.0h1.2M209.2 622.2h1.2M211.5 626.0h1.2M209.7 623.4h1.2M209.9 623.5h1.2M209.8 623.4h1.2M209.7 624.1h1.2M210.4 627.3h1.2M212.3 617.6h1.2M210.2 626.4h1.2M209.0 628.4h1.2M209.3 618.4h1.2M211.6 628.5h1.2M218.2 620.4h1.2M219.4 620.1h1.2M219.4 625.7h1.2M219.1 624.6h1.2M217.7 624.1h1.2M217.3 625.5h1.2M218.9 627.1h1.2M217.6 617.0h1.2M217.8 616.3h1.2M217.8 622.5h1.2M218.8 621.6h1.2M218.5 626.2h1.2M217.6 615.8h1.2M217.7 627.3h1.2M218.1 624.2h1.2M81.9 604.0h1.2M81.9 607.0h1.2M81.9 610.0h1.2M50.7 605.0h1.2M50.7 608.0h1.2M50.7 611.0h1.2M50.7 614.0h1.2M105.5 609.0h1.2M70.9 610.0h1.2M190.6 588.8h1.2M210.6 590.8h1.2M210.2 605.2h1.2M161.1 603.3h1.2M190.0 606.0h1.2M190.0 608.0h1.2M190.0 610.0h1.2M45.8 616.1h1.2M45.4 618.2h1.2M45.8 618.7h1.2M45.3 619.6h1.2M45.4 620.2h1.2" stroke="#bababa" stroke-width="1.2" fill="none"/>
<path d="M53.9 627.0h1.2M63.4 621.9h1.2M68.5 629.3h1.2M66.2 620.9h1.2M54.0 622.0h1.2M57.3 627.8h1.2M63.6 629.7h1.2M59.3 624.1h1.2M57.3 620.9h1.2M55.4 627.7h1.2M66.9 628.1h1.2M65.1 625.5h1.2M64.0 616.7h1.2M68.7 627.0h1.2M60.1 629.3h1.2M64.3 615.8h1.2M66.6 627.0h1.2M64.9 620.7h1.2M64.3 627.9h1.2M66.8 622.9h1.2M68.2 625.2h1.2M56.9 621.6h1.2M56.7 624.3h1.2M58.7 623.6h1.2M66.0 627.2h1.2M59.5 618.1h1.2M57.3 624.1h1.2M60.5 626.8h1.2M61.6 621.8h1.2M63.8 628.7h1.2M61.8 625.2h1.2M67.2 626.0h1.2M64.0 623.0h1.2M59.9 625.4h1.2M64.2 626.3h1.2M54.7 626.1h1.2M54.5 628.3h1.2M59.2 629.6h1.2M60.8 626.8h1.2M57.3 628.4h1.2M58.2 626.0h1.2M61.3 627.9h1.2M54.6 620.5h1.2M60.6 629.8h1.2M63.5 615.3h1.2M68.8 626.9h1.2M66.5 622.5h1.2M54.2 617.9h1.2M66.0 628.5h1.2M67.7 626.7h1.2M68.3 629.4h1.2M60.1 623.6h1.2M62.0 618.4h1.2M56.5 625.9h1.2M55.9 619.9h1.2M55.0 627.6h1.2M58.3 629.8h1.2M61.0 629.6h1.2M53.9 627.1h1.2M58.1 625.8h1.2M62.1 628.2h1.2M54.5 627.2h1.2M63.9 628.1h1.2M57.5 624.2h1.2M57.8 624.9h1.2M60.7 627.8h1.2M57.2 629.6h1.2M58.8 620.3h1.2M66.9 627.3h1.2M67.6 627.3h1.2M67.3 626.0h1.2M59.8 628.9h1.2M65.8 627.1h1.2M55.7 616.8h1.2M56.3 626.4h1.2M55.7 629.4h1.2M58.3 629.4h1.2M67.8 626.2h1.2M65.5 623.0h1.2M58.7 627.3h1.2M57.3 626.4h1.2M57.9 629.7h1.2M61.5 629.5h1.2M65.5 628.2h1.2M61.6 629.6h1.2M60.9 621.5h1.2M67.5 628.9h1.2M68.1 629.8h1.2M67.4 618.8h1.2M59.4 616.8h1.2M61.0 623.5h1.2M59.6 624.2h1.2M58.4 617.3h1.2M54.7 624.5h1.2M67.5 629.5h1.2M59.5 627.0h1.2M56.1 621.5h1.2M61.2 624.8h1.2M57.9 623.8h1.2M68.4 627.8h1.2M62.2 624.0h1.2M65.4 622.2h1.2M65.9 628.6h1.2M56.0 625.6h1.2M69.1 627.4h1.2M67.7 617.8h1.2M63.6 625.4h1.2M65.1 626.6h1.2M59.2 624.9h1.2M92.3 626.4h1.2M90.1 622.3h1.2M86.4 624.0h1.2M91.6 622.0h1.2M87.6 625.8h1.2M91.2 623.9h1.2M93.9 614.3h1.2M89.4 620.5h1.2M82.7 626.9h1.2M89.6 627.5h1.2M82.5 622.1h1.2M90.5 613.7h1.2M85.0 620.1h1.2M88.8 625.3h1.2M88.6 625.0h1.2M89.4 620.8h1.2M94.2 625.1h1.2M88.9 625.8h1.2M82.4 624.6h1.2M90.0 624.9h1.2M86.9 614.4h1.2M89.8 626.6h1.2M88.3 627.4h1.2M90.6 626.9h1.2M91.5 618.4h1.2M91.7 625.0h1.2M84.9 623.0h1.2M84.7 619.7h1.2M82.1 616.6h1.2M87.5 620.1h1.2M87.8 627.3h1.2M82.3 621.8h1.2M91.4 626.6h1.2M92.6 625.7h1.2M90.1 624.4h1.2M82.2 624.7h1.2M85.6 620.5h1.2M90.6 622.4h1.2M84.3 622.5h1.2M92.2 626.5h1.2M89.6 625.0h1.2M88.2 626.6h1.2M90.0 617.7h1.2M91.7 622.2h1.2M84.7 624.7h1.2M85.9 625.2h1.2M83.5 623.9h1.2M89.9 615.7h1.2M90.1 619.8h1.2M87.5 618.2h1.2M84.7 625.7h1.2M93.9 626.9h1.2M89.8 620.3h1.2M87.3 621.6h1.2M82.5 622.9h1.2M87.2 620.1h1.2M93.6 627.1h1.2M82.2 623.0h1.2M85.9 625.9h1.2M82.0 623.2h1.2M90.1 624.3h1.2M86.2 620.6h1.2M83.8 619.4h1.2M82.2 627.4h1.2M92.1 626.5h1.2M93.1 625.2h1.2M91.8 619.2h1.2M90.3 620.9h1.2M90.1 616.8h1.2M90.4 624.1h1.2M91.7 627.1h1.2M93.6 627.3h1.2M93.5 620.4h1.2M86.9 621.1h1.2M87.5 623.1h1.2M92.2 627.0h1.2M84.7 626.5h1.2M90.5 625.1h1.2M85.8 624.3h1.2M85.8 622.0h1.2M91.8 626.4h1.2M90.5 623.8h1.2M110.0 629.1h1.2M115.0 628.5h1.2M113.3 627.6h1.2M111.0 621.2h1.2M110.0 615.8h1.2M116.3 625.6h1.2M113.5 628.2h1.2M108.6 629.4h1.2M116.1 625.3h1.2M114.6 616.3h1.2M112.3 628.7h1.2M106.9 627.5h1.2M114.9 620.9h1.2M112.3 625.9h1.2M109.6 626.9h1.2M114.1 629.1h1.2M109.1 621.3h1.2M116.8 627.4h1.2M111.5 628.0h1.2M116.1 629.1h1.2M111.8 620.4h1.2M107.6 626.6h1.2M113.1 628.5h1.2M109.9 625.6h1.2M108.2 624.6h1.2M112.6 618.2h1.2M109.8 628.7h1.2M111.4 628.8h1.2M108.2 625.8h1.2M110.0 621.7h1.2M113.0 623.4h1.2M111.6 629.0h1.2M109.2 623.8h1.2M113.1 626.5h1.2M115.8 622.9h1.2M109.9 628.2h1.2M106.9 616.2h1.2M106.6 629.1h1.2M107.7 627.5h1.2M111.3 626.6h1.2M112.3 627.8h1.2M109.4 621.8h1.2M116.7 628.6h1.2M106.8 625.9h1.2M113.9 628.9h1.2M116.2 625.9h1.2M106.8 620.7h1.2M116.5 620.5h1.2M112.8 617.3h1.2M114.7 613.1h1.2M109.1 626.1h1.2M106.9 629.5h1.2M106.8 626.3h1.2M110.9 628.7h1.2M116.5 627.7h1.2M112.0 628.3h1.2M110.4 624.9h1.2M116.4 619.5h1.2M106.6 617.9h1.2M110.5 626.8h1.2M113.5 613.8h1.2M113.8 626.6h1.2M116.6 629.0h1.2M106.0 628.9h1.2M115.4 629.3h1.2M115.5 627.2h1.2M106.5 623.4h1.2M116.3 628.5h1.2M111.9 615.3h1.2M106.8 629.1h1.2M108.1 627.9h1.2M108.2 620.6h1.2M106.9 625.9h1.2M109.6 617.6h1.2M113.9 629.5h1.2M111.4 622.1h1.2M109.5 620.4h1.2M114.8 618.9h1.2M114.2 625.5h1.2M111.9 627.3h1.2M106.5 623.3h1.2M114.8 623.7h1.2M112.4 626.2h1.2M116.7 628.9h1.2M113.0 629.3h1.2M128.7 623.0h1.2M132.3 626.7h1.2M130.8 619.7h1.2M130.3 624.2h1.2M132.9 626.0h1.2M136.0 622.6h1.2M133.0 620.4h1.2M128.5 625.8h1.2M128.2 623.1h1.2M131.0 627.1h1.2M134.6 627.0h1.2M132.9 617.3h1.2M134.0 625.8h1.2M130.8 622.8h1.2M133.5 622.9h1.2M128.4 620.7h1.2M135.8 624.8h1.2M130.7 620.1h1.2M132.0 626.2h1.2M128.2 619.8h1.2M129.6 613.1h1.2M130.7 613.1h1.2M129.3 619.1h1.2M132.9 624.7h1.2M133.0 623.5h1.2M128.4 613.8h1.2M129.6 624.0h1.2M129.5 622.4h1.2M128.3 614.9h1.2M134.4 622.3h1.2M130.7 620.9h1.2M136.3 619.1h1.2M131.2 624.2h1.2M134.5 621.9h1.2M135.0 620.8h1.2M132.0 615.5h1.2M129.0 622.9h1.2M127.6 624.4h1.2M130.5 624.2h1.2M130.2 617.1h1.2M131.0 621.4h1.2M128.8 620.4h1.2M128.1 627.0h1.2M135.4 625.2h1.2M135.2 621.9h1.2M136.3 613.0h1.2M131.2 625.8h1.2M134.4 625.6h1.2M134.5 627.0h1.2M131.9 626.9h1.2M133.6 626.5h1.2M132.0 622.9h1.2M127.7 626.8h1.2M129.8 626.2h1.2M130.0 625.1h1.2M136.4 622.0h1.2M132.0 622.1h1.2M134.3 623.2h1.2M134.9 619.2h1.2M134.7 624.0h1.2M129.5 627.0h1.2M130.4 620.8h1.2M134.3 626.8h1.2M134.5 623.4h1.2M130.9 620.3h1.2M130.3 613.3h1.2M136.4 619.4h1.2M129.7 617.0h1.2M135.0 624.5h1.2M149.2 625.8h1.2M148.8 614.8h1.2M146.2 626.7h1.2M145.9 617.6h1.2M153.7 624.2h1.2M153.8 625.1h1.2M147.2 619.5h1.2M152.9 625.4h1.2M147.5 625.1h1.2M149.6 623.8h1.2M146.7 626.3h1.2M150.4 626.3h1.2M153.8 626.3h1.2M149.3 622.3h1.2M152.7 614.3h1.2M153.7 622.0h1.2M146.4 621.1h1.2M148.1 624.2h1.2M150.7 620.5h1.2M150.2 623.0h1.2M149.4 623.1h1.2M147.7 623.4h1.2M153.6 620.1h1.2M149.5 626.6h1.2M151.1 622.6h1.2M149.0 620.6h1.2M149.8 626.3h1.2M147.2 621.2h1.2M146.0 625.5h1.2M149.0 624.7h1.2M148.5 624.8h1.2M150.6 616.8h1.2M152.8 623.9h1.2M151.4 619.2h1.2M151.7 613.0h1.2M153.5 620.2h1.2M151.1 625.9h1.2M154.2 624.3h1.2M151.7 617.8h1.2M149.3 619.5h1.2M145.9 623.3h1.2M151.6 620.8h1.2M145.9 623.5h1.2M151.9 626.4h1.2M149.0 624.4h1.2M149.1 615.8h1.2M146.9 624.2h1.2M153.8 623.5h1.2M146.4 626.9h1.2M148.6 626.1h1.2M152.8 624.6h1.2M153.8 622.1h1.2M152.1 623.4h1.2M151.3 618.7h1.2M148.9 622.8h1.2M152.4 625.8h1.2M163.8 625.4h1.2M163.5 628.6h1.2M169.1 623.2h1.2M170.0 626.1h1.2M164.2 613.7h1.2M164.8 613.5h1.2M170.9 625.2h1.2M164.7 616.9h1.2M164.0 624.5h1.2M165.7 624.8h1.2M171.0 620.6h1.2M169.8 623.4h1.2M163.9 627.8h1.2M166.0 626.5h1.2M163.1 614.5h1.2M167.0 615.6h1.2M169.6 615.4h1.2M164.8 624.7h1.2M166.9 626.5h1.2M168.7 619.7h1.2M166.6 622.7h1.2M166.1 627.9h1.2M165.0 625.2h1.2M168.5 622.9h1.2M163.7 622.8h1.2M170.3 628.5h1.2M171.4 624.6h1.2M169.4 622.3h1.2M164.2 628.5h1.2M164.8 621.5h1.2M164.5 620.6h1.2M165.3 628.6h1.2M166.1 625.6h1.2M163.6 628.1h1.2M164.7 618.7h1.2M167.1 618.4h1.2M169.6 613.3h1.2M164.6 623.0h1.2M168.1 625.3h1.2M163.3 628.2h1.2M167.6 627.8h1.2M163.7 626.7h1.2M169.9 622.1h1.2M168.3 622.0h1.2M169.5 621.6h1.2M164.1 618.4h1.2M164.0 627.1h1.2M167.2 623.9h1.2M165.7 621.3h1.2M170.8 621.8h1.2M166.0 626.0h1.2M163.4 628.6h1.2M169.6 628.2h1.2M163.8 628.7h1.2M168.7 626.4h1.2M164.5 626.0h1.2M165.2 627.5h1.2M168.4 620.3h1.2M168.4 626.9h1.2M168.8 622.2h1.2M164.3 623.3h1.2M167.2 613.7h1.2M167.1 619.3h1.2M164.0 625.7h1.2M167.7 617.9h1.2M164.4 626.0h1.2M182.3 622.1h1.2M183.5 618.9h1.2M180.5 617.8h1.2M181.4 621.7h1.2M182.3 619.2h1.2M182.2 613.6h1.2M184.6 625.3h1.2M183.6 626.8h1.2M185.8 623.9h1.2M181.4 618.0h1.2M184.6 619.5h1.2M180.3 622.9h1.2M185.3 623.9h1.2M182.8 625.2h1.2M183.2 626.1h1.2M184.4 621.0h1.2M180.6 625.2h1.2M182.1 626.7h1.2M184.2 621.9h1.2M182.4 616.1h1.2M184.3 620.6h1.2M181.6 614.7h1.2M185.2 626.8h1.2M184.1 619.1h1.2M182.1 625.5h1.2M185.6 625.0h1.2M180.9 626.5h1.2M181.5 625.3h1.2M180.3 626.3h1.2M183.0 626.7h1.2M181.2 618.1h1.2M182.3 626.8h1.2M180.7 615.4h1.2M185.9 623.4h1.2M185.4 620.6h1.2M182.7 627.0h1.2M185.8 625.6h1.2M180.9 626.5h1.2M184.7 624.4h1.2M195.8 613.3h1.2M197.7 623.6h1.2M197.2 629.8h1.2M194.1 628.6h1.2M194.7 629.3h1.2M193.0 628.3h1.2M196.0 629.2h1.2M197.8 622.8h1.2M194.0 624.7h1.2M192.7 629.3h1.2M196.2 628.2h1.2M197.9 617.4h1.2M196.7 629.5h1.2M196.9 621.6h1.2M197.5 624.7h1.2M198.1 628.0h1.2M193.5 621.0h1.2M197.5 621.7h1.2M198.2 628.5h1.2M196.8 628.5h1.2M195.6 627.8h1.2M197.4 627.5h1.2M196.2 624.2h1.2M192.8 629.6h1.2M198.1 626.4h1.2M193.5 621.2h1.2M197.0 620.4h1.2M197.9 625.3h1.2M197.1 616.2h1.2M193.3 621.4h1.2M197.9 627.8h1.2M193.1 621.8h1.2M195.9 624.4h1.2M198.3 628.6h1.2M196.6 627.3h1.2M195.7 628.0h1.2M197.6 628.9h1.2M197.1 628.6h1.2M194.8 625.8h1.2M192.9 628.0h1.2M192.6 626.8h1.2M192.7 625.5h1.2M204.4 622.3h1.2M207.5 624.3h1.2M204.9 618.1h1.2M207.0 624.6h1.2M207.7 616.3h1.2M208.0 626.1h1.2M203.7 616.1h1.2M207.3 627.0h1.2M204.7 621.7h1.2M205.4 625.6h1.2M207.6 617.8h1.2M206.4 618.7h1.2M205.0 625.4h1.2M204.9 619.3h1.2M206.0 621.6h1.2M204.2 618.4h1.2M204.3 620.0h1.2M206.4 621.0h1.2M206.3 626.7h1.2M207.6 626.7h1.2M206.2 621.5h1.2M203.8 626.5h1.2M205.4 617.7h1.2M207.6 618.9h1.2M205.9 621.5h1.2M205.2 627.9h1.2M207.8 627.3h1.2M207.0 626.3h1.2M203.8 628.0h1.2M208.0 615.9h1.2M207.3 620.2h1.2M205.7 613.2h1.2M207.1 618.5h1.2M208.0 627.9h1.2M205.1 623.3h1.2M208.2 619.8h1.2M208.3 623.6h1.2M213.6 616.3h1.2M215.4 624.1h1.2M212.9 624.3h1.2M215.2 629.2h1.2M212.4 621.8h1.2M214.4 619.7h1.2M213.9 624.0h1.2M215.0 620.9h1.2M213.4 629.1h1.2M216.3 626.2h1.2M214.6 620.5h1.2M213.4 624.3h1.2M213.6 628.8h1.2M215.7 628.3h1.2M215.0 618.5h1.2M216.4 629.2h1.2M214.5 627.0h1.2M214.8 627.2h1.2M214.6 621.9h1.2M216.3 620.6h1.2M214.9 628.3h1.2M215.0 627.8h1.2M212.7 625.1h1.2M214.9 628.6h1.2M213.1 614.8h1.2M214.9 627.4h1.2M220.8 628.0h1.2M221.4 620.0h1.2M222.0 627.0h1.2M220.7 628.6h1.2M221.0 629.0h1.2M222.4 625.3h1.2M221.9 617.3h1.2M222.4 616.1h1.2M222.0 622.9h1.2M220.7 624.5h1.2M221.2 626.5h1.2M222.8 625.5h1.2M221.9 625.8h1.2M221.4 623.2h1.2M222.7 627.4h1.2M221.5 628.6h1.2M222.6 615.2h1.2M220.9 628.2h1.2M220.8 627.1h1.2M110.9 595.6h1.2M110.9 598.5h1.2M111.9 605.8h1.2M129.6 597.5h1.2M180.9 601.3h1.2M183.6 603.3h1.2M195.7 601.3h1.2M195.7 603.3h1.2M214.0 601.3h1.2M207.3 605.2h1.2M135.2 603.3h1.2M152.1 607.0h1.2M152.1 610.0h1.2M152.1 613.0h1.2M152.1 616.0h1.2M83.3 618.4h1.2M83.6 615.3h1.2M83.3 621.8h1.2M83.4 613.8h1.2M83.6 620.6h1.2" stroke="#86ccee" stroke-width="1.2" fill="none"/>
<path d="M32.8 485.5V647.5M29.6 647.50H32.8M29.6 620.50H32.8M29.6 593.50H32.8M29.6 566.50H32.8M29.6 539.50H32.8M29.6 512.50H32.8M29.6 485.50H32.8" stroke="#8a8a8a" stroke-width="1.05" fill="none"/>
<text x="24.30" y="649.52" font-size="5.6" text-anchor="middle" transform="rotate(0.03 24.30 649.52)" style="stroke-opacity:.7;stroke-width:.3px">0</text>
<text x="24.30" y="622.52" font-size="5.6" text-anchor="middle" transform="rotate(0.03 24.30 622.52)" style="stroke-opacity:.7;stroke-width:.3px">2</text>
<text x="24.30" y="595.52" font-size="5.6" text-anchor="middle" transform="rotate(0.03 24.30 595.52)" style="stroke-opacity:.7;stroke-width:.3px">4</text>
<text x="24.30" y="568.52" font-size="5.6" text-anchor="middle" transform="rotate(0.03 24.30 568.52)" style="stroke-opacity:.7;stroke-width:.3px">6</text>
<text x="24.30" y="541.52" font-size="5.6" text-anchor="middle" transform="rotate(0.03 24.30 541.52)" style="stroke-opacity:.7;stroke-width:.3px">8</text>
<text x="24.30" y="514.52" font-size="5.6" text-anchor="middle" transform="rotate(0.03 24.30 514.52)" style="stroke-opacity:.7;stroke-width:.3px">10</text>
<text x="24.30" y="487.52" font-size="5.6" text-anchor="middle" transform="rotate(0.03 24.30 487.52)" style="stroke-opacity:.7;stroke-width:.3px">12</text>
<text x="18.60" y="566.60" font-size="6.9" text-anchor="middle" transform="rotate(-89.97 18.60 566.60)">−log10 p−value</text>
<path d="M32.8 571.3H228" stroke="#cf6f72" stroke-width="0.8"/>
<path d="M32.8 580.0H228" stroke="#8790cf" stroke-width="0.8"/>
<circle cx="190.8" cy="475.5" r="0.8" fill="#2fa85a"/><circle cx="190.8" cy="485.3" r="0.8" fill="#2fa85a"/>
<text x="193.10" y="477.38" font-size="6.6" fill="#111" transform="rotate(0.03 193.10 477.38)" textLength="30.20" lengthAdjust="spacingAndGlyphs">LOC646938</text>
<text x="193.10" y="487.08" font-size="6.6" fill="#111" transform="rotate(0.03 193.10 487.08)" textLength="23.03" lengthAdjust="spacingAndGlyphs">CHRNA5</text>
<text x="193.10" y="493.78" font-size="6.6" fill="#111" transform="rotate(0.03 193.10 493.78)" textLength="18.98" lengthAdjust="spacingAndGlyphs">PSMA4</text>
<text x="193.10" y="500.58" font-size="6.6" fill="#111" transform="rotate(0.03 193.10 500.58)" textLength="23.03" lengthAdjust="spacingAndGlyphs">CHRNA3</text>
<text x="193.10" y="507.58" font-size="6.6" fill="#111" transform="rotate(0.03 193.10 507.58)" textLength="23.03" lengthAdjust="spacingAndGlyphs">CHRNB4</text>
<text x="46.21" y="659.34" font-size="5.4" text-anchor="middle" transform="rotate(0.03 46.21 659.34)" style="stroke-opacity:.7;stroke-width:.3px">1</text>
<text x="62.04" y="659.34" font-size="5.4" text-anchor="middle" transform="rotate(0.03 62.04 659.34)" style="stroke-opacity:.7;stroke-width:.3px">2</text>
<text x="76.22" y="659.34" font-size="5.4" text-anchor="middle" transform="rotate(0.03 76.22 659.34)" style="stroke-opacity:.7;stroke-width:.3px">3</text>
<text x="88.73" y="659.34" font-size="5.4" text-anchor="middle" transform="rotate(0.03 88.73 659.34)" style="stroke-opacity:.7;stroke-width:.3px">4</text>
<text x="100.69" y="659.34" font-size="5.4" text-anchor="middle" transform="rotate(0.03 100.69 659.34)" style="stroke-opacity:.7;stroke-width:.3px">5</text>
<text x="112.00" y="659.34" font-size="5.4" text-anchor="middle" transform="rotate(0.03 112.00 659.34)" style="stroke-opacity:.7;stroke-width:.3px">6</text>
<text x="122.62" y="659.34" font-size="5.4" text-anchor="middle" transform="rotate(0.03 122.62 659.34)" style="stroke-opacity:.7;stroke-width:.3px">7</text>
<text x="132.44" y="659.34" font-size="5.4" text-anchor="middle" transform="rotate(0.03 132.44 659.34)" style="stroke-opacity:.7;stroke-width:.3px">8</text>
<text x="141.68" y="659.34" font-size="5.4" text-anchor="middle" transform="rotate(0.03 141.68 659.34)" style="stroke-opacity:.7;stroke-width:.3px">9</text>
<text x="159.27" y="659.34" font-size="5.4" text-anchor="middle" transform="rotate(0.03 159.27 659.34)" style="stroke-opacity:.7;stroke-width:.3px">11</text>
<text x="175.92" y="659.34" font-size="5.4" text-anchor="middle" transform="rotate(0.03 175.92 659.34)" style="stroke-opacity:.7;stroke-width:.3px">13</text>
<text x="189.82" y="659.34" font-size="5.4" text-anchor="middle" transform="rotate(0.03 189.82 659.34)" style="stroke-opacity:.7;stroke-width:.3px">15</text>
<text x="206.65" y="659.34" font-size="5.4" text-anchor="middle" transform="rotate(0.03 206.65 659.34)" style="stroke-opacity:.7;stroke-width:.3px">18</text>
<text x="218.56" y="659.34" font-size="5.4" text-anchor="middle" transform="rotate(0.03 218.56 659.34)" style="stroke-opacity:.7;stroke-width:.3px">21</text>
<path d="M46.21 648.00v2.3M62.04 648.00v2.3M76.22 648.00v2.3M88.73 648.00v2.3M100.69 648.00v2.3M112.00 648.00v2.3M122.62 648.00v2.3M132.44 648.00v2.3M141.68 648.00v2.3M150.58 648.00v2.3M159.27 648.00v2.3M167.91 648.00v2.3M175.92 648.00v2.3M183.07 648.00v2.3M189.82 648.00v2.3M196.02 648.00v2.3M201.53 648.00v2.3M206.65 648.00v2.3M211.06 648.00v2.3M214.98 648.00v2.3M218.56 648.00v2.3M221.75 648.00v2.3" stroke="#444" stroke-width="0.7"/>
<text x="130.80" y="665.33" font-size="5.65" text-anchor="middle" fill="#222" transform="rotate(0.03 130.80 665.33)">Chromosome</text>
<text x="248.00" y="294.20" font-size="13.4" transform="rotate(0.03 248.00 294.20)">D</text>
<text x="372.90" y="289.50" font-size="8.5" transform="rotate(0.03 372.90 289.50)">AD_GWAS</text>
<rect x="289.9" y="292.1" width="227.2" height="170.09999999999997" fill="none" stroke="#a8a8a8" stroke-width="0.9"/>
<text x="285.50" y="458.78" font-size="6.6" text-anchor="end" transform="rotate(0.03 285.50 458.78)" style="stroke-opacity:.6;stroke-width:.3px">0.0</text>
<text x="285.50" y="436.18" font-size="6.6" text-anchor="end" transform="rotate(0.03 285.50 436.18)" style="stroke-opacity:.6;stroke-width:.3px">0.5</text>
<text x="285.50" y="413.58" font-size="6.6" text-anchor="end" transform="rotate(0.03 285.50 413.58)" style="stroke-opacity:.6;stroke-width:.3px">1.0</text>
<text x="285.50" y="390.98" font-size="6.6" text-anchor="end" transform="rotate(0.03 285.50 390.98)" style="stroke-opacity:.6;stroke-width:.3px">1.5</text>
<text x="285.50" y="368.38" font-size="6.6" text-anchor="end" transform="rotate(0.03 285.50 368.38)" style="stroke-opacity:.6;stroke-width:.3px">2.0</text>
<text x="285.50" y="345.78" font-size="6.6" text-anchor="end" transform="rotate(0.03 285.50 345.78)" style="stroke-opacity:.6;stroke-width:.3px">2.5</text>
<text x="285.50" y="323.18" font-size="6.6" text-anchor="end" transform="rotate(0.03 285.50 323.18)" style="stroke-opacity:.6;stroke-width:.3px">3.0</text>
<text x="285.50" y="300.58" font-size="6.6" text-anchor="end" transform="rotate(0.03 285.50 300.58)" style="stroke-opacity:.6;stroke-width:.3px">3.5</text>
<path d="M286.2 456.40H289.8M286.2 433.80H289.8M286.2 411.20H289.8M286.2 388.60H289.8M286.2 366.00H289.8M286.2 343.40H289.8M286.2 320.80H289.8M286.2 298.20H289.8" stroke="#777" stroke-width="0.7"/>
<text x="263.90" y="372.30" font-size="6.9" text-anchor="middle" transform="rotate(-89.97 263.90 372.30)">−log10 p−value</text>
<path d="M290.5 397.64H516.3" stroke="#b5cc66" stroke-width="0.9" stroke-dasharray="0.9 1.4"/>
<path d="M450.1 447.6h0.01M491.5 452.1h0.01M487.4 450.8h0.01M393.0 390.4h0.01M430.9 455.3h0.01M320.2 454.5h0.01M347.7 442.3h0.01M415.4 445.0h0.01M341.6 375.6h0.01M486.1 432.6h0.01M329.8 451.4h0.01M325.5 452.2h0.01M323.0 447.4h0.01M476.8 391.5h0.01M499.8 427.8h0.01M356.6 453.9h0.01M408.2 455.7h0.01M339.1 449.1h0.01M439.5 455.3h0.01M481.4 455.8h0.01M371.4 433.9h0.01M326.9 422.9h0.01M359.1 405.5h0.01M297.5 447.0h0.01M366.6 449.2h0.01M465.9 434.6h0.01M362.0 442.7h0.01M442.4 442.8h0.01M498.3 403.0h0.01M451.7 385.9h0.01M300.5 453.3h0.01M372.5 452.0h0.01M298.7 446.2h0.01M334.2 399.3h0.01M337.4 455.5h0.01M488.9 451.2h0.01M367.9 455.3h0.01M405.2 437.1h0.01M319.1 451.7h0.01M461.5 451.0h0.01M304.4 453.6h0.01M315.6 455.4h0.01M423.0 436.3h0.01M367.0 454.8h0.01M409.4 454.9h0.01M362.3 434.7h0.01M313.0 424.2h0.01M439.2 420.9h0.01M330.2 456.3h0.01M500.7 400.0h0.01M380.7 444.7h0.01M419.5 429.6h0.01M390.9 452.8h0.01M308.3 440.3h0.01M303.6 454.8h0.01M470.0 443.2h0.01M448.0 418.4h0.01M427.0 455.4h0.01M318.8 452.0h0.01M327.6 440.9h0.01M357.7 453.3h0.01M503.3 441.6h0.01M498.4 453.4h0.01M397.7 441.7h0.01M395.8 450.5h0.01M380.2 433.4h0.01M374.7 420.6h0.01M495.1 456.2h0.01M400.0 447.7h0.01M315.2 436.2h0.01M458.4 432.1h0.01M371.4 453.7h0.01M456.9 451.9h0.01M434.0 449.6h0.01M371.9 451.3h0.01M354.8 449.9h0.01M455.8 442.9h0.01M357.5 449.5h0.01M431.0 455.4h0.01M299.2 446.3h0.01M348.6 445.1h0.01M392.4 449.0h0.01M430.6 452.6h0.01M368.7 452.2h0.01M449.2 448.2h0.01M369.1 452.9h0.01M476.5 453.2h0.01M498.5 449.4h0.01M403.8 455.6h0.01M331.1 444.5h0.01M490.5 453.1h0.01M439.6 442.6h0.01M447.7 450.3h0.01M458.0 423.6h0.01M434.3 446.3h0.01M425.7 440.3h0.01M428.4 451.6h0.01M302.5 450.3h0.01M387.9 422.2h0.01M342.1 448.4h0.01M427.1 449.4h0.01M394.2 397.2h0.01M308.0 428.7h0.01M362.4 418.9h0.01M336.7 424.6h0.01M392.9 394.2h0.01M423.2 438.4h0.01M345.9 446.6h0.01M296.9 454.5h0.01M354.3 439.6h0.01M320.6 439.8h0.01M374.0 453.0h0.01M423.6 394.4h0.01M409.4 412.5h0.01M416.8 436.2h0.01M465.9 455.6h0.01M464.8 440.2h0.01M373.1 448.1h0.01M419.9 420.0h0.01M494.6 445.7h0.01M422.5 455.8h0.01M481.4 436.9h0.01M319.1 381.0h0.01M325.9 447.3h0.01M480.9 447.8h0.01M386.0 438.2h0.01M357.0 428.7h0.01M375.3 455.9h0.01M485.6 455.7h0.01M350.5 446.7h0.01M399.3 456.0h0.01M362.7 440.0h0.01M398.4 456.1h0.01M395.3 433.1h0.01M425.2 417.2h0.01M357.4 441.2h0.01M467.6 451.8h0.01M406.8 375.7h0.01M490.0 432.2h0.01M347.6 451.8h0.01M328.8 431.8h0.01M357.4 456.2h0.01M394.9 447.1h0.01M421.6 448.2h0.01M321.2 450.9h0.01M358.9 451.3h0.01M366.2 444.7h0.01M406.3 433.7h0.01M371.4 442.1h0.01M418.9 450.9h0.01M349.0 394.6h0.01M486.2 441.7h0.01M409.5 454.2h0.01M457.6 377.5h0.01M415.7 440.6h0.01M427.4 450.0h0.01M485.2 442.8h0.01M377.8 438.6h0.01M337.4 453.4h0.01M468.3 433.7h0.01M469.6 405.7h0.01M386.2 449.6h0.01M458.1 433.1h0.01M326.3 454.7h0.01M410.2 442.7h0.01M365.1 443.4h0.01M417.8 421.5h0.01M310.9 452.5h0.01M466.1 429.0h0.01M433.9 452.0h0.01M446.1 388.0h0.01M503.1 456.0h0.01M306.9 449.8h0.01M342.1 453.2h0.01M493.5 448.2h0.01M324.6 450.1h0.01M486.5 433.5h0.01M423.0 421.0h0.01M330.1 440.0h0.01M305.8 447.6h0.01M375.1 414.9h0.01M308.7 407.3h0.01M450.2 446.1h0.01M324.6 454.0h0.01M361.8 440.7h0.01M397.9 446.9h0.01M374.1 455.2h0.01M440.9 402.6h0.01M427.2 421.2h0.01M484.9 443.7h0.01M425.1 445.4h0.01M410.8 431.5h0.01M451.9 430.9h0.01M324.4 444.1h0.01M373.5 429.3h0.01M333.8 450.7h0.01M432.1 450.1h0.01M434.8 410.5h0.01M322.6 411.7h0.01M346.1 446.7h0.01M396.1 454.0h0.01M461.3 435.3h0.01M446.6 390.7h0.01M328.0 401.9h0.01M437.5 455.5h0.01M320.8 428.4h0.01M434.2 455.9h0.01M325.7 452.7h0.01M370.0 447.6h0.01M365.7 429.4h0.01M368.8 447.3h0.01M325.0 438.6h0.01M430.7 452.9h0.01M386.3 452.3h0.01M403.7 453.4h0.01M415.2 446.6h0.01M378.5 450.8h0.01M303.7 412.9h0.01M305.0 426.6h0.01M396.2 454.2h0.01M296.9 451.3h0.01M480.6 442.3h0.01M385.4 447.5h0.01M317.4 442.1h0.01M329.7 421.6h0.01M376.5 438.1h0.01M328.2 454.0h0.01M354.1 430.8h0.01M356.1 422.4h0.01M396.4 429.4h0.01M487.8 392.3h0.01M490.6 437.8h0.01M436.0 449.4h0.01M492.1 442.4h0.01M434.9 416.5h0.01M436.1 433.4h0.01M330.5 450.5h0.01M302.0 426.5h0.01M313.0 429.0h0.01M497.9 439.4h0.01M361.2 437.6h0.01M355.3 442.2h0.01M445.1 450.6h0.01M346.5 422.6h0.01M491.1 449.0h0.01M385.8 448.2h0.01M298.1 455.9h0.01M457.8 404.2h0.01M306.1 439.8h0.01M501.3 445.2h0.01M369.1 444.2h0.01M311.5 412.3h0.01M398.3 454.4h0.01M307.9 455.2h0.01M307.2 430.1h0.01M309.2 439.2h0.01M381.0 430.9h0.01M307.4 434.3h0.01M497.5 395.2h0.01M401.9 424.4h0.01M406.6 439.4h0.01M361.6 410.3h0.01M408.8 414.9h0.01M420.4 454.9h0.01M341.1 453.5h0.01M408.3 380.9h0.01M414.9 443.0h0.01M425.9 438.2h0.01M485.4 450.4h0.01M389.6 434.4h0.01M343.1 452.8h0.01M361.2 416.2h0.01M456.4 411.0h0.01M361.4 452.7h0.01M313.7 418.3h0.01M314.2 430.2h0.01M416.0 440.6h0.01M309.5 430.2h0.01M306.7 449.8h0.01M355.9 426.4h0.01M317.2 438.0h0.01M361.7 440.2h0.01M411.7 451.1h0.01M431.9 454.4h0.01M415.5 451.3h0.01M465.6 441.2h0.01M494.1 448.5h0.01M441.7 450.5h0.01M464.6 431.8h0.01M323.7 438.5h0.01M331.8 405.7h0.01M436.4 431.5h0.01M309.9 433.0h0.01M411.9 451.4h0.01M307.3 389.4h0.01M370.6 418.4h0.01M492.9 453.6h0.01M344.5 447.2h0.01M371.7 440.6h0.01M299.4 435.7h0.01M467.6 446.4h0.01M316.5 450.5h0.01M332.2 444.6h0.01M389.0 450.0h0.01M461.0 455.2h0.01M362.3 416.6h0.01M392.0 454.7h0.01M388.0 440.8h0.01M490.2 451.5h0.01M497.1 444.7h0.01M318.2 446.7h0.01M383.5 452.6h0.01M498.9 401.4h0.01M416.0 392.7h0.01M479.0 442.8h0.01M341.3 439.0h0.01M338.4 432.5h0.01M370.6 445.7h0.01M346.7 451.1h0.01M348.1 436.9h0.01M470.4 456.1h0.01M424.5 453.4h0.01M326.4 439.4h0.01M398.1 453.0h0.01M331.8 395.3h0.01M445.1 413.2h0.01M338.0 454.4h0.01M363.8 452.2h0.01M475.1 449.3h0.01M462.2 447.6h0.01M298.9 438.2h0.01M418.0 443.9h0.01M377.2 424.9h0.01M302.4 435.0h0.01M375.9 434.7h0.01M442.1 442.6h0.01M499.8 439.3h0.01M487.7 452.6h0.01M435.3 449.6h0.01M461.8 444.8h0.01M419.4 437.5h0.01M404.7 449.2h0.01M312.9 432.9h0.01M370.3 410.9h0.01M453.7 446.3h0.01M360.2 450.1h0.01M353.5 455.0h0.01M311.7 450.2h0.01M435.2 451.1h0.01M482.2 455.6h0.01M470.0 449.4h0.01M423.0 450.7h0.01M403.5 427.2h0.01M346.2 454.4h0.01M409.2 455.9h0.01M297.4 439.0h0.01M333.6 438.8h0.01M482.6 448.5h0.01M423.6 454.6h0.01M319.3 438.7h0.01M411.1 449.4h0.01M374.1 450.2h0.01M340.7 454.2h0.01M352.1 434.3h0.01M482.2 447.6h0.01M427.5 423.1h0.01M343.2 451.4h0.01M413.7 404.8h0.01M478.3 452.9h0.01M382.9 450.5h0.01M406.0 440.5h0.01M359.3 454.5h0.01M421.9 432.7h0.01M335.5 455.8h0.01M320.7 391.3h0.01M421.5 445.7h0.01M336.1 424.8h0.01M430.3 446.7h0.01M447.4 449.5h0.01M396.9 404.4h0.01M494.6 453.0h0.01M472.5 435.1h0.01M488.3 448.2h0.01M440.8 428.9h0.01M395.3 453.2h0.01M336.8 413.6h0.01M316.0 421.8h0.01M424.0 421.3h0.01M453.4 414.4h0.01M465.5 450.7h0.01M444.1 452.3h0.01M494.5 454.9h0.01M496.2 447.6h0.01M318.1 414.1h0.01M339.4 405.3h0.01M391.6 438.1h0.01M450.3 449.2h0.01M380.1 410.2h0.01M374.3 445.0h0.01M420.2 416.5h0.01M438.1 438.1h0.01M495.7 443.3h0.01M311.7 455.3h0.01M445.8 451.3h0.01M320.9 433.7h0.01M370.0 442.7h0.01M486.5 450.7h0.01M356.8 438.5h0.01M440.8 443.4h0.01M415.7 452.0h0.01M366.4 433.7h0.01M404.1 453.3h0.01M383.7 400.7h0.01M434.4 429.6h0.01M352.8 407.7h0.01M395.5 412.7h0.01M408.6 456.1h0.01M489.7 438.7h0.01M370.3 411.9h0.01M297.9 452.5h0.01M371.4 451.4h0.01M348.6 379.8h0.01M375.9 441.8h0.01M307.8 444.1h0.01M498.1 428.0h0.01M394.3 441.2h0.01M354.5 410.5h0.01M438.7 455.5h0.01M307.7 443.8h0.01M457.6 439.0h0.01M419.4 440.9h0.01M430.1 454.5h0.01M304.2 448.0h0.01M455.8 386.7h0.01M477.4 439.9h0.01M485.9 452.8h0.01M503.2 438.3h0.01M481.0 451.2h0.01M458.1 420.8h0.01M497.6 440.3h0.01M341.6 456.3h0.01M352.8 440.3h0.01M356.0 442.3h0.01M322.3 448.8h0.01M391.4 423.3h0.01M375.6 407.8h0.01M479.7 454.4h0.01M300.6 426.1h0.01M495.3 452.9h0.01M325.0 446.8h0.01M486.9 429.5h0.01M303.2 455.2h0.01M385.4 424.9h0.01M452.6 431.8h0.01M457.0 438.0h0.01M403.9 421.3h0.01M441.8 455.9h0.01M319.7 411.5h0.01M374.3 448.2h0.01M395.5 437.8h0.01M496.3 446.3h0.01M414.3 429.9h0.01M409.5 431.5h0.01M324.4 450.6h0.01M442.6 442.8h0.01M456.1 385.3h0.01M422.9 443.6h0.01M308.4 452.1h0.01M304.7 443.5h0.01M368.2 438.6h0.01M358.3 384.7h0.01M432.1 441.5h0.01M373.3 454.9h0.01M444.1 444.6h0.01M493.0 455.2h0.01M359.1 456.2h0.01M489.3 423.0h0.01M389.5 408.7h0.01M406.0 450.7h0.01M487.8 438.8h0.01M410.8 433.9h0.01M325.3 452.9h0.01M398.9 436.9h0.01M339.6 445.8h0.01M309.2 441.7h0.01M367.5 411.1h0.01M496.7 420.2h0.01M353.8 431.5h0.01M449.9 451.9h0.01M468.1 431.4h0.01M377.1 447.7h0.01M347.6 447.7h0.01M477.9 431.5h0.01M482.2 441.0h0.01M325.2 424.1h0.01M449.6 401.2h0.01M298.8 445.6h0.01M467.0 397.8h0.01M476.8 443.3h0.01M418.5 396.3h0.01M445.8 416.5h0.01M423.2 447.2h0.01M492.9 428.3h0.01M310.0 415.4h0.01M316.0 449.3h0.01M391.9 405.9h0.01M481.1 448.3h0.01M311.1 450.3h0.01M471.1 448.2h0.01M452.7 416.9h0.01M358.5 431.2h0.01M453.4 382.5h0.01M393.0 454.5h0.01M341.5 421.7h0.01M492.4 431.5h0.01M315.0 426.9h0.01M313.1 437.0h0.01M425.2 440.5h0.01M332.9 448.4h0.01M398.3 419.6h0.01M389.2 449.4h0.01M485.2 446.0h0.01M352.1 420.4h0.01M407.6 443.2h0.01M411.5 454.4h0.01M383.5 448.7h0.01M469.5 451.9h0.01M319.1 433.5h0.01M370.7 431.2h0.01M351.5 454.2h0.01M429.2 447.8h0.01M320.9 455.6h0.01M366.3 451.5h0.01M427.4 414.0h0.01M417.1 453.2h0.01M497.6 400.5h0.01M428.3 438.6h0.01M350.7 450.4h0.01M364.8 439.7h0.01M310.1 412.7h0.01M381.6 450.2h0.01M309.8 453.8h0.01M334.0 434.0h0.01M460.1 455.3h0.01M401.4 454.4h0.01M382.8 414.2h0.01M302.4 428.7h0.01M356.7 445.8h0.01M402.5 414.9h0.01M492.2 455.1h0.01M318.0 442.2h0.01M320.5 451.5h0.01M314.1 444.8h0.01M408.9 456.2h0.01M353.0 441.0h0.01M497.8 445.3h0.01M340.0 440.6h0.01M486.5 444.0h0.01M427.8 438.4h0.01M364.1 454.8h0.01M406.1 452.5h0.01M307.9 419.7h0.01M393.1 455.2h0.01M486.4 441.2h0.01M400.1 446.0h0.01M450.5 432.9h0.01M394.0 431.0h0.01M421.8 451.2h0.01M338.7 418.9h0.01M447.4 449.6h0.01M502.9 413.9h0.01M331.4 418.8h0.01M389.0 411.4h0.01M473.9 447.5h0.01M441.2 422.6h0.01M416.7 414.4h0.01M370.4 430.7h0.01M445.7 401.4h0.01M454.7 417.2h0.01M419.0 436.1h0.01M397.8 448.1h0.01M486.8 453.9h0.01M365.8 432.8h0.01M324.2 454.0h0.01M382.5 440.2h0.01M323.3 456.0h0.01M453.2 448.5h0.01M297.0 450.5h0.01M361.4 455.3h0.01M433.4 453.4h0.01M469.9 440.3h0.01M367.0 449.1h0.01M401.2 450.6h0.01M423.7 450.1h0.01M329.7 452.1h0.01M297.1 443.3h0.01M456.2 452.0h0.01M305.7 453.1h0.01M395.7 444.7h0.01M338.7 416.8h0.01M473.0 455.9h0.01M468.1 429.6h0.01M376.3 448.4h0.01M344.1 448.2h0.01M298.9 432.2h0.01M416.9 448.6h0.01M400.9 450.9h0.01M360.1 440.9h0.01M373.8 450.7h0.01M453.3 446.8h0.01M438.6 441.3h0.01M350.6 404.4h0.01M327.3 453.2h0.01M299.8 402.9h0.01M318.8 451.4h0.01M387.4 441.8h0.01M395.3 452.3h0.01M301.9 444.3h0.01M455.3 452.1h0.01M469.3 447.6h0.01M444.7 447.3h0.01M424.3 453.4h0.01M479.5 383.7h0.01M338.4 456.2h0.01M367.0 405.7h0.01M373.1 413.5h0.01M342.3 411.3h0.01M385.4 388.8h0.01M377.1 450.5h0.01M493.8 422.9h0.01M439.2 454.3h0.01M380.0 427.9h0.01M381.2 441.6h0.01M390.9 388.6h0.01M440.1 451.5h0.01M437.9 453.6h0.01M476.7 451.3h0.01M460.6 454.8h0.01M433.1 440.0h0.01M479.2 448.6h0.01M388.4 450.1h0.01M364.5 425.5h0.01M437.7 430.6h0.01M336.5 451.5h0.01M470.4 444.7h0.01M316.4 437.6h0.01M371.7 447.0h0.01M356.3 420.2h0.01M327.6 385.1h0.01M298.0 414.4h0.01M494.7 445.3h0.01M364.2 453.0h0.01M313.3 454.9h0.01M298.2 421.1h0.01M421.1 403.5h0.01M395.5 451.2h0.01M390.0 452.3h0.01M422.4 454.8h0.01M332.1 444.8h0.01M387.8 440.5h0.01M344.2 452.8h0.01M465.5 433.6h0.01M407.7 407.0h0.01M434.2 428.1h0.01M316.3 446.7h0.01M380.9 450.5h0.01M473.8 435.2h0.01M360.8 451.7h0.01M322.3 449.1h0.01M313.8 444.2h0.01M486.0 448.1h0.01M305.2 448.0h0.01M393.8 444.0h0.01M328.0 441.2h0.01M389.7 432.5h0.01M436.1 407.1h0.01M356.8 430.1h0.01M359.3 411.7h0.01M357.1 455.1h0.01M368.2 412.7h0.01M315.0 455.3h0.01M340.0 436.4h0.01M392.2 449.3h0.01M474.9 413.1h0.01M438.5 435.6h0.01M476.9 441.6h0.01M343.9 403.4h0.01M351.4 433.0h0.01M400.6 452.7h0.01M401.5 436.6h0.01M414.5 453.3h0.01M432.5 441.6h0.01M380.6 447.3h0.01M324.0 440.5h0.01M478.4 441.1h0.01M372.3 434.3h0.01M418.8 447.0h0.01M388.9 423.9h0.01M305.4 450.6h0.01M452.9 415.0h0.01M310.7 454.5h0.01M426.3 409.6h0.01M432.4 433.0h0.01M391.1 393.5h0.01M365.4 422.4h0.01M402.2 449.6h0.01M470.7 453.4h0.01M471.9 447.5h0.01M394.8 424.1h0.01M425.9 435.1h0.01M479.7 415.5h0.01M458.7 437.9h0.01M491.0 455.3h0.01M473.8 438.8h0.01M323.7 456.3h0.01M447.0 451.0h0.01M354.2 441.8h0.01M381.9 423.7h0.01M379.9 455.1h0.01M424.8 430.9h0.01M423.6 441.0h0.01M356.0 441.7h0.01M465.9 394.1h0.01M347.1 448.6h0.01M416.8 443.4h0.01M482.9 443.6h0.01M360.1 451.7h0.01M423.2 436.2h0.01M489.8 422.5h0.01M400.0 398.7h0.01M405.5 432.2h0.01M343.1 398.8h0.01M459.6 456.2h0.01M391.0 428.3h0.01M322.0 392.5h0.01M500.2 425.6h0.01M348.0 434.7h0.01M319.5 405.5h0.01M449.7 456.3h0.01M469.5 454.9h0.01M349.5 451.8h0.01M352.6 423.3h0.01M333.0 405.5h0.01M398.2 450.3h0.01M359.8 371.4h0.01M472.6 453.4h0.01M447.9 450.5h0.01M411.9 454.7h0.01M415.2 438.5h0.01M304.3 432.8h0.01M391.3 431.3h0.01M313.5 416.9h0.01M372.9 430.3h0.01M397.4 455.6h0.01M450.6 453.1h0.01M363.4 446.6h0.01M362.3 439.0h0.01M473.5 447.9h0.01M357.8 452.0h0.01M298.6 421.0h0.01M343.9 446.4h0.01M359.2 390.9h0.01M434.1 426.9h0.01M355.0 446.4h0.01M339.5 450.5h0.01M321.4 454.9h0.01M442.4 446.6h0.01M397.5 450.6h0.01M426.8 453.8h0.01M313.1 449.5h0.01M393.0 425.1h0.01M316.5 445.1h0.01M368.4 450.8h0.01M404.6 442.5h0.01M359.2 453.1h0.01M421.9 445.6h0.01M361.3 448.5h0.01M394.0 432.6h0.01M430.0 446.9h0.01M389.0 418.9h0.01M337.0 445.6h0.01M488.7 413.9h0.01M399.8 384.2h0.01M303.2 433.6h0.01M330.2 432.0h0.01M484.8 439.3h0.01M369.5 409.2h0.01M425.9 449.6h0.01M344.1 384.2h0.01M481.7 432.7h0.01M350.0 441.2h0.01M397.0 442.7h0.01M434.6 421.0h0.01M395.4 450.3h0.01M456.0 444.8h0.01M423.4 455.6h0.01M401.2 398.3h0.01M365.2 448.7h0.01M372.8 449.3h0.01M423.7 447.4h0.01M488.0 448.9h0.01M443.4 450.0h0.01M344.4 449.9h0.01M425.0 447.3h0.01M452.6 404.2h0.01M398.5 428.7h0.01M446.0 444.3h0.01M393.5 451.4h0.01M388.3 455.2h0.01M501.7 445.8h0.01M444.3 435.4h0.01M314.2 455.6h0.01M431.5 451.7h0.01M459.9 444.9h0.01M327.1 453.6h0.01M424.0 443.0h0.01M494.8 449.7h0.01M468.0 452.3h0.01M384.9 405.3h0.01M492.3 454.7h0.01M365.7 451.2h0.01M406.6 451.5h0.01M428.5 448.9h0.01M444.4 453.7h0.01M398.8 455.8h0.01M432.6 443.2h0.01M306.9 445.6h0.01M362.7 455.6h0.01M305.6 443.5h0.01M488.7 425.5h0.01M358.5 432.5h0.01M346.7 452.5h0.01M414.2 448.9h0.01M395.3 454.4h0.01M350.3 435.6h0.01M296.8 437.5h0.01M327.5 416.8h0.01M455.6 434.8h0.01M370.0 455.3h0.01M357.4 430.5h0.01M395.7 447.8h0.01M405.0 416.5h0.01M326.6 431.9h0.01M318.5 451.9h0.01M455.0 441.1h0.01M477.3 445.0h0.01M492.3 435.0h0.01M481.7 398.0h0.01M297.4 440.4h0.01M501.1 431.2h0.01M449.1 450.2h0.01M298.1 452.5h0.01M393.0 434.4h0.01M484.4 454.6h0.01M500.8 421.0h0.01M359.7 445.4h0.01M385.0 409.9h0.01M390.5 444.2h0.01M492.6 434.6h0.01M360.4 442.5h0.01M347.3 451.7h0.01M318.3 440.3h0.01M502.8 429.6h0.01M405.0 447.5h0.01M435.7 449.0h0.01M372.6 444.3h0.01M302.9 420.7h0.01M380.5 417.0h0.01M436.2 370.9h0.01M345.1 436.1h0.01M398.6 434.8h0.01M472.9 427.3h0.01M311.0 442.8h0.01M480.7 410.5h0.01M357.0 446.2h0.01M306.3 450.1h0.01M490.3 454.2h0.01M307.2 448.8h0.01M469.7 440.5h0.01M340.0 446.7h0.01M310.0 429.3h0.01M334.3 444.3h0.01M481.8 441.3h0.01M398.4 454.5h0.01M324.5 451.9h0.01M475.6 455.4h0.01M479.9 442.8h0.01M499.4 433.8h0.01M487.8 435.3h0.01M489.9 453.1h0.01M311.9 450.5h0.01M432.3 432.6h0.01M437.5 454.6h0.01M368.6 395.9h0.01M332.2 436.6h0.01M403.4 428.6h0.01M352.0 438.0h0.01M492.5 439.9h0.01M452.1 446.8h0.01M303.2 455.1h0.01M316.5 454.0h0.01M449.6 426.0h0.01M423.8 451.1h0.01M446.0 442.6h0.01M337.0 440.6h0.01M320.1 428.1h0.01M493.5 394.8h0.01M368.8 455.4h0.01M354.4 439.9h0.01M398.5 451.8h0.01M479.5 423.4h0.01M306.4 455.0h0.01M342.5 441.9h0.01M370.9 448.1h0.01M359.3 433.8h0.01M400.8 447.1h0.01M437.4 443.0h0.01M492.4 442.4h0.01M460.4 441.0h0.01M425.2 455.1h0.01M460.0 446.5h0.01M336.8 450.1h0.01M329.2 440.1h0.01M438.8 384.4h0.01M349.4 435.7h0.01M301.5 388.4h0.01M370.7 449.0h0.01M436.4 440.9h0.01M441.6 454.6h0.01M501.1 428.1h0.01M416.8 424.8h0.01M356.2 448.2h0.01M422.8 454.2h0.01M325.4 450.0h0.01M356.2 453.0h0.01M449.1 447.4h0.01M351.6 435.3h0.01M498.9 435.7h0.01M394.2 448.6h0.01M432.3 445.7h0.01M312.5 431.4h0.01M417.1 415.1h0.01M498.8 446.8h0.01M473.0 447.5h0.01M399.4 456.2h0.01M394.1 440.3h0.01M453.8 437.9h0.01M322.1 446.1h0.01M405.6 455.5h0.01M409.9 451.0h0.01" stroke="#62c6a8" stroke-width="1.55" stroke-linecap="round" fill="none"/>
<ellipse cx="341.3" cy="356.4" rx="2.05" ry="1.35" fill="#ffffff" stroke="#44608f" stroke-width="0.95"/>
<text x="302.00" y="352.91" font-size="6.7" fill="#111" transform="rotate(0.03 302.00 352.91)" textLength="74.12" lengthAdjust="spacingAndGlyphs">Reactome: Signal attenuation</text>
<ellipse cx="397.1" cy="356.3" rx="2.05" ry="1.35" fill="#f2c4c6" stroke="#c0404a" stroke-width="0.95"/>
<text x="382.50" y="353.41" font-size="6.7" fill="#111" transform="rotate(0.03 382.50 353.41)" textLength="74.42" lengthAdjust="spacingAndGlyphs">KEGG: Olfactory transduction</text>
<ellipse cx="454.6" cy="344.6" rx="2.05" ry="1.35" fill="#ffffff" stroke="#1e3c3a" stroke-width="0.95"/>
<text x="433.60" y="335.41" font-size="6.7" fill="#111" transform="rotate(0.03 433.60 335.41)" textLength="49.61" lengthAdjust="spacingAndGlyphs">KEGG: Neuroactive</text>
<text x="433.60" y="342.51" font-size="6.7" fill="#111" transform="rotate(0.03 433.60 342.51)" textLength="65.32" lengthAdjust="spacingAndGlyphs">ligand-receptor interaction</text>
<ellipse cx="494.2" cy="368.6" rx="2.05" ry="1.35" fill="#c4c070" stroke="#9a9a40" stroke-width="0.95"/>
<text x="436.90" y="363.61" font-size="6.7" fill="#111" transform="rotate(0.03 436.90 363.61)" textLength="76.62" lengthAdjust="spacingAndGlyphs">Reactome: Diabetes pathways</text>
<ellipse cx="416.3" cy="366.0" rx="2.05" ry="1.35" fill="#eef0fa" stroke="#5a70b8" stroke-width="0.95"/>
<text x="380.10" y="372.41" font-size="6.7" fill="#111" transform="rotate(0.03 380.10 372.41)" textLength="81.33" lengthAdjust="spacingAndGlyphs">Reactome: Unblocking of NMDA</text>
<text x="380.10" y="379.51" font-size="6.7" fill="#111" transform="rotate(0.03 380.10 379.51)" textLength="104.59" lengthAdjust="spacingAndGlyphs">receptor, glutamate binding and activation</text>
<text x="369.80" y="477.70" font-size="8.5" transform="rotate(0.03 369.80 477.70)">ND_GWAS</text>
<rect x="289.9" y="480.5" width="227.2" height="181.29999999999995" fill="none" stroke="#a8a8a8" stroke-width="0.9"/>
<text x="285.50" y="657.88" font-size="6.6" text-anchor="end" transform="rotate(0.03 285.50 657.88)" style="stroke-opacity:.6;stroke-width:.3px">0.0</text>
<text x="285.50" y="629.68" font-size="6.6" text-anchor="end" transform="rotate(0.03 285.50 629.68)" style="stroke-opacity:.6;stroke-width:.3px">1.0</text>
<text x="285.50" y="601.48" font-size="6.6" text-anchor="end" transform="rotate(0.03 285.50 601.48)" style="stroke-opacity:.6;stroke-width:.3px">2.0</text>
<text x="285.50" y="573.28" font-size="6.6" text-anchor="end" transform="rotate(0.03 285.50 573.28)" style="stroke-opacity:.6;stroke-width:.3px">3.0</text>
<text x="285.50" y="545.08" font-size="6.6" text-anchor="end" transform="rotate(0.03 285.50 545.08)" style="stroke-opacity:.6;stroke-width:.3px">4.0</text>
<text x="285.50" y="516.88" font-size="6.6" text-anchor="end" transform="rotate(0.03 285.50 516.88)" style="stroke-opacity:.6;stroke-width:.3px">5.0</text>
<text x="285.50" y="488.68" font-size="6.6" text-anchor="end" transform="rotate(0.03 285.50 488.68)" style="stroke-opacity:.6;stroke-width:.3px">6.0</text>
<path d="M286.2 655.50H289.8M286.2 627.30H289.8M286.2 599.10H289.8M286.2 570.90H289.8M286.2 542.70H289.8M286.2 514.50H289.8M286.2 486.30H289.8" stroke="#777" stroke-width="0.7"/>
<text x="266.10" y="564.40" font-size="6.9" text-anchor="middle" transform="rotate(-89.97 266.10 564.40)">−log10 p−value</text>
<path d="M290.5 534.24H516.3" stroke="#e0606e" stroke-width="0.9" stroke-dasharray="0.9 1.4"/>
<path d="M290.5 618.84H516.3" stroke="#b5cc66" stroke-width="0.9" stroke-dasharray="0.9 1.4"/>
<path d="M373.9 645.1h0.01M475.8 628.9h0.01M400.7 592.2h0.01M411.3 621.6h0.01M305.2 649.0h0.01M442.1 642.4h0.01M446.6 644.8h0.01M346.0 630.6h0.01M401.4 625.9h0.01M418.8 654.4h0.01M376.1 652.1h0.01M317.8 651.6h0.01M436.1 638.9h0.01M383.9 651.2h0.01M351.9 622.7h0.01M354.9 634.5h0.01M338.0 652.7h0.01M478.5 653.9h0.01M375.1 616.4h0.01M301.7 645.9h0.01M484.1 644.0h0.01M420.1 626.0h0.01M416.4 627.1h0.01M338.8 654.0h0.01M314.1 590.9h0.01M300.4 647.2h0.01M399.4 622.3h0.01M383.6 654.4h0.01M428.8 643.1h0.01M416.6 623.6h0.01M422.6 631.8h0.01M308.0 654.9h0.01M422.1 647.6h0.01M352.2 629.9h0.01M503.0 655.4h0.01M442.5 627.1h0.01M345.7 654.8h0.01M305.7 648.9h0.01M436.1 642.0h0.01M456.8 648.4h0.01M368.5 622.6h0.01M417.5 653.5h0.01M379.9 644.8h0.01M415.5 655.3h0.01M461.9 601.7h0.01M386.4 640.5h0.01M388.5 634.7h0.01M315.1 640.3h0.01M318.1 649.3h0.01M302.0 652.2h0.01M463.6 652.2h0.01M443.4 646.1h0.01M449.2 636.7h0.01M344.5 644.0h0.01M379.6 655.0h0.01M474.5 642.2h0.01M434.7 642.1h0.01M471.0 631.7h0.01M307.2 637.3h0.01M332.5 655.2h0.01M500.5 654.8h0.01M299.3 648.8h0.01M339.9 617.8h0.01M423.1 642.8h0.01M370.0 655.0h0.01M412.9 629.1h0.01M314.7 628.8h0.01M440.6 647.6h0.01M390.1 618.8h0.01M454.7 650.8h0.01M480.1 642.6h0.01M444.6 631.6h0.01M478.7 652.0h0.01M317.3 646.0h0.01M406.1 614.7h0.01M426.9 631.9h0.01M458.0 622.2h0.01M299.5 635.2h0.01M391.2 632.1h0.01M377.0 647.7h0.01M396.4 631.9h0.01M407.4 654.8h0.01M302.7 654.7h0.01M480.5 655.4h0.01M405.0 647.3h0.01M484.7 647.1h0.01M429.6 618.8h0.01M358.8 647.3h0.01M445.7 651.2h0.01M441.3 624.9h0.01M398.1 644.8h0.01M307.7 649.4h0.01M373.9 648.7h0.01M344.5 653.8h0.01M447.5 652.9h0.01M477.8 649.2h0.01M420.1 610.7h0.01M436.9 648.9h0.01M311.0 643.4h0.01M422.4 633.1h0.01M310.2 632.5h0.01M394.0 641.5h0.01M302.2 647.1h0.01M365.8 652.1h0.01M298.6 652.2h0.01M418.7 654.9h0.01M500.6 655.2h0.01M318.7 653.0h0.01M344.6 641.3h0.01M336.5 652.2h0.01M319.7 635.2h0.01M490.6 626.9h0.01M373.7 655.2h0.01M393.4 651.5h0.01M373.1 646.7h0.01M345.6 649.4h0.01M403.8 637.2h0.01M387.6 633.6h0.01M301.4 654.7h0.01M462.1 624.9h0.01M348.7 617.1h0.01M421.8 653.3h0.01M308.9 635.1h0.01M358.8 638.1h0.01M498.3 652.5h0.01M483.1 652.3h0.01M477.9 654.5h0.01M496.7 654.4h0.01M362.4 623.7h0.01M421.6 636.7h0.01M368.5 645.9h0.01M379.3 653.1h0.01M353.9 634.4h0.01M422.9 645.1h0.01M387.7 647.9h0.01M379.9 632.9h0.01M332.0 640.4h0.01M335.8 647.3h0.01M432.9 650.9h0.01M426.0 628.8h0.01M389.2 640.9h0.01M454.1 648.8h0.01M448.4 653.8h0.01M408.8 634.6h0.01M300.8 640.8h0.01M394.0 647.5h0.01M363.7 653.6h0.01M403.0 653.0h0.01M444.9 624.4h0.01M407.0 638.6h0.01M299.0 619.9h0.01M305.5 654.4h0.01M330.5 629.9h0.01M467.1 623.9h0.01M430.9 655.4h0.01M480.4 643.0h0.01M324.7 646.3h0.01M371.0 650.5h0.01M363.0 637.9h0.01M334.5 642.6h0.01M476.2 648.9h0.01M298.8 647.9h0.01M301.0 650.4h0.01M475.7 645.6h0.01M484.4 650.2h0.01M353.2 651.7h0.01M390.1 629.4h0.01M344.7 650.3h0.01M451.4 640.6h0.01M420.9 641.3h0.01M488.7 647.3h0.01M335.3 606.5h0.01M435.0 652.1h0.01M324.6 624.0h0.01M409.0 634.5h0.01M341.5 654.1h0.01M438.5 634.0h0.01M471.7 643.9h0.01M490.2 655.5h0.01M399.3 651.0h0.01M463.8 617.8h0.01M392.6 643.1h0.01M496.0 649.3h0.01M486.4 647.6h0.01M314.3 655.0h0.01M480.4 641.5h0.01M497.0 651.9h0.01M406.5 632.9h0.01M408.3 654.6h0.01M498.2 650.1h0.01M308.5 631.9h0.01M416.8 653.4h0.01M468.8 633.8h0.01M323.6 638.5h0.01M304.3 639.2h0.01M457.9 643.4h0.01M496.1 644.9h0.01M332.6 612.8h0.01M415.5 629.4h0.01M434.7 633.8h0.01M416.8 646.8h0.01M460.0 653.2h0.01M328.2 654.4h0.01M495.2 642.4h0.01M355.8 643.0h0.01M334.2 645.7h0.01M428.2 653.3h0.01M496.0 623.7h0.01M349.2 646.7h0.01M493.0 648.9h0.01M299.7 641.2h0.01M308.9 633.7h0.01M361.2 646.9h0.01M339.4 653.3h0.01M392.8 599.0h0.01M360.9 627.3h0.01M333.6 635.4h0.01M490.2 649.4h0.01M428.7 642.1h0.01M485.8 640.3h0.01M302.8 647.5h0.01M340.2 651.5h0.01M300.8 614.3h0.01M443.5 653.2h0.01M412.0 641.7h0.01M312.4 650.8h0.01M443.2 650.8h0.01M309.0 654.7h0.01M401.8 648.0h0.01M372.0 653.2h0.01M482.1 650.0h0.01M403.3 641.3h0.01M303.8 654.0h0.01M361.5 655.1h0.01M356.2 645.0h0.01M406.8 652.5h0.01M318.3 651.6h0.01M466.4 653.8h0.01M342.8 650.3h0.01M390.2 637.3h0.01M493.8 618.7h0.01M493.8 643.4h0.01M430.7 632.6h0.01M430.0 652.5h0.01M300.8 643.9h0.01M377.4 644.3h0.01M497.9 654.7h0.01M499.3 654.9h0.01M302.9 631.5h0.01M298.4 638.9h0.01M416.0 626.8h0.01M423.0 633.9h0.01M353.4 642.5h0.01M335.3 655.1h0.01M405.6 653.8h0.01M326.6 650.0h0.01M480.6 651.5h0.01M394.5 633.7h0.01M394.9 649.8h0.01M429.9 651.7h0.01M437.5 639.9h0.01M392.5 652.0h0.01M427.9 648.4h0.01M315.1 645.5h0.01M457.5 643.4h0.01M312.1 651.1h0.01M418.2 645.6h0.01M327.7 647.0h0.01M440.9 649.6h0.01M490.9 647.1h0.01M299.3 648.1h0.01M441.8 638.6h0.01M496.2 621.4h0.01M454.8 650.7h0.01M298.2 631.6h0.01M402.4 653.7h0.01M403.9 644.5h0.01M373.8 651.9h0.01M330.3 652.0h0.01M440.6 655.2h0.01M395.4 640.1h0.01M364.1 653.8h0.01M484.7 650.7h0.01M349.6 655.0h0.01M422.5 652.4h0.01M311.2 652.6h0.01M390.1 643.6h0.01M390.2 652.7h0.01M340.0 612.8h0.01M479.2 653.0h0.01M313.3 648.0h0.01M475.8 652.0h0.01M396.4 638.7h0.01M307.8 638.9h0.01M329.6 651.3h0.01M484.7 622.6h0.01M453.8 624.0h0.01M348.6 652.7h0.01M342.9 642.2h0.01M497.9 650.8h0.01M398.7 651.5h0.01M381.1 647.1h0.01M352.5 651.0h0.01M440.7 636.6h0.01M501.0 637.1h0.01M334.8 651.2h0.01M420.4 603.7h0.01M400.1 628.4h0.01M463.8 648.6h0.01M409.6 642.7h0.01M324.6 652.7h0.01M463.9 640.8h0.01M489.0 641.7h0.01M314.4 622.1h0.01M392.7 641.9h0.01M342.4 642.0h0.01M481.5 644.7h0.01M426.2 654.6h0.01M417.1 637.2h0.01M309.8 630.6h0.01M352.0 652.4h0.01M466.2 630.9h0.01M345.7 627.2h0.01M481.2 630.1h0.01M334.2 650.3h0.01M484.2 620.0h0.01M444.4 627.9h0.01M418.3 650.5h0.01M382.7 645.6h0.01M430.4 638.4h0.01M395.3 630.0h0.01M372.8 637.4h0.01M414.0 653.9h0.01M430.5 649.6h0.01M458.6 592.9h0.01M404.7 651.6h0.01M491.9 653.2h0.01M330.7 638.2h0.01M300.6 640.9h0.01M313.9 636.0h0.01M379.4 591.6h0.01M396.1 593.7h0.01M307.6 650.9h0.01M336.1 651.2h0.01M429.8 652.6h0.01M386.9 647.3h0.01M340.2 655.2h0.01M339.1 654.1h0.01M341.4 623.6h0.01M468.4 611.2h0.01M415.2 632.8h0.01M370.9 638.1h0.01M410.3 652.3h0.01M450.7 637.7h0.01M305.2 629.4h0.01M472.9 650.6h0.01M440.9 651.9h0.01M488.2 654.5h0.01M333.4 647.9h0.01M385.0 648.1h0.01M368.9 650.9h0.01M336.8 620.2h0.01M448.2 629.2h0.01M406.9 650.5h0.01M447.4 640.1h0.01M398.9 644.7h0.01M502.8 633.6h0.01M394.1 644.5h0.01M389.3 634.3h0.01M384.6 645.4h0.01M366.0 651.5h0.01M435.3 649.1h0.01M466.8 628.5h0.01M350.0 619.7h0.01M321.4 653.0h0.01M382.1 638.1h0.01M497.0 654.7h0.01M429.2 635.0h0.01M403.0 653.0h0.01M328.3 639.9h0.01M306.0 619.6h0.01M446.4 614.6h0.01M310.7 648.4h0.01M500.5 654.6h0.01M371.6 643.6h0.01M434.3 653.7h0.01M334.5 651.5h0.01M388.2 651.2h0.01M306.7 616.5h0.01M345.2 637.6h0.01M485.1 637.8h0.01M339.8 643.1h0.01M308.3 625.1h0.01M383.7 643.3h0.01M403.5 621.3h0.01M300.7 641.1h0.01M329.3 645.4h0.01M452.2 632.4h0.01M370.5 644.1h0.01M448.4 647.6h0.01M493.0 649.2h0.01M367.3 651.0h0.01M300.0 654.9h0.01M321.9 633.0h0.01M369.9 642.5h0.01M427.5 642.8h0.01M396.6 641.3h0.01M488.2 650.2h0.01M372.9 654.9h0.01M501.6 642.6h0.01M478.1 653.1h0.01M356.6 626.3h0.01M360.6 644.0h0.01M491.8 645.1h0.01M401.3 642.7h0.01M418.4 640.3h0.01M334.4 647.3h0.01M452.2 617.5h0.01M366.7 653.0h0.01M317.7 633.8h0.01M416.4 649.1h0.01M436.9 654.6h0.01M419.6 648.0h0.01M487.0 654.2h0.01M322.1 631.5h0.01M299.4 627.8h0.01M495.8 653.3h0.01M453.9 646.2h0.01M432.3 649.9h0.01M494.6 642.9h0.01M317.5 639.6h0.01M459.6 615.9h0.01M473.0 652.2h0.01M343.5 652.5h0.01M354.8 641.9h0.01M297.2 653.5h0.01M431.8 639.5h0.01M297.4 649.4h0.01M331.7 626.1h0.01M402.5 635.1h0.01M467.8 608.6h0.01M431.5 645.2h0.01M472.0 641.8h0.01M475.9 625.0h0.01M403.0 636.6h0.01M435.7 647.7h0.01M445.5 647.3h0.01M407.3 615.4h0.01M424.8 646.2h0.01M443.0 625.4h0.01M306.4 621.7h0.01M499.0 615.7h0.01M438.2 631.0h0.01M421.9 616.7h0.01M420.6 635.0h0.01M436.6 651.4h0.01M445.0 647.2h0.01M308.0 611.8h0.01M454.6 644.8h0.01M339.3 606.5h0.01M363.9 646.8h0.01M355.3 621.9h0.01M299.8 606.4h0.01M362.0 653.1h0.01M347.6 651.0h0.01M479.2 651.4h0.01M421.3 601.1h0.01M455.7 654.2h0.01M447.7 627.1h0.01M329.9 651.7h0.01M425.6 649.9h0.01M466.2 633.8h0.01M312.2 653.4h0.01M418.4 645.4h0.01M403.7 590.5h0.01M365.5 654.6h0.01M490.5 646.0h0.01M493.6 653.7h0.01M503.4 623.2h0.01M371.1 640.6h0.01M463.4 632.8h0.01M391.5 648.4h0.01M402.8 646.0h0.01M328.1 648.2h0.01M351.0 651.1h0.01M494.6 603.2h0.01M462.4 624.2h0.01M385.3 651.9h0.01M346.7 648.8h0.01M479.3 634.8h0.01M455.5 651.6h0.01M304.1 645.0h0.01M495.0 652.0h0.01M426.0 640.1h0.01M495.5 629.7h0.01M309.9 650.9h0.01M436.5 650.7h0.01M417.7 644.3h0.01M437.7 654.5h0.01M496.8 645.4h0.01M457.1 649.5h0.01M453.1 647.6h0.01M400.0 652.0h0.01M337.7 645.2h0.01M447.0 649.8h0.01M310.5 643.5h0.01M430.6 650.8h0.01M328.3 649.6h0.01M447.3 653.9h0.01M327.3 652.5h0.01M406.9 637.9h0.01M497.9 613.7h0.01M461.1 630.1h0.01M415.5 636.0h0.01M338.8 649.7h0.01M442.1 615.1h0.01M463.8 653.7h0.01M365.9 624.9h0.01M303.6 644.8h0.01M467.9 653.8h0.01M485.9 655.1h0.01M358.3 653.1h0.01M477.2 649.7h0.01M312.0 590.6h0.01M315.6 655.3h0.01M375.3 654.2h0.01M374.5 636.5h0.01M430.6 653.8h0.01M466.5 627.4h0.01M467.3 641.2h0.01M474.8 646.2h0.01M369.8 647.4h0.01M499.5 655.4h0.01M404.7 647.4h0.01M436.3 648.7h0.01M489.0 637.9h0.01M502.7 643.8h0.01M486.3 648.0h0.01M353.6 654.4h0.01M416.7 610.1h0.01M366.4 648.0h0.01M353.4 641.5h0.01M391.6 623.5h0.01M387.2 646.8h0.01M386.9 653.2h0.01M452.7 651.7h0.01M392.9 646.3h0.01M438.6 635.9h0.01M497.4 653.6h0.01M496.9 652.5h0.01M390.2 648.2h0.01M435.6 655.3h0.01M473.2 619.8h0.01M473.6 648.5h0.01M427.3 643.4h0.01M423.7 648.5h0.01M378.3 653.8h0.01M491.0 650.2h0.01M473.7 622.8h0.01M387.8 650.5h0.01M398.9 611.6h0.01M337.0 631.3h0.01M426.3 646.3h0.01M427.1 654.6h0.01M409.6 651.9h0.01M364.9 606.0h0.01M421.9 626.7h0.01M423.0 639.5h0.01M306.1 640.8h0.01M489.5 635.5h0.01M433.8 644.7h0.01M392.2 647.2h0.01M483.9 650.4h0.01M459.7 649.3h0.01M353.9 641.3h0.01M407.1 594.1h0.01M352.3 618.2h0.01M373.9 645.1h0.01M383.6 634.3h0.01M412.9 654.4h0.01M503.2 649.9h0.01M493.4 649.5h0.01M464.0 650.6h0.01M503.2 648.8h0.01M366.4 647.4h0.01M316.1 649.8h0.01M491.4 644.0h0.01M381.2 629.5h0.01M424.4 639.4h0.01M363.1 653.4h0.01M303.2 647.9h0.01M383.5 636.2h0.01M478.4 649.5h0.01M401.9 653.9h0.01M466.7 637.4h0.01M460.5 653.3h0.01M427.1 650.1h0.01M414.8 642.9h0.01M442.3 642.0h0.01M359.3 653.8h0.01M317.8 651.4h0.01M335.8 622.8h0.01M386.5 638.8h0.01M483.9 642.8h0.01M475.7 616.2h0.01M359.1 636.3h0.01M388.7 645.3h0.01M303.5 647.9h0.01M305.5 648.5h0.01M355.0 631.0h0.01M447.4 646.5h0.01M303.1 609.7h0.01M344.2 643.6h0.01M464.8 651.0h0.01M500.7 654.2h0.01M346.3 655.0h0.01M323.7 647.9h0.01M441.5 647.3h0.01M499.7 649.3h0.01M384.4 642.3h0.01M461.8 654.1h0.01M378.4 632.8h0.01M309.1 652.1h0.01M481.6 652.8h0.01M321.3 649.7h0.01M328.6 647.5h0.01M348.4 653.9h0.01M390.0 615.4h0.01M475.0 636.1h0.01M321.5 632.3h0.01M387.8 642.2h0.01M495.5 647.2h0.01M477.6 643.1h0.01M396.3 628.1h0.01M469.4 653.9h0.01M315.0 649.5h0.01M371.1 655.5h0.01M317.3 650.0h0.01M382.4 624.3h0.01M452.9 652.3h0.01M349.6 642.7h0.01M388.6 648.1h0.01M323.0 636.8h0.01M315.0 616.5h0.01M494.1 652.1h0.01M435.3 652.5h0.01M353.8 644.6h0.01M379.8 645.6h0.01M495.4 653.0h0.01M353.8 643.3h0.01M487.3 651.3h0.01M499.2 655.1h0.01M468.2 652.4h0.01M440.1 645.4h0.01M502.5 634.8h0.01M455.0 636.0h0.01M478.2 652.3h0.01M397.4 642.1h0.01M478.0 600.3h0.01M326.0 648.1h0.01M376.7 641.0h0.01M359.8 645.5h0.01M404.8 637.6h0.01M393.9 651.7h0.01M375.9 644.6h0.01M454.0 654.6h0.01M308.9 650.5h0.01M386.4 651.8h0.01M393.8 650.6h0.01M409.7 621.7h0.01M331.9 651.2h0.01M352.5 648.9h0.01M306.7 594.9h0.01M348.0 642.8h0.01M364.8 632.2h0.01M402.9 652.2h0.01M483.4 648.0h0.01M481.4 636.2h0.01M445.7 650.3h0.01M329.7 654.4h0.01M408.0 643.2h0.01M500.5 647.0h0.01M352.7 636.1h0.01M460.7 652.1h0.01M307.8 640.2h0.01M412.9 646.1h0.01M415.3 653.4h0.01M458.1 647.3h0.01M426.2 650.0h0.01M442.9 601.1h0.01M408.8 644.4h0.01M458.2 647.2h0.01M477.5 631.1h0.01M466.3 629.2h0.01M304.1 653.2h0.01M466.6 647.5h0.01M328.5 640.0h0.01M342.4 654.7h0.01M367.3 655.4h0.01M411.7 654.7h0.01M344.8 621.0h0.01M299.1 648.8h0.01M372.9 635.6h0.01M491.7 625.2h0.01M371.9 646.7h0.01M319.6 641.9h0.01M434.7 648.7h0.01M475.0 651.6h0.01M373.8 653.5h0.01M315.7 635.7h0.01M429.7 650.6h0.01M445.5 625.9h0.01M302.9 653.9h0.01M457.7 649.2h0.01M353.3 651.4h0.01M314.3 642.3h0.01M416.6 635.2h0.01M367.3 654.0h0.01M490.3 650.0h0.01M341.2 651.0h0.01M489.7 640.6h0.01M398.6 599.3h0.01M333.3 641.9h0.01M361.6 647.7h0.01M467.5 638.1h0.01M480.1 650.7h0.01M463.3 604.8h0.01M486.8 646.2h0.01M482.6 646.8h0.01M311.4 652.4h0.01M360.7 653.6h0.01M402.0 647.2h0.01M310.4 649.2h0.01M434.5 646.8h0.01M459.7 638.6h0.01M390.6 646.5h0.01M330.6 633.0h0.01M395.9 641.5h0.01M439.4 654.6h0.01M345.9 631.0h0.01M303.3 654.4h0.01M463.0 654.5h0.01M335.6 653.5h0.01M397.4 653.2h0.01M352.4 644.4h0.01M438.8 640.9h0.01M496.7 638.3h0.01M479.5 652.2h0.01M447.8 650.2h0.01M324.8 636.9h0.01M427.3 623.9h0.01M372.1 654.2h0.01M351.6 647.2h0.01M482.6 649.8h0.01M396.2 651.0h0.01M388.4 654.2h0.01M465.6 654.8h0.01M434.9 651.1h0.01M376.4 643.1h0.01M437.2 640.9h0.01M340.7 653.7h0.01M357.2 645.9h0.01M338.8 639.2h0.01M390.6 653.5h0.01M331.9 652.5h0.01M413.6 651.6h0.01M383.4 654.7h0.01M311.2 639.6h0.01M456.4 652.4h0.01M402.5 600.5h0.01M370.0 650.6h0.01M373.6 626.3h0.01M396.2 648.4h0.01M297.2 649.2h0.01M378.4 645.2h0.01M464.9 654.1h0.01M390.8 653.9h0.01M433.9 651.3h0.01M375.6 653.9h0.01M397.7 650.7h0.01M352.7 643.8h0.01M362.7 621.8h0.01M492.8 647.8h0.01M479.9 632.0h0.01M450.3 652.3h0.01M396.1 645.5h0.01M455.3 648.3h0.01M299.0 653.9h0.01M463.0 653.9h0.01M360.4 653.7h0.01M472.0 639.7h0.01M382.1 653.4h0.01M353.6 643.9h0.01M331.3 630.5h0.01M335.8 639.7h0.01M453.9 648.6h0.01M356.1 647.0h0.01M391.8 635.7h0.01M382.3 631.3h0.01M443.5 630.7h0.01M316.7 651.7h0.01M364.3 630.7h0.01M483.8 634.4h0.01M301.2 645.3h0.01M432.5 641.4h0.01M367.7 654.3h0.01M333.4 654.3h0.01M443.8 636.6h0.01M377.4 648.5h0.01M405.8 628.2h0.01M481.3 635.8h0.01M433.0 655.1h0.01M318.6 649.0h0.01M383.7 623.1h0.01M440.7 642.5h0.01M392.7 654.6h0.01M498.9 650.9h0.01M305.6 635.1h0.01M456.2 627.6h0.01M443.3 647.7h0.01M323.0 655.1h0.01M399.8 648.5h0.01M400.0 645.2h0.01M457.5 647.4h0.01M466.2 646.6h0.01M484.1 641.4h0.01M439.8 648.1h0.01M440.7 646.3h0.01M441.2 644.8h0.01M299.2 652.9h0.01M363.5 645.2h0.01M308.6 620.7h0.01M304.2 651.5h0.01M308.9 649.9h0.01M389.1 631.4h0.01M442.7 651.1h0.01M401.8 644.0h0.01M306.9 649.3h0.01M396.8 643.7h0.01M403.6 595.3h0.01M442.4 646.3h0.01M465.8 627.6h0.01M367.6 649.6h0.01M468.6 608.3h0.01M502.3 649.6h0.01M349.2 655.2h0.01M398.0 649.1h0.01M383.8 652.2h0.01M307.9 647.7h0.01M307.8 654.4h0.01M464.6 645.4h0.01M355.4 635.0h0.01M314.7 649.8h0.01M500.6 646.2h0.01M447.1 637.8h0.01M383.1 646.4h0.01M499.8 646.0h0.01M416.1 628.2h0.01M324.8 641.5h0.01M480.4 640.0h0.01M389.3 645.1h0.01M304.4 654.9h0.01M485.4 648.2h0.01M361.8 655.4h0.01M447.8 639.6h0.01M308.2 645.1h0.01M476.3 629.1h0.01M477.0 647.7h0.01M359.7 652.5h0.01M380.1 643.5h0.01M350.1 645.6h0.01M348.2 642.0h0.01M433.3 641.4h0.01M308.5 645.1h0.01M488.3 648.7h0.01M462.7 654.8h0.01M334.2 653.6h0.01M370.2 652.7h0.01M379.4 639.5h0.01M443.4 654.5h0.01M362.3 650.5h0.01M340.5 650.9h0.01M463.8 644.7h0.01M417.4 655.3h0.01M385.1 647.5h0.01M426.8 626.8h0.01M307.8 649.0h0.01M361.2 641.1h0.01M461.3 654.0h0.01M359.7 638.8h0.01M321.5 641.4h0.01M351.9 636.6h0.01M433.9 632.9h0.01M460.1 617.1h0.01M347.7 651.5h0.01M424.4 641.6h0.01M321.9 654.9h0.01M355.9 651.9h0.01M447.3 652.0h0.01M333.2 641.9h0.01M436.7 641.2h0.01M339.5 649.3h0.01M376.0 637.0h0.01M414.6 596.9h0.01M314.8 653.6h0.01M448.9 619.0h0.01M474.9 650.9h0.01M495.9 645.6h0.01M358.6 653.3h0.01M306.9 641.7h0.01M427.8 646.8h0.01M412.0 647.7h0.01M481.7 654.4h0.01M303.8 639.0h0.01M493.9 626.4h0.01M496.6 636.8h0.01M297.9 649.3h0.01M337.8 645.7h0.01M369.8 640.5h0.01M298.9 633.6h0.01M494.1 615.7h0.01M403.8 643.1h0.01M396.3 624.6h0.01M482.2 652.1h0.01M498.7 636.7h0.01M358.9 651.4h0.01M347.4 627.6h0.01M324.2 634.9h0.01M478.2 648.9h0.01M456.2 645.9h0.01M500.8 653.7h0.01M427.0 646.7h0.01M485.5 650.3h0.01M451.1 649.7h0.01M462.0 647.9h0.01M321.0 653.0h0.01M378.7 654.5h0.01M463.6 649.6h0.01M426.2 618.4h0.01M413.7 650.0h0.01M437.5 646.7h0.01M405.3 644.3h0.01M457.0 653.2h0.01M494.6 649.4h0.01M449.8 650.0h0.01M416.7 648.6h0.01M474.0 651.8h0.01M306.2 646.4h0.01M363.3 643.0h0.01M450.3 653.1h0.01M464.8 650.4h0.01M395.7 647.0h0.01M381.6 610.2h0.01M332.6 652.1h0.01M355.9 646.6h0.01M348.6 635.9h0.01M446.5 636.6h0.01M486.2 636.8h0.01M499.2 613.6h0.01M483.0 652.9h0.01M296.9 637.6h0.01M406.8 652.0h0.01M480.3 631.6h0.01M330.4 639.4h0.01M445.9 652.3h0.01M357.5 631.0h0.01M430.9 648.5h0.01M334.1 653.1h0.01M360.9 654.7h0.01M442.0 631.1h0.01M406.9 648.3h0.01M439.5 647.5h0.01M378.0 648.4h0.01M327.5 641.2h0.01M365.4 624.7h0.01M463.8 623.3h0.01M423.6 615.1h0.01M472.3 646.5h0.01M385.7 650.1h0.01M424.9 634.7h0.01M344.9 626.8h0.01M472.6 653.8h0.01M488.0 654.7h0.01M315.9 647.5h0.01M476.6 651.0h0.01M385.1 622.1h0.01M344.2 653.0h0.01M354.3 638.8h0.01M304.2 653.7h0.01M360.0 629.9h0.01M401.5 645.1h0.01M305.3 654.8h0.01M404.1 639.4h0.01M354.2 619.2h0.01M499.1 655.1h0.01M495.8 647.9h0.01M463.6 637.3h0.01M492.3 651.7h0.01M414.6 634.1h0.01M454.7 654.8h0.01M388.0 648.6h0.01M477.3 653.9h0.01M469.0 631.3h0.01M465.1 639.9h0.01M421.3 636.8h0.01M332.5 655.0h0.01M331.8 647.0h0.01M298.0 622.7h0.01M336.1 638.8h0.01M318.3 652.2h0.01M302.3 643.4h0.01M434.8 613.2h0.01M423.5 651.8h0.01M297.0 648.5h0.01M344.6 643.8h0.01M440.1 651.3h0.01M376.8 643.6h0.01M392.2 604.4h0.01M486.0 611.2h0.01M457.3 619.2h0.01M418.2 648.4h0.01M387.6 635.1h0.01M362.4 642.9h0.01M341.3 650.6h0.01M427.4 630.1h0.01M491.1 624.8h0.01M316.6 648.2h0.01M410.3 654.2h0.01M399.3 627.3h0.01M355.0 653.0h0.01M360.3 649.3h0.01M393.0 619.3h0.01M381.0 642.9h0.01M484.0 653.8h0.01M446.2 646.6h0.01M372.3 652.9h0.01M314.9 651.6h0.01M355.5 635.9h0.01M311.1 648.6h0.01M414.0 655.0h0.01M376.5 652.7h0.01M434.5 653.8h0.01M385.5 651.6h0.01M452.2 642.7h0.01M357.1 629.5h0.01M397.1 643.4h0.01M356.2 619.7h0.01M466.0 637.2h0.01M472.6 652.6h0.01M489.2 653.3h0.01" stroke="#62c6a8" stroke-width="1.55" stroke-linecap="round" fill="none"/>
<ellipse cx="310.5" cy="516.3" rx="2.05" ry="1.35" fill="#ffffff" stroke="#1e3c3a" stroke-width="0.95"/>
<text x="294.40" y="505.21" font-size="6.7" fill="#111" transform="rotate(0.03 294.40 505.21)" textLength="93.57" lengthAdjust="spacingAndGlyphs">Reactome: Highly calcium permeable</text>
<text x="294.40" y="512.31" font-size="6.7" fill="#111" transform="rotate(0.03 294.40 512.31)" textLength="112.74" lengthAdjust="spacingAndGlyphs">postsynaptic nicotinic acetylcholine receptors</text>
<ellipse cx="386.7" cy="533.9" rx="2.05" ry="1.35" fill="#8ea4d0" stroke="#4a6bb5" stroke-width="0.95"/>
<text x="348.30" y="524.11" font-size="6.7" fill="#111" transform="rotate(0.03 348.30 524.11)" textLength="81.66" lengthAdjust="spacingAndGlyphs">Reactome: Acetylcholine binding</text>
<text x="348.30" y="531.21" font-size="6.7" fill="#111" transform="rotate(0.03 348.30 531.21)" textLength="59.98" lengthAdjust="spacingAndGlyphs">and downstream events</text>
<ellipse cx="444.6" cy="525.5" rx="2.05" ry="1.35" fill="#f2c4c6" stroke="#c0404a" stroke-width="0.95"/>
<text x="434.40" y="514.71" font-size="6.7" fill="#111" transform="rotate(0.03 434.40 514.71)" textLength="58.41" lengthAdjust="spacingAndGlyphs">Reactome: Presynaptic</text>
<text x="434.40" y="521.81" font-size="6.7" fill="#111" transform="rotate(0.03 434.40 521.81)" textLength="79.76" lengthAdjust="spacingAndGlyphs">nicotinic acetylcholine receptors</text>
<ellipse cx="334.8" cy="585.0" rx="2.05" ry="1.35" fill="#a4b868" stroke="#c4b450" stroke-width="0.95"/>
<text x="303.80" y="575.11" font-size="6.7" fill="#111" transform="rotate(0.03 303.80 575.11)" textLength="62.18" lengthAdjust="spacingAndGlyphs">Reactome: Regulation of</text>
<text x="303.80" y="582.21" font-size="6.7" fill="#111" transform="rotate(0.03 303.80 582.21)" textLength="103.93" lengthAdjust="spacingAndGlyphs">Hypoxia-inducible Factor (HIF) by oxygen</text>
<ellipse cx="482.3" cy="575.6" rx="2.05" ry="1.35" fill="#ffffff" stroke="#5050a8" stroke-width="0.95"/>
<text x="437.90" y="572.41" font-size="6.7" fill="#111" transform="rotate(0.03 437.90 572.41)" textLength="74.10" lengthAdjust="spacingAndGlyphs">Reactome: Signaling by WNT</text>
</svg></body></html>
